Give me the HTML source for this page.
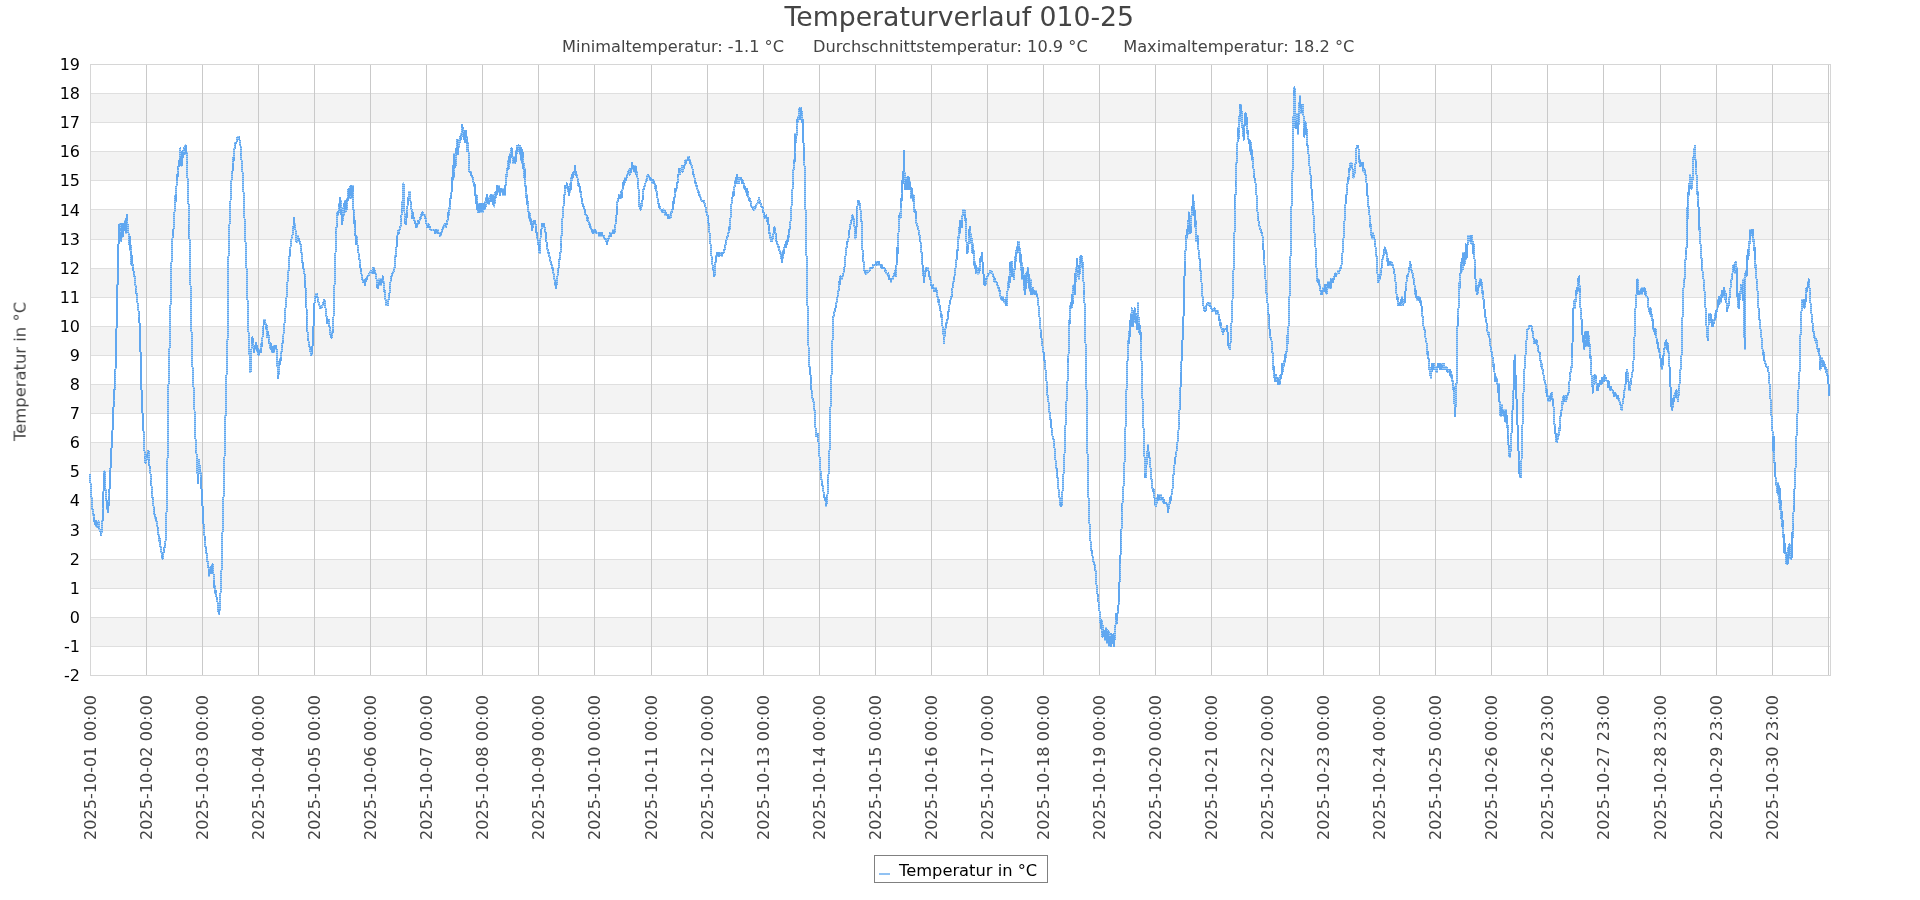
<!DOCTYPE html><html><head><meta charset="utf-8"><title>Temperaturverlauf 010-25</title><style>
html,body{margin:0;padding:0;background:#fff;width:1920px;height:900px;overflow:hidden}
text{font-family:"DejaVu Sans","Liberation Sans",sans-serif}
.yt{font-size:16px;fill:#000}
.xt{font-size:16.1px;fill:#444}
.title{font-size:26.7px;fill:#444}
.sub{font-size:16.2px;fill:#444}
.ylab{font-size:16.4px;fill:#444}
.leg{font-size:16.3px;fill:#000}
</style></head><body><svg width="1920" height="900" viewBox="0 0 1920 900" style="position:absolute;left:0;top:0">
<rect x="91" y="618" width="1737" height="28" fill="#f3f3f3"/>
<rect x="91" y="560" width="1737" height="28" fill="#f3f3f3"/>
<rect x="91" y="501" width="1737" height="29" fill="#f3f3f3"/>
<rect x="91" y="443" width="1737" height="28" fill="#f3f3f3"/>
<rect x="91" y="385" width="1737" height="28" fill="#f3f3f3"/>
<rect x="91" y="327" width="1737" height="28" fill="#f3f3f3"/>
<rect x="91" y="269" width="1737" height="28" fill="#f3f3f3"/>
<rect x="91" y="210" width="1737" height="29" fill="#f3f3f3"/>
<rect x="91" y="152" width="1737" height="28" fill="#f3f3f3"/>
<rect x="91" y="94" width="1737" height="28" fill="#f3f3f3"/>
<line x1="90" y1="646.5" x2="1830" y2="646.5" stroke="#dfdfdf" stroke-width="1"/>
<line x1="90" y1="617.5" x2="1830" y2="617.5" stroke="#dfdfdf" stroke-width="1"/>
<line x1="90" y1="588.5" x2="1830" y2="588.5" stroke="#dfdfdf" stroke-width="1"/>
<line x1="90" y1="559.5" x2="1830" y2="559.5" stroke="#dfdfdf" stroke-width="1"/>
<line x1="90" y1="530.5" x2="1830" y2="530.5" stroke="#dfdfdf" stroke-width="1"/>
<line x1="90" y1="500.5" x2="1830" y2="500.5" stroke="#dfdfdf" stroke-width="1"/>
<line x1="90" y1="471.5" x2="1830" y2="471.5" stroke="#dfdfdf" stroke-width="1"/>
<line x1="90" y1="442.5" x2="1830" y2="442.5" stroke="#dfdfdf" stroke-width="1"/>
<line x1="90" y1="413.5" x2="1830" y2="413.5" stroke="#dfdfdf" stroke-width="1"/>
<line x1="90" y1="384.5" x2="1830" y2="384.5" stroke="#dfdfdf" stroke-width="1"/>
<line x1="90" y1="355.5" x2="1830" y2="355.5" stroke="#dfdfdf" stroke-width="1"/>
<line x1="90" y1="326.5" x2="1830" y2="326.5" stroke="#dfdfdf" stroke-width="1"/>
<line x1="90" y1="297.5" x2="1830" y2="297.5" stroke="#dfdfdf" stroke-width="1"/>
<line x1="90" y1="268.5" x2="1830" y2="268.5" stroke="#dfdfdf" stroke-width="1"/>
<line x1="90" y1="239.5" x2="1830" y2="239.5" stroke="#dfdfdf" stroke-width="1"/>
<line x1="90" y1="209.5" x2="1830" y2="209.5" stroke="#dfdfdf" stroke-width="1"/>
<line x1="90" y1="180.5" x2="1830" y2="180.5" stroke="#dfdfdf" stroke-width="1"/>
<line x1="90" y1="151.5" x2="1830" y2="151.5" stroke="#dfdfdf" stroke-width="1"/>
<line x1="90" y1="122.5" x2="1830" y2="122.5" stroke="#dfdfdf" stroke-width="1"/>
<line x1="90" y1="93.5" x2="1830" y2="93.5" stroke="#dfdfdf" stroke-width="1"/>
<line x1="146.5" y1="64" x2="146.5" y2="675" stroke="#c9c9c9" stroke-width="1"/>
<line x1="202.5" y1="64" x2="202.5" y2="675" stroke="#c9c9c9" stroke-width="1"/>
<line x1="258.5" y1="64" x2="258.5" y2="675" stroke="#c9c9c9" stroke-width="1"/>
<line x1="314.5" y1="64" x2="314.5" y2="675" stroke="#c9c9c9" stroke-width="1"/>
<line x1="370.5" y1="64" x2="370.5" y2="675" stroke="#c9c9c9" stroke-width="1"/>
<line x1="426.5" y1="64" x2="426.5" y2="675" stroke="#c9c9c9" stroke-width="1"/>
<line x1="482.5" y1="64" x2="482.5" y2="675" stroke="#c9c9c9" stroke-width="1"/>
<line x1="538.5" y1="64" x2="538.5" y2="675" stroke="#c9c9c9" stroke-width="1"/>
<line x1="594.5" y1="64" x2="594.5" y2="675" stroke="#c9c9c9" stroke-width="1"/>
<line x1="651.5" y1="64" x2="651.5" y2="675" stroke="#c9c9c9" stroke-width="1"/>
<line x1="707.5" y1="64" x2="707.5" y2="675" stroke="#c9c9c9" stroke-width="1"/>
<line x1="763.5" y1="64" x2="763.5" y2="675" stroke="#c9c9c9" stroke-width="1"/>
<line x1="819.5" y1="64" x2="819.5" y2="675" stroke="#c9c9c9" stroke-width="1"/>
<line x1="875.5" y1="64" x2="875.5" y2="675" stroke="#c9c9c9" stroke-width="1"/>
<line x1="931.5" y1="64" x2="931.5" y2="675" stroke="#c9c9c9" stroke-width="1"/>
<line x1="987.5" y1="64" x2="987.5" y2="675" stroke="#c9c9c9" stroke-width="1"/>
<line x1="1043.5" y1="64" x2="1043.5" y2="675" stroke="#c9c9c9" stroke-width="1"/>
<line x1="1099.5" y1="64" x2="1099.5" y2="675" stroke="#c9c9c9" stroke-width="1"/>
<line x1="1155.5" y1="64" x2="1155.5" y2="675" stroke="#c9c9c9" stroke-width="1"/>
<line x1="1211.5" y1="64" x2="1211.5" y2="675" stroke="#c9c9c9" stroke-width="1"/>
<line x1="1267.5" y1="64" x2="1267.5" y2="675" stroke="#c9c9c9" stroke-width="1"/>
<line x1="1323.5" y1="64" x2="1323.5" y2="675" stroke="#c9c9c9" stroke-width="1"/>
<line x1="1379.5" y1="64" x2="1379.5" y2="675" stroke="#c9c9c9" stroke-width="1"/>
<line x1="1435.5" y1="64" x2="1435.5" y2="675" stroke="#c9c9c9" stroke-width="1"/>
<line x1="1491.5" y1="64" x2="1491.5" y2="675" stroke="#c9c9c9" stroke-width="1"/>
<line x1="1547.5" y1="64" x2="1547.5" y2="675" stroke="#c9c9c9" stroke-width="1"/>
<line x1="1603.5" y1="64" x2="1603.5" y2="675" stroke="#c9c9c9" stroke-width="1"/>
<line x1="1660.5" y1="64" x2="1660.5" y2="675" stroke="#c9c9c9" stroke-width="1"/>
<line x1="1716.5" y1="64" x2="1716.5" y2="675" stroke="#c9c9c9" stroke-width="1"/>
<line x1="1772.5" y1="64" x2="1772.5" y2="675" stroke="#c9c9c9" stroke-width="1"/>
<line x1="1828.5" y1="64" x2="1828.5" y2="675" stroke="#c9c9c9" stroke-width="1"/>
<rect x="90.5" y="64.5" width="1740" height="611" fill="none" stroke="#d6d6d6" stroke-width="1"/>
<g fill="none" stroke-width="2" stroke-linejoin="round" shape-rendering="crispEdges"><polyline points="90.0,474.2 90.25,477.2 90.5,483.0 90.75,488.8 91.0,491.7 91.25,497.5 91.75,497.5 92.0,506.2 92.25,509.2 92.75,509.2 93.0,512.1 93.25,515.0 93.75,515.0 94.0,520.8 94.25,517.9 94.5,520.8 94.75,520.8 95.0,523.7 95.25,520.8 95.5,523.7 95.75,520.8 96.0,520.8 96.25,523.7 96.5,526.6 96.75,526.6 97.0,523.7 97.25,523.7 97.5,526.6 97.75,523.7 98.25,523.7 98.5,520.8 98.75,526.6 99.25,526.6 99.5,529.5 100.25,529.5 100.5,532.4 100.75,529.5 101.0,529.5 101.25,535.3 101.5,532.4 101.75,532.4 102.0,529.5 102.25,520.8 102.75,520.8 103.0,509.2 103.25,500.4 103.5,491.7 103.75,480.1 104.0,474.2 104.25,471.3 104.5,471.3 104.75,474.2 105.0,477.2 105.25,485.9 105.5,488.8 105.75,494.6 106.0,497.5 106.25,500.4 106.5,500.4 106.75,503.3 107.0,509.2 107.5,509.2 107.75,512.1 108.0,509.2 108.25,509.2 108.5,506.2 108.75,503.3 109.0,500.4 109.25,494.6 109.5,488.8 109.75,483.0 110.0,480.1 110.25,471.3 110.5,468.4 110.75,462.6 111.0,456.8 111.25,453.9 111.5,448.1 111.75,445.1 112.0,439.3 112.25,433.5 112.5,430.6 112.75,424.8 113.0,419.0 113.25,413.1 113.5,407.3 113.75,401.5 114.0,398.6 114.25,392.8 114.5,389.9 114.75,384.0 115.0,378.2 115.25,372.4 115.5,369.5 115.75,363.7 116.0,366.6 116.25,346.2 116.5,328.8 116.75,317.1 117.0,311.3 117.25,302.6 117.5,285.1 117.75,273.5 118.0,264.8 118.25,253.1 118.5,244.4 118.75,241.5 119.0,229.8 119.25,232.8 119.5,224.0 120.0,224.0 120.25,229.8 120.5,229.8 120.75,241.5 121.0,241.5 121.25,232.8 121.5,238.6 121.75,226.9 122.0,235.7 122.25,224.0 122.5,232.8 122.75,226.9 123.0,229.8 123.25,235.7 123.5,224.0 123.75,224.0 124.0,226.9 124.75,226.9 125.0,221.1 125.25,229.8 125.5,226.9 125.75,232.8 126.25,232.8 126.5,218.2 126.75,221.1 127.0,215.3 127.25,218.2 127.5,224.0 127.75,226.9 128.0,229.8 128.25,229.8 128.5,232.8 128.75,235.7 129.0,244.4 129.25,241.5 129.5,235.7 129.75,244.4 130.0,250.2 130.25,244.4 130.5,244.4 130.75,256.0 131.0,253.1 131.25,256.0 131.5,264.8 131.75,256.0 132.0,261.8 132.25,261.8 132.5,264.8 132.75,264.8 133.0,267.7 133.25,267.7 133.5,270.6 133.75,273.5 134.0,273.5 134.25,276.4 134.5,276.4 134.75,279.3 135.0,282.2 135.25,285.1 135.5,285.1 135.75,288.0 136.0,288.0 136.25,290.9 136.5,293.9 136.75,293.9 137.0,296.8 137.25,299.7 137.5,302.6 137.75,305.5 138.0,305.5 138.25,308.4 138.5,311.3 138.75,311.3 139.0,314.2 139.25,317.1 139.5,322.9 139.75,328.8 140.0,337.5 140.25,343.3 140.5,352.0 140.75,357.9 141.0,363.7 141.25,378.2 141.5,389.9 141.75,395.7 142.0,401.5 142.25,410.2 142.5,413.1 142.75,416.1 143.0,424.8 143.25,430.6 143.5,430.6 143.75,436.4 144.0,442.2 144.25,445.1 144.5,451.0 144.75,456.8 145.0,456.8 145.25,459.7 145.5,462.6 145.75,459.7 146.5,459.7 146.75,456.8 147.25,456.8 147.5,453.9 148.0,453.9 148.25,451.0 148.5,451.0 148.75,459.7 149.0,459.7 149.25,462.6 149.5,465.5 149.75,468.4 150.25,468.4 150.5,474.2 150.75,474.2 151.0,480.1 151.25,480.1 151.5,485.9 151.75,491.7 152.0,491.7 152.25,494.6 152.5,497.5 152.75,497.5 153.0,500.4 153.25,503.3 153.5,506.2 153.75,509.2 154.0,509.2 154.25,512.1 154.5,515.0 154.75,515.0 155.0,517.9 155.75,517.9 156.0,520.8 156.5,520.8 156.75,523.7 157.0,526.6 157.5,526.6 157.75,529.5 158.0,529.5 158.25,532.4 158.5,535.3 159.0,535.3 159.25,541.2 159.5,538.3 159.75,541.2 160.0,541.2 160.25,544.1 160.5,547.0 161.0,547.0 161.25,549.9 161.5,552.8 161.75,552.8 162.0,555.7 162.25,555.7 162.5,558.6 162.75,558.6 163.0,555.7 163.25,555.7 163.5,552.8 163.75,552.8 164.0,549.9 164.25,549.9 164.5,547.0 164.75,547.0 165.0,544.1 165.25,544.1 165.5,541.2 165.75,535.3 166.0,529.5 166.25,520.8 166.5,512.1 166.75,500.4 167.0,491.7 167.25,474.2 167.5,459.7 167.75,436.4 168.0,404.4 168.25,392.8 168.5,384.0 168.75,375.3 169.0,366.6 169.25,355.0 169.5,349.1 169.75,337.5 170.0,331.7 170.25,317.1 170.5,305.5 170.75,293.9 171.0,282.2 171.25,270.6 171.5,261.8 171.75,253.1 172.0,244.4 172.25,241.5 172.5,238.6 172.75,235.7 173.0,235.7 173.25,229.8 173.5,229.8 173.75,224.0 174.0,221.1 174.25,218.2 174.5,212.4 174.75,209.5 175.0,206.6 175.25,203.7 175.5,194.9 175.75,200.7 176.0,200.7 176.25,197.8 176.5,186.2 176.75,177.5 177.0,174.6 177.25,180.4 177.5,177.5 177.75,174.6 178.0,168.7 178.25,168.7 178.5,165.8 178.75,162.9 179.0,165.8 179.25,162.9 179.5,160.0 179.75,160.0 180.0,157.1 180.25,148.4 180.5,151.3 180.75,154.2 181.0,162.9 181.25,157.1 181.5,165.8 181.75,165.8 182.0,154.2 182.25,151.3 182.5,154.2 182.75,157.1 183.0,154.2 183.25,157.1 183.5,154.2 183.75,148.4 184.0,154.2 184.5,154.2 184.75,148.4 185.0,145.5 185.25,151.3 185.5,145.5 185.75,154.2 186.0,145.5 186.25,148.4 186.5,151.3 186.75,162.9 187.0,162.9 187.25,171.7 187.5,177.5 187.75,186.2 188.0,194.9 188.25,203.7 188.5,203.7 188.75,215.3 189.0,224.0 189.25,229.8 189.5,238.6 189.75,244.4 190.0,250.2 190.25,267.7 190.5,285.1 190.75,299.7 191.0,311.3 191.25,320.0 191.5,331.7 191.75,340.4 192.0,349.1 192.25,360.8 192.5,366.6 192.75,372.4 193.0,375.3 193.25,381.1 193.5,387.0 193.75,392.8 194.0,395.7 194.25,407.3 194.5,410.2 194.75,421.9 195.0,424.8 195.25,436.4 195.5,439.3 195.75,442.2 196.0,451.0 196.25,451.0 196.5,453.9 196.75,459.7 197.0,465.5 197.25,471.3 197.5,474.2 197.75,477.2 198.0,483.0 198.25,477.2 198.5,474.2 198.75,471.3 199.0,465.5 199.25,459.7 199.5,465.5 199.75,465.5 200.0,468.4 200.25,471.3 200.5,471.3 200.75,477.2 201.0,477.2 201.25,485.9 201.5,488.8 201.75,494.6 202.0,497.5 202.25,500.4 202.5,506.2 202.75,512.1 203.0,517.9 203.25,520.8 203.5,523.7 203.75,526.6 204.0,526.6 204.25,535.3 204.5,535.3 204.75,541.2 205.0,538.3 205.25,544.1 205.5,547.0 206.0,547.0 206.25,552.8 206.5,552.8 206.75,555.7 207.0,558.6 207.25,558.6 207.5,561.5 207.75,564.4 208.0,561.5 208.25,567.3 208.5,567.3 208.75,570.3 209.0,573.2 209.25,576.1 209.5,570.3 209.75,573.2 210.75,573.2 211.0,567.3 211.25,573.2 211.5,573.2 211.75,570.3 212.0,570.3 212.25,564.4 212.5,564.4 212.75,567.3 213.0,573.2 213.5,573.2 213.75,584.8 214.0,581.9 214.25,587.7 214.5,584.8 214.75,590.6 215.0,590.6 215.25,593.5 215.5,593.5 215.75,590.6 216.0,593.5 216.25,596.4 216.5,596.4 216.75,599.4 217.25,599.4 217.5,602.3 217.75,605.2 218.0,611.0 218.75,611.0 219.0,613.9 219.25,613.9 219.5,611.0 219.75,605.2 220.0,602.3 220.25,599.4 220.5,593.5 220.75,590.6 221.0,581.9 221.25,579.0 221.5,570.3 221.75,561.5 222.0,552.8 222.25,541.2 222.5,532.4 222.75,523.7 223.0,515.0 223.25,506.2 223.5,497.5 223.75,485.9 224.0,477.2 224.25,468.4 224.5,456.8 224.75,448.1 225.0,436.4 225.25,427.7 225.5,416.1 225.75,404.4 226.0,392.8 226.25,381.1 226.5,375.3 226.75,372.4 227.0,369.5 227.25,366.6 227.5,340.4 227.75,308.4 228.0,273.5 228.25,264.8 228.5,256.0 228.75,247.3 229.0,235.7 229.25,229.8 229.5,224.0 229.75,218.2 230.0,212.4 230.25,206.6 230.5,200.7 230.75,194.9 231.0,189.1 231.25,186.2 231.5,180.4 231.75,177.5 232.0,174.6 232.25,171.7 232.5,171.7 232.75,165.8 233.0,162.9 233.25,165.8 233.5,157.1 233.75,160.0 234.0,157.1 234.25,154.2 234.5,148.4 234.75,148.4 235.0,145.5 235.25,142.6 236.5,142.6 236.75,139.6 237.25,139.6 237.5,136.7 237.75,139.6 238.0,136.7 238.75,136.7 239.0,139.6 239.5,139.6 239.75,145.5 240.5,145.5 240.75,148.4 241.0,154.2 241.25,154.2 241.5,160.0 241.75,162.9 242.0,165.8 242.25,168.7 242.5,171.7 242.75,174.6 243.0,180.4 243.25,186.2 243.5,192.0 243.75,200.7 244.0,203.7 244.25,209.5 244.5,218.2 244.75,224.0 245.0,229.8 245.25,235.7 245.5,241.5 245.75,247.3 246.0,253.1 246.25,261.8 246.5,267.7 246.75,273.5 247.0,282.2 247.25,290.9 247.5,299.7 247.75,308.4 248.0,317.1 248.25,322.9 248.5,331.7 248.75,340.4 249.0,349.1 249.25,352.0 249.5,355.0 249.75,366.6 250.0,369.5 250.25,372.4 250.5,372.4 250.75,366.6 251.0,355.0 251.25,352.0 251.5,349.1 251.75,346.2 252.0,343.3 252.25,343.3 252.5,337.5 252.75,340.4 253.0,343.3 253.25,343.3 253.5,346.2 253.75,346.2 254.0,349.1 254.25,352.0 254.5,349.1 254.75,349.1 255.0,346.2 255.25,349.1 255.5,349.1 255.75,346.2 256.0,343.3 256.25,346.2 256.5,349.1 256.75,349.1 257.0,346.2 257.25,349.1 257.5,352.0 257.75,352.0 258.0,349.1 258.25,352.0 258.5,355.0 258.75,355.0 259.0,352.0 259.25,355.0 259.5,352.0 260.25,352.0 260.5,349.1 260.75,352.0 261.0,349.1 261.25,349.1 261.5,343.3 261.75,346.2 262.0,346.2 262.25,340.4 262.5,337.5 262.75,334.6 263.0,334.6 263.25,331.7 263.5,325.9 263.75,320.0 264.0,322.9 264.25,322.9 264.5,320.0 264.75,320.0 265.0,322.9 265.5,322.9 265.75,325.9 266.0,325.9 266.25,328.8 266.5,325.9 266.75,325.9 267.0,328.8 267.25,328.8 267.5,337.5 267.75,331.7 268.0,334.6 268.5,334.6 268.75,337.5 269.0,343.3 269.25,340.4 269.5,343.3 269.75,343.3 270.0,346.2 270.25,346.2 270.5,349.1 270.75,343.3 271.0,346.2 271.5,346.2 271.75,349.1 272.0,352.0 272.5,352.0 272.75,349.1 273.0,349.1 273.25,352.0 273.5,346.2 273.75,352.0 274.0,346.2 275.25,346.2 275.5,349.1 275.75,346.2 276.25,346.2 276.5,349.1 276.75,355.0 277.0,357.9 277.25,360.8 277.5,366.6 277.75,372.4 278.0,378.2 278.25,375.3 278.5,375.3 278.75,372.4 279.0,372.4 279.25,369.5 279.5,360.8 279.75,363.7 280.0,363.7 280.25,360.8 280.5,357.9 280.75,360.8 281.0,357.9 281.25,352.0 281.5,352.0 281.75,349.1 282.0,346.2 282.25,346.2 282.5,343.3 282.75,343.3 283.0,340.4 283.25,340.4 283.5,334.6 283.75,331.7 284.0,328.8 284.25,325.9 284.5,322.9 284.75,320.0 285.0,314.2 285.25,311.3 285.5,308.4 285.75,305.5 286.0,302.6 286.25,299.7 286.5,296.8 286.75,293.9 287.0,290.9 287.25,285.1 287.5,282.2 287.75,279.3 288.0,276.4 288.25,276.4 288.5,270.6 288.75,267.7 289.0,264.8 289.25,258.9 289.5,256.0 289.75,256.0 290.0,250.2 290.25,250.2 290.5,247.3 290.75,244.4 291.0,241.5 291.25,241.5 291.5,238.6 291.75,238.6 292.0,235.7 292.5,235.7 292.75,232.8 293.0,229.8 293.25,226.9 293.5,226.9 293.75,221.1 294.0,218.2 294.25,221.1 294.5,224.0 295.0,224.0 295.25,226.9 295.5,229.8 295.75,232.8 296.0,235.7 296.25,238.6 296.5,241.5 297.5,241.5 297.75,238.6 298.0,235.7 298.25,238.6 298.75,238.6 299.0,241.5 299.75,241.5 300.0,244.4 300.5,244.4 300.75,247.3 301.0,250.2 301.25,250.2 301.5,253.1 301.75,253.1 302.0,256.0 302.25,261.8 302.5,261.8 302.75,264.8 303.0,267.7 303.5,267.7 303.75,270.6 304.0,270.6 304.25,273.5 304.5,273.5 304.75,276.4 305.0,279.3 305.25,282.2 305.5,288.0 305.75,293.9 306.0,296.8 306.25,302.6 306.5,308.4 306.75,317.1 307.0,322.9 307.25,328.8 307.5,331.7 307.75,334.6 308.0,337.5 308.25,340.4 308.5,340.4 308.75,346.2 309.5,346.2 309.75,349.1 310.25,349.1 310.5,352.0 310.75,355.0 311.5,355.0 311.75,352.0 312.25,352.0 312.5,346.2 312.75,343.3 313.0,337.5 313.25,331.7 313.5,325.9 313.75,320.0 314.0,311.3 314.25,305.5 314.5,302.6 314.75,302.6 315.0,299.7 315.25,296.8 315.75,296.8 316.0,293.9 316.75,293.9 317.0,296.8 317.5,296.8 317.75,299.7 318.0,299.7 318.25,302.6 319.0,302.6 319.25,305.5 319.5,305.5 319.75,308.4 320.0,305.5 321.0,305.5 321.25,308.4 321.5,308.4 321.75,305.5 323.0,305.5 323.25,302.6 324.0,302.6 324.25,299.7 324.5,299.7 324.75,302.6 325.0,302.6 325.25,305.5 325.5,308.4 325.75,308.4 326.0,311.3 326.25,314.2 326.5,317.1 326.75,317.1 327.0,320.0 327.25,322.9 328.0,322.9 328.25,320.0 329.0,320.0 329.25,325.9 329.5,325.9 329.75,328.8 330.25,328.8 330.5,334.6 331.25,334.6 331.5,337.5 332.0,337.5 332.25,334.6 332.5,331.7 332.75,328.8 333.0,331.7 333.25,322.9 333.5,317.1 333.75,308.4 334.0,305.5 334.25,299.7 334.5,285.1 334.75,282.2 335.0,273.5 335.25,267.7 335.5,253.1 335.75,244.4 336.0,232.8 336.25,232.8 336.5,226.9 336.75,226.9 337.0,224.0 337.25,215.3 337.5,212.4 337.75,215.3 338.0,215.3 338.25,212.4 338.75,212.4 339.0,203.7 339.25,206.6 339.5,203.7 339.75,206.6 340.0,197.8 340.25,203.7 340.5,209.5 340.75,200.7 341.0,212.4 341.25,209.5 341.5,215.3 341.75,224.0 342.0,224.0 342.25,221.1 342.5,221.1 342.75,218.2 343.0,215.3 343.25,215.3 343.5,206.6 343.75,215.3 344.0,203.7 344.25,206.6 344.5,203.7 344.75,200.7 345.0,200.7 345.25,209.5 345.5,212.4 345.75,209.5 346.25,209.5 346.5,200.7 346.75,209.5 347.0,200.7 347.25,206.6 347.5,197.8 347.75,200.7 348.0,197.8 348.25,194.9 348.5,189.1 348.75,194.9 349.0,194.9 349.25,197.8 349.5,192.0 349.75,194.9 350.0,189.1 350.25,192.0 350.5,186.2 350.75,197.8 351.0,192.0 351.25,186.2 351.5,192.0 351.75,194.9 352.0,192.0 352.25,197.8 352.5,192.0 352.75,186.2 353.0,194.9 353.25,206.6 353.5,209.5 354.0,209.5 354.25,221.1 354.5,224.0 354.75,221.1 355.0,224.0 355.25,229.8 355.5,235.7 355.75,238.6 356.0,238.6 356.25,244.4 356.5,235.7 356.75,244.4 357.0,241.5 357.25,244.4 357.5,244.4 357.75,250.2 358.25,250.2 358.5,253.1 358.75,256.0 359.0,256.0 359.25,258.9 359.5,258.9 359.75,261.8 360.0,264.8 360.25,264.8 360.5,267.7 360.75,270.6 361.0,270.6 361.25,273.5 361.5,273.5 361.75,276.4 362.0,276.4 362.25,279.3 362.75,279.3 363.0,282.2 364.5,282.2 364.75,285.1 365.0,282.2 365.25,279.3 365.5,282.2 365.75,279.3 366.75,279.3 367.0,276.4 368.5,276.4 368.75,273.5 370.25,273.5 370.5,270.6 370.75,273.5 371.0,270.6 371.25,270.6 371.5,273.5 371.75,270.6 372.5,270.6 372.75,267.7 373.0,270.6 373.25,273.5 373.5,270.6 373.75,273.5 374.0,270.6 374.25,267.7 374.5,270.6 374.75,273.5 375.0,273.5 375.25,270.6 375.5,273.5 375.75,276.4 376.0,276.4 376.25,273.5 376.5,279.3 376.75,282.2 377.0,285.1 377.25,285.1 377.5,288.0 377.75,288.0 378.0,285.1 378.25,288.0 378.5,285.1 378.75,285.1 379.0,279.3 379.25,285.1 379.5,282.2 380.0,282.2 380.25,279.3 380.5,282.2 380.75,282.2 381.0,285.1 381.25,282.2 381.5,279.3 381.75,279.3 382.0,282.2 382.25,279.3 382.5,279.3 382.75,276.4 383.0,279.3 383.25,279.3 383.5,282.2 384.0,282.2 384.25,290.9 384.75,290.9 385.0,293.9 385.25,296.8 385.5,299.7 385.75,299.7 386.0,302.6 386.25,305.5 386.5,302.6 387.75,302.6 388.0,305.5 388.25,302.6 388.5,299.7 388.75,296.8 389.0,296.8 389.25,293.9 389.5,293.9 389.75,288.0 390.0,288.0 390.25,285.1 390.5,282.2 390.75,279.3 391.25,279.3 391.5,276.4 391.75,276.4 392.0,273.5 393.25,273.5 393.5,270.6 394.25,270.6 394.5,267.7 394.75,264.8 395.0,261.8 395.25,256.0 395.75,256.0 396.0,250.2 396.25,247.3 396.5,247.3 396.75,244.4 397.0,241.5 397.25,238.6 397.5,235.7 397.75,232.8 398.25,232.8 398.5,229.8 398.75,229.8 399.0,232.8 399.25,229.8 399.75,229.8 400.0,226.9 400.5,226.9 400.75,221.1 401.0,218.2 401.25,218.2 401.5,215.3 401.75,212.4 402.0,209.5 402.25,209.5 402.5,200.7 402.75,194.9 403.0,189.1 403.25,186.2 403.5,183.3 403.75,189.1 404.0,200.7 404.25,203.7 404.5,212.4 404.75,218.2 405.0,218.2 405.25,221.1 405.5,224.0 405.75,221.1 406.0,224.0 406.25,221.1 406.5,218.2 406.75,212.4 407.0,212.4 407.25,206.6 407.5,206.6 407.75,197.8 408.0,203.7 408.25,197.8 408.75,197.8 409.0,194.9 409.25,192.0 409.75,192.0 410.0,197.8 410.25,200.7 410.5,200.7 410.75,203.7 411.0,203.7 411.25,206.6 411.5,209.5 411.75,209.5 412.0,212.4 412.25,218.2 412.75,218.2 413.0,212.4 413.25,218.2 414.25,218.2 414.5,221.1 415.25,221.1 415.5,224.0 416.0,224.0 416.25,226.9 416.5,224.0 416.75,226.9 417.0,224.0 418.0,224.0 418.25,221.1 418.5,224.0 418.75,221.1 419.5,221.1 419.75,218.2 420.75,218.2 421.0,215.3 422.25,215.3 422.5,212.4 422.75,215.3 425.0,215.3 425.25,218.2 425.5,218.2 425.75,221.1 426.25,221.1 426.5,224.0 427.0,224.0 427.25,226.9 428.25,226.9 428.5,224.0 428.75,226.9 430.0,226.9 430.25,229.8 435.0,229.8 435.25,232.8 435.5,229.8 435.75,232.8 436.0,229.8 436.5,229.8 436.75,232.8 437.75,232.8 438.0,229.8 438.25,232.8 439.5,232.8 439.75,235.7 440.75,235.7 441.0,232.8 441.5,232.8 441.75,229.8 442.5,229.8 442.75,226.9 444.25,226.9 444.5,224.0 445.25,224.0 445.5,226.9 446.0,226.9 446.25,224.0 447.0,224.0 447.25,221.1 447.5,221.1 447.75,218.2 448.0,218.2 448.25,215.3 448.5,212.4 449.0,212.4 449.25,215.3 449.5,206.6 449.75,209.5 450.0,200.7 450.25,203.7 450.5,197.8 450.75,194.9 451.0,197.8 451.25,194.9 451.5,192.0 451.75,183.3 452.0,177.5 452.25,177.5 452.5,180.4 452.75,171.7 453.0,180.4 453.25,165.8 453.5,171.7 453.75,177.5 454.0,154.2 454.25,160.0 454.5,168.7 454.75,162.9 455.0,162.9 455.25,160.0 455.5,165.8 455.75,160.0 456.0,154.2 456.25,154.2 456.5,148.4 456.75,151.3 457.0,139.6 457.25,151.3 457.5,145.5 457.75,154.2 458.0,151.3 458.25,139.6 458.5,148.4 458.75,142.6 459.0,142.6 459.25,145.5 459.5,142.6 460.0,142.6 460.25,136.7 460.5,136.7 460.75,139.6 461.0,139.6 461.25,133.8 461.5,133.8 461.75,128.0 462.0,125.1 462.25,125.1 462.5,128.0 462.75,128.0 463.0,130.9 463.25,133.8 463.5,136.7 463.75,136.7 464.0,139.6 464.25,133.8 464.5,139.6 464.75,139.6 465.0,142.6 465.25,130.9 465.5,136.7 465.75,130.9 466.0,136.7 466.25,133.8 466.5,142.6 466.75,139.6 467.0,136.7 467.25,151.3 467.5,142.6 467.75,142.6 468.0,148.4 468.25,151.3 468.5,151.3 468.75,162.9 469.0,162.9 469.25,168.7 469.5,171.7 470.5,171.7 470.75,174.6 471.0,171.7 471.25,174.6 471.5,174.6 471.75,177.5 472.5,177.5 472.75,180.4 473.0,177.5 473.25,177.5 473.5,183.3 474.0,183.3 474.25,186.2 474.5,183.3 474.75,194.9 475.0,192.0 475.25,186.2 475.5,194.9 475.75,197.8 476.0,197.8 476.25,203.7 476.5,194.9 476.75,206.6 477.0,200.7 477.25,209.5 477.5,203.7 477.75,206.6 478.0,212.4 478.25,206.6 478.5,212.4 478.75,212.4 479.0,203.7 479.25,212.4 479.5,212.4 479.75,203.7 480.0,209.5 480.25,203.7 480.5,209.5 480.75,212.4 481.0,209.5 481.25,203.7 481.5,203.7 481.75,209.5 482.5,209.5 482.75,203.7 483.0,206.6 483.25,212.4 483.5,209.5 483.75,203.7 484.0,203.7 484.25,206.6 484.5,209.5 484.75,203.7 485.0,209.5 485.25,209.5 485.5,200.7 485.75,206.6 486.0,200.7 486.25,197.8 486.5,200.7 486.75,200.7 487.0,194.9 487.25,197.8 487.5,200.7 487.75,197.8 488.0,197.8 488.25,203.7 488.5,197.8 488.75,197.8 489.0,203.7 489.25,197.8 489.75,197.8 490.0,200.7 490.25,197.8 490.5,194.9 490.75,194.9 491.0,200.7 491.25,194.9 491.5,200.7 491.75,197.8 492.0,194.9 492.25,200.7 492.5,200.7 492.75,194.9 493.0,203.7 493.25,203.7 493.5,200.7 493.75,197.8 494.0,206.6 494.25,206.6 494.5,203.7 494.75,203.7 495.0,200.7 495.25,197.8 495.5,192.0 495.75,197.8 496.0,192.0 496.25,192.0 496.5,194.9 496.75,192.0 497.0,186.2 497.25,189.1 497.5,192.0 497.75,189.1 498.0,192.0 498.25,186.2 498.5,186.2 498.75,192.0 499.0,189.1 499.25,186.2 499.5,192.0 499.75,189.1 500.0,194.9 500.25,192.0 500.5,192.0 500.75,189.1 501.0,192.0 502.5,192.0 502.75,194.9 503.0,189.1 503.25,192.0 503.5,192.0 503.75,194.9 504.0,194.9 504.25,192.0 504.5,194.9 504.75,194.9 505.0,186.2 505.5,186.2 505.75,180.4 506.0,177.5 506.25,174.6 506.5,177.5 506.75,174.6 507.0,168.7 508.0,168.7 508.25,165.8 508.5,160.0 508.75,168.7 509.0,157.1 509.25,157.1 509.5,160.0 509.75,154.2 510.0,162.9 510.25,160.0 510.5,157.1 510.75,151.3 511.25,151.3 511.5,148.4 511.75,157.1 512.0,148.4 512.25,157.1 512.75,157.1 513.0,160.0 513.25,162.9 513.5,162.9 513.75,160.0 514.0,157.1 514.25,157.1 514.5,162.9 515.0,162.9 515.25,157.1 515.5,162.9 515.75,151.3 516.0,157.1 516.25,157.1 516.5,154.2 516.75,148.4 517.0,151.3 517.25,145.5 517.5,148.4 517.75,145.5 518.0,145.5 518.25,148.4 518.5,145.5 518.75,148.4 519.0,148.4 519.25,151.3 519.5,151.3 519.75,145.5 520.0,154.2 520.25,148.4 520.75,148.4 521.0,160.0 521.25,151.3 521.5,148.4 521.75,154.2 522.0,151.3 522.25,162.9 522.5,151.3 522.75,157.1 523.0,154.2 523.25,168.7 523.5,162.9 523.75,168.7 524.0,168.7 524.25,177.5 524.5,177.5 524.75,168.7 525.0,183.3 525.25,186.2 525.5,186.2 525.75,192.0 526.0,186.2 526.25,186.2 526.5,197.8 526.75,203.7 527.0,194.9 527.25,200.7 527.5,200.7 527.75,203.7 528.0,209.5 528.25,209.5 528.5,212.4 528.75,215.3 529.0,212.4 529.25,218.2 529.5,212.4 529.75,218.2 530.0,221.1 530.25,218.2 530.5,218.2 530.75,221.1 531.0,224.0 531.25,224.0 531.5,221.1 531.75,226.9 532.0,229.8 532.25,224.0 532.5,226.9 533.25,226.9 533.5,224.0 533.75,224.0 534.0,221.1 534.25,221.1 534.5,224.0 534.75,221.1 535.0,221.1 535.25,224.0 535.5,224.0 535.75,226.9 536.0,229.8 536.25,226.9 536.5,232.8 536.75,235.7 537.0,232.8 537.25,238.6 537.5,238.6 537.75,241.5 538.0,244.4 538.75,244.4 539.0,250.2 539.25,247.3 539.5,253.1 539.75,253.1 540.0,244.4 540.25,241.5 540.5,238.6 540.75,229.8 541.0,232.8 541.25,229.8 541.5,229.8 541.75,224.0 542.0,226.9 542.25,224.0 542.5,226.9 542.75,224.0 543.0,226.9 543.25,226.9 543.5,224.0 543.75,226.9 544.0,226.9 544.25,224.0 544.5,226.9 544.75,229.8 545.0,229.8 545.25,232.8 545.75,232.8 546.0,238.6 546.25,241.5 546.5,241.5 546.75,244.4 547.0,247.3 547.25,244.4 547.5,250.2 548.0,250.2 548.25,253.1 549.0,253.1 549.25,256.0 549.5,256.0 549.75,258.9 550.25,258.9 550.5,261.8 551.25,261.8 551.5,264.8 551.75,264.8 552.0,267.7 552.75,267.7 553.0,270.6 553.25,270.6 553.5,273.5 553.75,273.5 554.0,276.4 554.25,279.3 554.5,279.3 554.75,282.2 555.0,282.2 555.25,285.1 555.5,282.2 555.75,285.1 556.0,288.0 556.25,285.1 556.5,285.1 556.75,279.3 557.25,279.3 557.5,276.4 557.75,273.5 558.0,270.6 558.25,270.6 558.5,267.7 558.75,267.7 559.0,264.8 559.25,261.8 559.5,258.9 559.75,258.9 560.0,256.0 560.25,253.1 560.5,253.1 560.75,247.3 561.0,244.4 561.25,247.3 561.5,235.7 561.75,232.8 562.0,229.8 562.25,226.9 562.5,218.2 562.75,215.3 563.0,209.5 563.25,206.6 563.5,206.6 563.75,200.7 564.0,197.8 564.25,194.9 564.5,194.9 564.75,192.0 565.0,186.2 565.25,189.1 565.5,186.2 566.5,186.2 566.75,183.3 567.0,186.2 567.25,186.2 567.5,189.1 567.75,186.2 568.0,189.1 568.25,189.1 568.5,192.0 568.75,189.1 569.0,192.0 569.25,194.9 569.5,192.0 569.75,192.0 570.0,189.1 570.25,189.1 570.5,183.3 570.75,189.1 571.0,183.3 571.25,186.2 571.5,177.5 571.75,180.4 572.0,177.5 572.25,174.6 572.5,174.6 572.75,177.5 573.0,174.6 573.25,177.5 573.5,171.7 574.75,171.7 575.0,168.7 575.25,165.8 575.5,174.6 575.75,171.7 576.25,171.7 576.5,174.6 576.75,174.6 577.0,177.5 577.25,174.6 577.5,177.5 577.75,180.4 578.0,180.4 578.25,183.3 578.5,186.2 578.75,183.3 579.0,186.2 579.75,186.2 580.0,192.0 580.75,192.0 581.0,194.9 581.25,197.8 581.5,197.8 581.75,200.7 582.25,200.7 582.5,203.7 583.0,203.7 583.25,206.6 584.0,206.6 584.25,209.5 584.5,209.5 584.75,212.4 585.0,209.5 585.25,212.4 585.5,215.3 586.5,215.3 586.75,218.2 587.25,218.2 587.5,221.1 588.0,221.1 588.25,218.2 588.5,221.1 588.75,224.0 590.0,224.0 590.25,226.9 591.0,226.9 591.25,229.8 592.25,229.8 592.5,232.8 592.75,229.8 593.5,229.8 593.75,232.8 594.0,229.8 594.25,229.8 594.5,232.8 595.25,232.8 595.5,229.8 595.75,232.8 598.75,232.8 599.0,235.7 599.25,232.8 600.75,232.8 601.0,235.7 601.25,235.7 601.5,232.8 601.75,235.7 602.0,235.7 602.25,232.8 602.5,235.7 604.0,235.7 604.25,238.6 606.0,238.6 606.25,241.5 607.0,241.5 607.25,244.4 607.5,241.5 608.0,241.5 608.25,238.6 608.5,238.6 608.75,235.7 609.0,238.6 609.25,235.7 610.0,235.7 610.25,232.8 610.5,232.8 610.75,235.7 611.0,235.7 611.25,232.8 612.5,232.8 612.75,229.8 613.0,232.8 613.25,232.8 613.5,229.8 613.75,232.8 614.0,229.8 614.25,232.8 614.5,232.8 614.75,229.8 615.0,226.9 615.25,226.9 615.5,224.0 615.75,221.1 616.0,221.1 616.25,218.2 616.5,215.3 616.75,212.4 617.0,206.6 617.25,206.6 617.5,200.7 618.25,200.7 618.5,197.8 618.75,194.9 619.5,194.9 619.75,197.8 620.25,197.8 620.5,194.9 621.0,194.9 621.25,192.0 621.5,192.0 621.75,197.8 622.0,192.0 622.25,192.0 622.5,189.1 622.75,183.3 623.0,189.1 623.25,186.2 623.5,186.2 623.75,183.3 624.0,183.3 624.25,180.4 624.5,183.3 624.75,177.5 625.0,180.4 625.25,180.4 625.5,177.5 625.75,177.5 626.0,180.4 626.25,177.5 626.75,177.5 627.0,174.6 627.25,177.5 627.5,174.6 628.0,174.6 628.25,171.7 629.25,171.7 629.5,168.7 629.75,174.6 630.0,168.7 630.75,168.7 631.0,171.7 631.25,168.7 631.5,168.7 631.75,165.8 632.0,168.7 632.25,162.9 632.5,165.8 634.0,165.8 634.25,168.7 634.5,171.7 634.75,168.7 635.0,171.7 635.25,168.7 635.5,165.8 635.75,168.7 636.0,171.7 636.25,171.7 636.5,174.6 636.75,174.6 637.0,171.7 637.25,174.6 637.5,177.5 637.75,180.4 638.0,183.3 638.25,183.3 638.5,189.1 638.75,192.0 639.0,197.8 639.25,197.8 639.5,206.6 639.75,209.5 640.5,209.5 640.75,203.7 641.0,209.5 641.25,206.6 641.75,206.6 642.0,203.7 642.25,200.7 642.5,200.7 642.75,194.9 643.0,197.8 643.25,192.0 643.5,189.1 644.25,189.1 644.5,186.2 645.25,186.2 645.5,183.3 645.75,180.4 646.75,180.4 647.0,177.5 647.25,177.5 647.5,174.6 648.0,174.6 648.25,177.5 648.5,174.6 648.75,177.5 649.5,177.5 649.75,180.4 650.5,180.4 650.75,177.5 651.0,180.4 651.75,180.4 652.0,183.3 652.25,180.4 652.5,180.4 652.75,183.3 653.25,183.3 653.5,180.4 653.75,183.3 654.75,183.3 655.0,186.2 655.25,186.2 655.5,189.1 655.75,189.1 656.0,186.2 656.25,186.2 656.5,192.0 656.75,192.0 657.0,194.9 657.25,194.9 657.5,197.8 657.75,200.7 658.25,200.7 658.5,203.7 658.75,206.6 659.0,203.7 659.25,206.6 659.75,206.6 660.0,209.5 661.75,209.5 662.0,212.4 662.5,212.4 662.75,209.5 663.0,212.4 663.25,212.4 663.5,209.5 663.75,212.4 664.0,212.4 664.25,209.5 664.5,209.5 664.75,212.4 665.0,212.4 665.25,215.3 665.5,212.4 665.75,212.4 666.0,215.3 667.5,215.3 667.75,218.2 668.0,215.3 668.25,218.2 668.5,215.3 669.0,215.3 669.25,218.2 670.5,218.2 670.75,212.4 671.0,215.3 671.25,212.4 672.0,212.4 672.25,209.5 672.5,209.5 672.75,206.6 673.0,209.5 673.25,206.6 673.5,200.7 673.75,203.7 674.0,200.7 674.25,197.8 674.5,197.8 674.75,194.9 675.0,194.9 675.25,189.1 675.5,192.0 675.75,189.1 676.5,189.1 676.75,183.3 677.5,183.3 677.75,180.4 678.0,177.5 678.25,177.5 678.5,174.6 678.75,171.7 679.0,168.7 679.25,171.7 679.75,171.7 680.0,174.6 680.25,171.7 680.5,168.7 681.75,168.7 682.0,165.8 682.25,171.7 682.5,168.7 682.75,171.7 683.0,165.8 683.5,165.8 683.75,168.7 684.0,165.8 684.5,165.8 684.75,162.9 685.25,162.9 685.5,160.0 685.75,162.9 686.0,162.9 686.25,160.0 687.75,160.0 688.0,157.1 688.25,160.0 688.5,157.1 688.75,157.1 689.0,160.0 689.75,160.0 690.0,162.9 690.25,160.0 690.5,162.9 691.25,162.9 691.5,165.8 692.0,165.8 692.25,168.7 692.5,168.7 692.75,171.7 693.25,171.7 693.5,174.6 694.25,174.6 694.5,177.5 694.75,180.4 695.0,180.4 695.25,183.3 696.0,183.3 696.25,186.2 697.0,186.2 697.25,189.1 697.5,189.1 697.75,192.0 699.0,192.0 699.25,194.9 700.0,194.9 700.25,197.8 701.25,197.8 701.5,200.7 704.25,200.7 704.5,203.7 705.0,203.7 705.25,206.6 705.5,206.6 705.75,209.5 706.0,209.5 706.25,212.4 706.75,212.4 707.0,215.3 707.75,215.3 708.0,218.2 708.25,221.1 708.5,224.0 708.75,224.0 709.0,226.9 709.25,229.8 709.5,232.8 709.75,235.7 710.0,238.6 710.25,241.5 710.5,244.4 710.75,247.3 711.0,250.2 711.25,253.1 711.5,256.0 711.75,258.9 712.0,258.9 712.25,261.8 712.5,264.8 712.75,267.7 713.0,267.7 713.25,270.6 713.5,270.6 713.75,273.5 714.0,276.4 714.5,276.4 714.75,273.5 715.0,267.7 715.25,264.8 715.5,261.8 716.0,261.8 716.25,256.0 716.5,256.0 716.75,253.1 717.0,256.0 717.25,256.0 717.5,253.1 717.75,256.0 718.5,256.0 718.75,253.1 719.0,256.0 719.25,253.1 719.5,256.0 719.75,253.1 721.5,253.1 721.75,256.0 722.0,253.1 723.5,253.1 723.75,250.2 724.5,250.2 724.75,247.3 725.25,247.3 725.5,244.4 725.75,244.4 726.0,241.5 726.25,241.5 726.5,238.6 727.25,238.6 727.5,235.7 728.0,235.7 728.25,232.8 728.75,232.8 729.0,226.9 729.25,229.8 729.5,229.8 729.75,226.9 730.0,224.0 730.25,221.1 730.5,218.2 730.75,215.3 731.0,209.5 731.25,209.5 731.5,203.7 731.75,203.7 732.0,200.7 732.25,197.8 732.5,197.8 732.75,192.0 733.0,194.9 733.25,194.9 733.5,192.0 734.0,192.0 734.25,194.9 734.5,186.2 734.75,186.2 735.0,183.3 735.25,183.3 735.5,180.4 735.75,183.3 736.0,180.4 736.25,180.4 736.5,177.5 736.75,174.6 737.0,177.5 737.25,180.4 737.5,177.5 737.75,180.4 738.0,183.3 738.25,180.4 738.5,180.4 738.75,183.3 739.0,180.4 739.25,177.5 739.5,180.4 739.75,177.5 740.25,177.5 740.5,180.4 741.0,180.4 741.25,177.5 741.5,180.4 741.75,183.3 742.0,180.4 742.5,180.4 742.75,183.3 743.5,183.3 743.75,186.2 744.25,186.2 744.5,189.1 744.75,186.2 745.0,189.1 745.5,189.1 745.75,192.0 746.0,189.1 746.25,189.1 746.5,192.0 746.75,189.1 747.0,194.9 747.25,194.9 747.5,192.0 748.0,192.0 748.25,194.9 748.5,197.8 749.0,197.8 749.25,200.7 749.5,197.8 749.75,200.7 750.5,200.7 750.75,203.7 751.0,203.7 751.25,206.6 752.5,206.6 752.75,209.5 753.0,209.5 753.25,206.6 753.5,209.5 755.0,209.5 755.25,206.6 756.25,206.6 756.5,203.7 757.5,203.7 757.75,200.7 758.5,200.7 758.75,197.8 759.25,197.8 759.5,200.7 760.25,200.7 760.5,203.7 761.25,203.7 761.5,206.6 762.5,206.6 762.75,209.5 763.0,209.5 763.25,212.4 764.0,212.4 764.25,215.3 764.5,218.2 766.0,218.2 766.25,215.3 766.5,218.2 766.75,218.2 767.0,221.1 767.5,221.1 767.75,224.0 768.0,218.2 768.25,224.0 768.5,224.0 768.75,229.8 769.0,226.9 769.25,232.8 770.0,232.8 770.25,238.6 770.5,235.7 770.75,241.5 771.0,238.6 771.5,238.6 771.75,241.5 772.0,238.6 773.0,238.6 773.25,235.7 773.5,232.8 774.0,232.8 774.25,229.8 774.5,226.9 774.75,229.8 775.25,229.8 775.5,232.8 775.75,235.7 776.0,238.6 776.25,241.5 777.0,241.5 777.25,244.4 778.0,244.4 778.25,247.3 779.0,247.3 779.25,250.2 779.75,250.2 780.0,253.1 781.0,253.1 781.25,256.0 781.5,258.9 781.75,258.9 782.0,256.0 782.25,261.8 782.5,258.9 782.75,256.0 783.0,253.1 783.25,256.0 783.5,250.2 783.75,253.1 784.0,250.2 784.25,250.2 784.5,247.3 785.0,247.3 785.25,244.4 785.5,247.3 785.75,247.3 786.0,244.4 786.25,244.4 786.5,241.5 786.75,244.4 787.0,241.5 787.25,241.5 787.5,238.6 787.75,241.5 788.0,235.7 788.25,235.7 788.5,238.6 788.75,235.7 789.0,229.8 789.25,232.8 789.5,229.8 789.75,226.9 790.0,226.9 790.25,224.0 790.5,221.1 790.75,218.2 791.0,215.3 791.25,212.4 791.5,206.6 791.75,200.7 792.0,194.9 792.25,192.0 792.5,189.1 792.75,183.3 793.0,183.3 793.25,174.6 793.5,168.7 794.0,168.7 794.25,160.0 794.5,162.9 794.75,154.2 795.0,151.3 795.25,133.8 795.5,139.6 795.75,142.6 796.0,139.6 796.25,133.8 796.5,136.7 796.75,128.0 797.0,128.0 797.25,119.3 797.5,122.2 798.25,122.2 798.5,116.4 798.75,116.4 799.0,110.6 799.25,116.4 799.5,107.6 799.75,110.6 800.0,110.6 800.25,119.3 800.5,116.4 800.75,107.6 801.0,107.6 801.25,110.6 801.5,110.6 801.75,116.4 802.0,119.3 802.25,122.2 802.5,119.3 802.75,128.0 803.0,133.8 803.25,139.6 803.5,142.6 803.75,148.4 804.0,160.0 804.25,154.2 804.5,165.8 804.75,174.6 805.0,180.4 805.25,197.8 805.5,209.5 805.75,221.1 806.0,232.8 806.25,244.4 806.5,256.0 806.75,267.7 807.0,282.2 807.25,293.9 807.5,305.5 807.75,320.0 808.0,331.7 808.25,340.4 808.5,346.2 808.75,355.0 809.0,357.9 809.25,360.8 809.5,366.6 809.75,366.6 810.0,369.5 810.25,372.4 810.5,375.3 810.75,378.2 811.0,384.0 811.25,387.0 811.5,389.9 811.75,392.8 812.0,392.8 812.25,398.6 812.75,398.6 813.0,401.5 813.5,401.5 813.75,404.4 814.0,401.5 814.25,410.2 814.5,410.2 814.75,416.1 815.0,419.0 815.25,424.8 815.5,427.7 815.75,430.6 816.0,433.5 816.25,436.4 816.5,433.5 816.75,433.5 817.0,436.4 817.75,436.4 818.0,433.5 818.25,439.3 818.5,442.2 818.75,445.1 819.0,448.1 819.25,453.9 819.5,456.8 819.75,462.6 820.0,465.5 820.25,468.4 820.5,471.3 820.75,474.2 821.0,474.2 821.25,477.2 821.5,480.1 821.75,480.1 822.0,483.0 822.25,483.0 822.5,485.9 822.75,485.9 823.0,488.8 823.25,491.7 823.5,491.7 823.75,494.6 824.25,494.6 824.5,497.5 824.75,500.4 825.0,497.5 825.25,500.4 825.5,500.4 825.75,503.3 826.0,503.3 826.25,506.2 826.5,503.3 826.75,503.3 827.0,500.4 827.25,497.5 827.5,494.6 827.75,488.8 828.0,483.0 828.25,480.1 828.5,474.2 828.75,471.3 829.0,462.6 829.25,459.7 829.5,451.0 829.75,439.3 830.0,427.7 830.25,416.1 830.5,407.3 830.75,398.6 831.0,392.8 831.25,384.0 831.5,375.3 831.75,369.5 832.0,363.7 832.25,352.0 832.5,340.4 832.75,328.8 833.0,317.1 833.5,317.1 833.75,314.2 834.25,314.2 834.5,311.3 835.25,311.3 835.5,308.4 835.75,305.5 836.25,305.5 836.5,302.6 836.75,299.7 837.0,302.6 837.25,299.7 837.5,296.8 837.75,296.8 838.0,293.9 838.25,290.9 838.5,290.9 838.75,288.0 839.0,288.0 839.25,282.2 839.5,285.1 839.75,282.2 840.0,279.3 840.25,279.3 840.5,276.4 840.75,279.3 841.0,276.4 841.25,279.3 842.0,279.3 842.25,276.4 842.75,276.4 843.0,273.5 843.5,273.5 843.75,270.6 844.0,270.6 844.25,267.7 844.5,267.7 844.75,264.8 845.0,261.8 845.25,258.9 845.5,256.0 845.75,253.1 846.0,253.1 846.25,250.2 846.5,247.3 846.75,247.3 847.0,244.4 847.25,244.4 847.5,241.5 848.0,241.5 848.25,238.6 848.5,238.6 848.75,235.7 849.0,235.7 849.25,232.8 849.5,229.8 849.75,229.8 850.0,226.9 850.25,226.9 850.5,224.0 850.75,224.0 851.0,221.1 851.5,221.1 851.75,218.2 852.25,218.2 852.5,215.3 852.75,215.3 853.0,218.2 853.75,218.2 854.0,221.1 854.25,224.0 854.5,226.9 854.75,232.8 855.0,235.7 855.25,238.6 855.5,238.6 855.75,235.7 856.0,232.8 856.25,232.8 856.5,226.9 856.75,221.1 857.0,215.3 857.25,212.4 857.5,206.6 857.75,203.7 858.0,200.7 859.25,200.7 859.5,203.7 860.0,203.7 860.25,206.6 860.5,209.5 860.75,212.4 861.0,215.3 861.25,221.1 861.5,221.1 861.75,229.8 862.0,235.7 862.25,241.5 862.5,250.2 862.75,253.1 863.0,256.0 863.25,256.0 863.5,261.8 863.75,261.8 864.0,267.7 864.25,267.7 864.5,270.6 864.75,270.6 865.0,273.5 866.5,273.5 866.75,270.6 867.25,270.6 867.5,273.5 867.75,270.6 869.75,270.6 870.0,267.7 872.5,267.7 872.75,264.8 875.5,264.8 875.75,261.8 876.25,261.8 876.5,264.8 876.75,264.8 877.0,261.8 877.75,261.8 878.0,264.8 878.5,264.8 878.75,261.8 879.0,264.8 879.25,261.8 879.5,264.8 881.0,264.8 881.25,267.7 881.5,264.8 881.75,264.8 882.0,267.7 882.25,264.8 882.5,267.7 884.5,267.7 884.75,270.6 886.25,270.6 886.5,273.5 887.75,273.5 888.0,276.4 888.25,276.4 888.5,273.5 888.75,276.4 889.0,276.4 889.25,279.3 890.75,279.3 891.0,282.2 891.25,279.3 893.0,279.3 893.25,276.4 894.0,276.4 894.25,273.5 895.0,273.5 895.25,270.6 895.75,270.6 896.0,267.7 896.25,276.4 896.5,264.8 896.75,261.8 897.0,258.9 897.25,261.8 897.5,247.3 897.75,253.1 898.0,250.2 898.25,244.4 898.5,232.8 898.75,224.0 899.0,218.2 899.25,215.3 899.5,218.2 899.75,215.3 900.0,215.3 900.25,212.4 900.5,218.2 900.75,206.6 901.0,203.7 901.25,206.6 901.5,197.8 901.75,200.7 902.0,197.8 902.25,192.0 902.5,180.4 902.75,180.4 903.0,183.3 903.25,174.6 903.5,171.7 903.75,157.1 904.0,151.3 904.25,165.8 904.5,171.7 904.75,183.3 905.0,186.2 905.25,189.1 905.5,183.3 905.75,186.2 906.0,186.2 906.25,189.1 906.5,180.4 906.75,186.2 907.0,189.1 907.25,180.4 907.5,177.5 907.75,180.4 908.0,189.1 908.25,183.3 908.5,177.5 908.75,180.4 909.0,177.5 909.25,189.1 909.5,180.4 909.75,189.1 910.0,183.3 910.25,189.1 910.5,186.2 910.75,192.0 911.0,197.8 911.25,197.8 911.5,194.9 911.75,197.8 912.0,189.1 912.25,189.1 912.5,194.9 912.75,200.7 913.0,197.8 913.25,200.7 913.5,194.9 913.75,197.8 914.0,197.8 914.25,203.7 914.5,212.4 914.75,209.5 915.0,212.4 915.25,209.5 915.5,212.4 915.75,218.2 916.0,218.2 916.25,212.4 916.5,224.0 917.25,224.0 917.5,226.9 918.0,226.9 918.25,229.8 918.5,229.8 918.75,232.8 919.25,232.8 919.5,235.7 919.75,235.7 920.0,238.6 920.25,241.5 920.5,241.5 920.75,244.4 921.0,247.3 921.25,247.3 921.5,253.1 921.75,253.1 922.0,256.0 922.25,261.8 922.5,264.8 922.75,267.7 923.0,270.6 923.25,273.5 923.5,276.4 923.75,276.4 924.0,279.3 924.25,282.2 924.5,276.4 924.75,276.4 925.0,273.5 925.25,270.6 925.75,270.6 926.0,267.7 926.25,270.6 926.5,267.7 926.75,267.7 927.0,270.6 927.25,267.7 927.75,267.7 928.0,270.6 928.5,270.6 928.75,273.5 929.0,276.4 930.0,276.4 930.25,279.3 930.5,279.3 930.75,282.2 931.0,285.1 932.0,285.1 932.25,288.0 932.5,285.1 932.75,285.1 933.0,288.0 934.0,288.0 934.25,290.9 936.0,290.9 936.25,288.0 936.5,290.9 936.75,290.9 937.0,293.9 937.25,293.9 937.5,296.8 938.25,296.8 938.5,302.6 938.75,299.7 939.0,302.6 939.25,299.7 939.5,305.5 939.75,305.5 940.0,308.4 940.25,305.5 940.5,311.3 940.75,311.3 941.0,314.2 941.25,317.1 941.5,314.2 941.75,314.2 942.0,317.1 942.25,320.0 942.5,325.9 942.75,328.8 943.0,331.7 943.25,334.6 943.5,334.6 943.75,340.4 944.0,343.3 944.25,340.4 944.5,337.5 944.75,331.7 945.0,331.7 945.25,328.8 945.5,328.8 945.75,325.9 946.0,322.9 946.25,325.9 946.5,322.9 947.0,322.9 947.25,320.0 947.5,320.0 947.75,317.1 948.25,317.1 948.5,311.3 948.75,311.3 949.0,308.4 949.25,308.4 949.5,305.5 949.75,302.6 950.25,302.6 950.5,299.7 950.75,299.7 951.0,296.8 951.5,296.8 951.75,293.9 952.0,290.9 952.25,290.9 952.5,288.0 952.75,285.1 953.0,285.1 953.25,282.2 953.5,282.2 953.75,279.3 954.0,279.3 954.25,276.4 954.5,276.4 954.75,273.5 955.0,273.5 955.25,270.6 955.5,267.7 955.75,267.7 956.0,264.8 956.25,261.8 956.5,258.9 956.75,258.9 957.0,250.2 957.75,250.2 958.0,241.5 958.25,238.6 958.5,235.7 958.75,238.6 959.0,238.6 959.25,229.8 959.5,226.9 959.75,224.0 960.0,232.8 960.25,221.1 960.5,226.9 960.75,221.1 961.0,221.1 961.25,224.0 961.5,221.1 961.75,226.9 962.0,221.1 962.25,224.0 962.5,215.3 962.75,215.3 963.0,209.5 963.25,212.4 963.5,215.3 963.75,209.5 964.0,212.4 964.25,209.5 964.5,209.5 964.75,218.2 965.0,215.3 965.25,218.2 965.5,221.1 965.75,218.2 966.0,221.1 966.25,235.7 966.5,241.5 966.75,253.1 967.0,247.3 967.25,247.3 967.5,253.1 967.75,247.3 968.0,247.3 968.25,250.2 968.5,244.4 968.75,241.5 969.0,229.8 969.25,235.7 969.5,229.8 969.75,226.9 970.0,229.8 970.25,229.8 970.5,232.8 970.75,238.6 971.0,235.7 971.25,235.7 971.5,244.4 971.75,241.5 972.0,238.6 972.25,241.5 972.5,253.1 972.75,250.2 973.0,253.1 973.25,244.4 973.5,250.2 973.75,253.1 974.0,261.8 974.25,264.8 974.5,261.8 974.75,261.8 975.0,267.7 975.25,264.8 975.5,264.8 975.75,267.7 976.0,273.5 976.25,273.5 976.5,270.6 976.75,270.6 977.0,273.5 977.5,273.5 977.75,267.7 978.0,273.5 978.25,270.6 978.5,273.5 978.75,273.5 979.0,267.7 979.25,270.6 979.5,270.6 979.75,267.7 980.0,258.9 980.25,261.8 980.5,261.8 980.75,258.9 981.25,258.9 981.5,256.0 981.75,253.1 982.0,256.0 982.25,258.9 982.5,261.8 982.75,264.8 983.0,267.7 983.25,270.6 983.5,273.5 983.75,276.4 984.0,279.3 984.25,282.2 984.5,285.1 985.0,285.1 985.25,282.2 985.5,285.1 985.75,282.2 986.0,279.3 986.75,279.3 987.0,276.4 988.0,276.4 988.25,273.5 989.5,273.5 989.75,270.6 990.0,270.6 990.25,273.5 990.5,270.6 991.5,270.6 991.75,273.5 993.0,273.5 993.25,276.4 993.75,276.4 994.0,279.3 994.25,279.3 994.5,282.2 994.75,282.2 995.0,279.3 995.25,282.2 996.5,282.2 996.75,285.1 997.5,285.1 997.75,288.0 999.0,288.0 999.25,290.9 1000.0,290.9 1000.25,293.9 1000.5,296.8 1001.0,296.8 1001.25,299.7 1001.5,296.8 1001.75,299.7 1003.0,299.7 1003.25,296.8 1003.5,299.7 1004.0,299.7 1004.25,302.6 1004.5,299.7 1004.75,302.6 1005.5,302.6 1005.75,305.5 1006.0,299.7 1006.25,305.5 1006.5,296.8 1006.75,302.6 1007.0,305.5 1007.25,296.8 1007.5,290.9 1007.75,285.1 1008.0,282.2 1008.25,285.1 1008.5,288.0 1008.75,285.1 1009.0,282.2 1009.25,282.2 1009.5,276.4 1009.75,282.2 1010.0,270.6 1010.25,270.6 1010.5,261.8 1010.75,264.8 1011.0,267.7 1011.25,261.8 1011.5,270.6 1011.75,267.7 1012.0,276.4 1012.25,261.8 1012.5,267.7 1012.75,276.4 1013.0,273.5 1013.25,273.5 1013.5,276.4 1013.75,279.3 1014.0,279.3 1014.25,276.4 1014.5,270.6 1014.75,261.8 1015.0,267.7 1015.25,267.7 1015.5,256.0 1015.75,261.8 1016.0,253.1 1016.25,256.0 1016.5,250.2 1016.75,247.3 1017.0,250.2 1017.25,247.3 1017.5,253.1 1017.75,250.2 1018.0,244.4 1018.25,241.5 1018.75,241.5 1019.0,247.3 1019.25,250.2 1019.5,247.3 1019.75,253.1 1020.0,256.0 1020.25,261.8 1020.5,253.1 1020.75,264.8 1021.0,258.9 1021.25,270.6 1021.5,261.8 1021.75,273.5 1022.0,267.7 1022.25,279.3 1022.5,273.5 1022.75,267.7 1023.0,273.5 1023.25,267.7 1023.5,273.5 1023.75,285.1 1024.0,276.4 1024.25,282.2 1024.5,290.9 1024.75,285.1 1025.0,290.9 1025.25,293.9 1025.5,288.0 1025.75,288.0 1026.0,273.5 1026.25,288.0 1026.5,276.4 1026.75,273.5 1027.0,282.2 1027.25,279.3 1027.5,270.6 1027.75,273.5 1028.0,267.7 1028.25,267.7 1028.5,273.5 1028.75,279.3 1029.0,288.0 1029.25,279.3 1029.5,285.1 1029.75,282.2 1030.0,282.2 1030.25,290.9 1030.5,279.3 1030.75,282.2 1031.0,285.1 1031.25,293.9 1031.5,290.9 1032.0,290.9 1032.25,293.9 1032.5,288.0 1033.0,288.0 1033.25,290.9 1033.75,290.9 1034.0,293.9 1034.25,290.9 1035.0,290.9 1035.25,293.9 1035.5,293.9 1035.75,290.9 1036.0,293.9 1037.0,293.9 1037.25,296.8 1037.5,296.8 1037.75,299.7 1038.0,299.7 1038.25,302.6 1038.5,305.5 1038.75,308.4 1039.0,311.3 1039.25,314.2 1039.5,317.1 1039.75,320.0 1040.0,322.9 1040.25,325.9 1040.5,328.8 1040.75,331.7 1041.0,331.7 1041.25,337.5 1041.5,337.5 1041.75,340.4 1042.0,343.3 1042.25,343.3 1042.5,346.2 1042.75,346.2 1043.0,349.1 1043.25,352.0 1043.5,352.0 1043.75,355.0 1044.0,357.9 1044.25,360.8 1044.75,360.8 1045.0,363.7 1045.25,366.6 1045.5,369.5 1045.75,372.4 1046.0,372.4 1046.25,378.2 1046.5,381.1 1046.75,387.0 1047.0,389.9 1047.25,392.8 1047.5,395.7 1048.0,395.7 1048.25,398.6 1048.5,401.5 1048.75,404.4 1049.0,407.3 1049.25,410.2 1049.5,413.1 1049.75,413.1 1050.0,416.1 1050.25,419.0 1050.5,419.0 1050.75,421.9 1051.0,424.8 1051.25,427.7 1051.5,427.7 1051.75,430.6 1052.0,430.6 1052.25,433.5 1052.5,436.4 1052.75,436.4 1053.0,439.3 1053.5,439.3 1053.75,442.2 1054.0,445.1 1054.25,445.1 1054.5,448.1 1054.75,451.0 1055.0,453.9 1055.25,456.8 1055.5,459.7 1055.75,462.6 1056.0,465.5 1056.25,468.4 1056.5,468.4 1056.75,471.3 1057.0,474.2 1057.25,477.2 1057.5,477.2 1057.75,480.1 1058.0,483.0 1058.25,485.9 1058.5,488.8 1058.75,491.7 1059.0,491.7 1059.25,494.6 1059.5,497.5 1059.75,497.5 1060.0,500.4 1060.25,503.3 1060.5,506.2 1061.0,506.2 1061.25,503.3 1061.5,506.2 1061.75,503.3 1062.0,500.4 1062.25,497.5 1062.5,491.7 1062.75,488.8 1063.0,483.0 1063.25,480.1 1063.5,474.2 1063.75,468.4 1064.0,462.6 1064.25,456.8 1064.5,453.9 1064.75,445.1 1065.0,439.3 1065.25,430.6 1065.5,424.8 1065.75,419.0 1066.0,413.1 1066.25,407.3 1066.5,401.5 1066.75,395.7 1067.0,389.9 1067.25,384.0 1067.5,381.1 1067.75,375.3 1068.0,357.9 1068.25,360.8 1068.5,355.0 1068.75,337.5 1069.0,334.6 1069.25,328.8 1069.5,320.0 1069.75,322.9 1070.0,311.3 1070.25,314.2 1070.5,305.5 1070.75,302.6 1071.0,308.4 1071.25,305.5 1071.5,308.4 1071.75,302.6 1072.0,296.8 1072.25,305.5 1072.5,293.9 1072.75,302.6 1073.0,299.7 1073.25,302.6 1073.5,285.1 1073.75,290.9 1074.25,290.9 1074.5,285.1 1074.75,293.9 1075.0,285.1 1075.25,273.5 1075.5,282.2 1075.75,279.3 1076.0,273.5 1076.25,276.4 1076.5,267.7 1076.75,261.8 1077.0,258.9 1077.25,264.8 1077.5,270.6 1077.75,270.6 1078.0,276.4 1078.25,270.6 1078.5,270.6 1078.75,273.5 1079.0,279.3 1079.25,267.7 1079.5,264.8 1079.75,270.6 1080.0,273.5 1080.25,264.8 1080.5,256.0 1080.75,261.8 1081.0,261.8 1081.25,258.9 1081.5,256.0 1081.75,261.8 1082.0,264.8 1082.25,267.7 1082.5,261.8 1082.75,264.8 1083.0,270.6 1083.25,279.3 1083.5,282.2 1083.75,282.2 1084.0,293.9 1084.25,290.9 1084.5,302.6 1084.75,311.3 1085.0,317.1 1085.25,325.9 1085.5,343.3 1085.75,352.0 1086.0,355.0 1086.25,381.1 1086.5,389.9 1086.75,398.6 1087.0,419.0 1087.25,436.4 1087.5,453.9 1087.75,459.7 1088.0,474.2 1088.25,485.9 1088.5,497.5 1088.75,506.2 1089.0,512.1 1089.25,517.9 1089.5,523.7 1089.75,529.5 1090.0,532.4 1090.25,535.3 1090.5,541.2 1090.75,544.1 1091.0,547.0 1091.25,549.9 1091.5,549.9 1091.75,552.8 1092.0,552.8 1092.25,555.7 1092.5,555.7 1092.75,558.6 1093.0,558.6 1093.25,561.5 1094.0,561.5 1094.25,564.4 1094.75,564.4 1095.0,567.3 1095.25,570.3 1095.75,570.3 1096.0,576.1 1096.25,579.0 1096.5,584.8 1096.75,587.7 1097.0,590.6 1097.25,593.5 1097.5,593.5 1097.75,596.4 1098.0,596.4 1098.25,599.4 1098.5,602.3 1098.75,605.2 1099.0,605.2 1099.25,608.1 1099.5,611.0 1099.75,613.9 1100.0,619.7 1100.25,622.6 1100.5,619.7 1100.75,622.6 1101.0,625.5 1101.25,628.4 1101.5,619.7 1101.75,631.4 1102.25,631.4 1102.5,637.2 1102.75,631.4 1103.0,625.5 1103.25,631.4 1103.75,631.4 1104.0,634.3 1104.25,631.4 1104.5,637.2 1104.75,640.1 1105.0,634.3 1105.25,631.4 1105.5,631.4 1105.75,628.4 1106.0,640.1 1106.25,628.4 1106.5,628.4 1106.75,631.4 1107.0,640.1 1107.25,643.0 1107.5,640.1 1107.75,643.0 1108.0,634.3 1108.25,637.2 1108.5,631.4 1108.75,631.4 1109.0,645.9 1109.25,637.2 1109.5,643.0 1109.75,645.9 1110.0,645.9 1110.25,643.0 1110.5,637.2 1110.75,645.9 1111.0,634.3 1111.75,634.3 1112.0,637.2 1112.25,643.0 1112.5,637.2 1112.75,637.2 1113.0,640.1 1113.25,634.3 1113.5,643.0 1113.75,645.9 1114.0,637.2 1114.25,645.9 1114.5,640.1 1114.75,634.3 1115.0,634.3 1115.25,625.5 1115.5,625.5 1115.75,616.8 1116.0,613.9 1116.25,616.8 1116.5,619.7 1116.75,616.8 1117.0,613.9 1117.25,622.6 1117.5,613.9 1117.75,611.0 1118.0,611.0 1118.25,608.1 1118.5,605.2 1118.75,602.3 1119.0,596.4 1119.25,590.6 1119.5,581.9 1119.75,579.0 1120.0,570.3 1120.25,564.4 1120.5,555.7 1120.75,549.9 1121.0,544.1 1121.25,535.3 1121.5,529.5 1121.75,520.8 1122.0,515.0 1122.25,509.2 1122.5,503.3 1122.75,500.4 1123.0,497.5 1123.25,494.6 1123.5,485.9 1123.75,483.0 1124.0,477.2 1124.25,468.4 1124.5,462.6 1124.75,453.9 1125.0,448.1 1125.25,436.4 1125.5,427.7 1125.75,416.1 1126.0,410.2 1126.25,395.7 1126.5,389.9 1126.75,375.3 1127.0,369.5 1127.25,366.6 1127.5,360.8 1127.75,360.8 1128.0,346.2 1128.25,340.4 1128.5,340.4 1128.75,331.7 1129.0,343.3 1129.25,340.4 1129.5,337.5 1129.75,331.7 1130.0,325.9 1130.25,322.9 1130.5,320.0 1130.75,314.2 1131.0,317.1 1131.25,320.0 1131.5,317.1 1131.75,308.4 1132.0,325.9 1132.25,320.0 1132.5,317.1 1132.75,322.9 1133.0,325.9 1133.25,320.0 1133.5,314.2 1133.75,311.3 1134.0,320.0 1134.25,311.3 1134.5,311.3 1134.75,308.4 1135.0,308.4 1135.25,317.1 1135.5,322.9 1135.75,317.1 1136.0,314.2 1136.25,320.0 1136.5,322.9 1136.75,317.1 1137.0,328.8 1137.25,317.1 1137.5,317.1 1137.75,308.4 1138.0,302.6 1138.25,302.6 1138.5,317.1 1138.75,320.0 1139.0,331.7 1139.25,322.9 1139.5,328.8 1139.75,325.9 1140.0,334.6 1140.25,334.6 1140.5,331.7 1140.75,340.4 1141.0,340.4 1141.25,349.1 1141.5,360.8 1141.75,375.3 1142.0,375.3 1142.25,392.8 1142.5,398.6 1142.75,416.1 1143.0,419.0 1143.25,421.9 1143.5,427.7 1143.75,430.6 1144.0,439.3 1144.25,448.1 1144.5,456.8 1144.75,465.5 1145.0,477.2 1145.25,474.2 1145.5,474.2 1145.75,477.2 1146.0,471.3 1146.25,465.5 1146.5,465.5 1146.75,462.6 1147.0,462.6 1147.25,456.8 1147.5,451.0 1147.75,448.1 1148.0,445.1 1148.25,451.0 1148.5,451.0 1148.75,453.9 1149.0,456.8 1149.25,453.9 1149.5,456.8 1149.75,465.5 1150.0,462.6 1150.25,465.5 1150.5,468.4 1150.75,468.4 1151.0,474.2 1151.25,477.2 1151.5,480.1 1152.0,480.1 1152.25,485.9 1152.5,488.8 1153.0,488.8 1153.25,491.7 1153.5,488.8 1153.75,494.6 1154.0,497.5 1154.5,497.5 1154.75,503.3 1155.25,503.3 1155.5,506.2 1155.75,506.2 1156.0,500.4 1156.25,503.3 1156.75,503.3 1157.0,500.4 1157.25,497.5 1157.75,497.5 1158.0,494.6 1158.25,494.6 1158.5,500.4 1158.75,497.5 1159.0,497.5 1159.25,494.6 1159.5,497.5 1160.0,497.5 1160.25,500.4 1160.5,497.5 1160.75,497.5 1161.0,494.6 1161.25,497.5 1161.75,497.5 1162.0,500.4 1162.25,497.5 1162.5,500.4 1162.75,497.5 1163.0,500.4 1163.25,500.4 1163.5,503.3 1164.0,503.3 1164.25,500.4 1164.5,503.3 1166.5,503.3 1166.75,506.2 1167.5,506.2 1167.75,509.2 1168.0,512.1 1168.25,509.2 1168.5,509.2 1168.75,503.3 1169.0,506.2 1169.25,506.2 1169.5,503.3 1170.0,503.3 1170.25,497.5 1170.5,497.5 1170.75,500.4 1171.0,497.5 1171.25,500.4 1171.5,494.6 1172.0,494.6 1172.25,491.7 1172.5,488.8 1172.75,485.9 1173.0,480.1 1173.25,477.2 1173.5,474.2 1173.75,474.2 1174.0,471.3 1174.25,468.4 1174.5,465.5 1174.75,462.6 1175.0,462.6 1175.25,459.7 1175.5,456.8 1175.75,456.8 1176.0,453.9 1176.25,453.9 1176.5,451.0 1176.75,448.1 1177.0,448.1 1177.25,445.1 1177.5,442.2 1177.75,439.3 1178.0,436.4 1178.25,433.5 1178.5,430.6 1178.75,424.8 1179.0,421.9 1179.25,416.1 1179.5,410.2 1179.75,404.4 1180.0,398.6 1180.25,392.8 1180.5,387.0 1180.75,381.1 1181.0,372.4 1181.25,366.6 1181.5,360.8 1181.75,355.0 1182.0,352.0 1182.25,346.2 1182.5,340.4 1182.75,337.5 1183.0,331.7 1183.25,325.9 1183.5,317.1 1183.75,305.5 1184.0,296.8 1184.25,285.1 1184.5,276.4 1184.75,267.7 1185.0,261.8 1185.25,261.8 1185.5,250.2 1185.75,250.2 1186.0,247.3 1186.25,235.7 1186.5,238.6 1186.75,238.6 1187.0,235.7 1187.25,229.8 1187.5,235.7 1187.75,226.9 1188.0,229.8 1188.25,221.1 1188.5,221.1 1188.75,212.4 1189.0,212.4 1189.25,221.1 1189.5,224.0 1189.75,232.8 1190.0,229.8 1190.25,226.9 1190.5,226.9 1190.75,232.8 1191.0,226.9 1191.25,218.2 1191.5,215.3 1191.75,209.5 1192.0,215.3 1192.25,206.6 1192.5,209.5 1192.75,203.7 1193.0,197.8 1193.25,194.9 1193.5,200.7 1193.75,203.7 1194.0,212.4 1194.25,215.3 1194.5,209.5 1194.75,215.3 1195.0,226.9 1195.25,226.9 1195.5,224.0 1195.75,221.1 1196.0,224.0 1196.25,226.9 1196.5,241.5 1196.75,235.7 1197.25,235.7 1197.5,238.6 1197.75,244.4 1198.0,235.7 1198.25,244.4 1198.5,250.2 1198.75,253.1 1199.0,253.1 1199.25,256.0 1199.5,258.9 1199.75,258.9 1200.0,264.8 1200.25,267.7 1200.5,270.6 1200.75,270.6 1201.0,276.4 1201.25,279.3 1201.5,282.2 1201.75,288.0 1202.0,290.9 1202.25,293.9 1202.5,296.8 1202.75,296.8 1203.0,302.6 1203.25,302.6 1203.5,305.5 1203.75,308.4 1204.25,308.4 1204.5,311.3 1205.5,311.3 1205.75,308.4 1206.0,305.5 1207.25,305.5 1207.5,302.6 1209.0,302.6 1209.25,305.5 1209.5,305.5 1209.75,302.6 1210.0,305.5 1211.0,305.5 1211.25,308.4 1212.0,308.4 1212.25,311.3 1214.0,311.3 1214.25,308.4 1214.5,311.3 1214.75,308.4 1215.0,311.3 1216.0,311.3 1216.25,314.2 1216.5,311.3 1216.75,311.3 1217.0,314.2 1217.25,311.3 1218.25,311.3 1218.5,314.2 1218.75,317.1 1219.0,320.0 1219.25,317.1 1219.5,320.0 1219.75,320.0 1220.0,322.9 1220.25,322.9 1220.5,325.9 1220.75,322.9 1221.0,325.9 1221.25,325.9 1221.5,328.8 1222.0,328.8 1222.25,331.7 1222.75,331.7 1223.0,334.6 1223.25,331.7 1223.75,331.7 1224.0,328.8 1226.5,328.8 1226.75,325.9 1227.0,328.8 1227.25,328.8 1227.5,331.7 1227.75,337.5 1228.0,340.4 1228.25,343.3 1228.5,346.2 1229.25,346.2 1229.5,349.1 1229.75,349.1 1230.0,346.2 1230.25,343.3 1230.5,343.3 1230.75,340.4 1231.0,337.5 1231.25,331.7 1231.5,322.9 1231.75,317.1 1232.0,311.3 1232.25,305.5 1232.5,299.7 1232.75,293.9 1233.0,285.1 1233.25,276.4 1233.5,270.6 1233.75,258.9 1234.0,253.1 1234.25,232.8 1234.5,232.8 1234.75,221.1 1235.0,209.5 1235.25,209.5 1235.5,194.9 1235.75,186.2 1236.0,180.4 1236.25,162.9 1236.5,162.9 1236.75,154.2 1237.25,154.2 1237.5,142.6 1237.75,136.7 1238.0,136.7 1238.25,128.0 1238.5,139.6 1238.75,130.9 1239.0,130.9 1239.25,116.4 1239.5,122.2 1239.75,119.3 1240.0,116.4 1240.25,104.7 1240.5,107.6 1240.75,104.7 1241.0,116.4 1241.25,104.7 1241.5,110.6 1241.75,113.5 1242.0,113.5 1242.25,125.1 1242.5,128.0 1242.75,128.0 1243.0,130.9 1243.25,136.7 1243.5,136.7 1243.75,139.6 1244.0,128.0 1244.25,125.1 1244.5,125.1 1244.75,113.5 1245.0,125.1 1245.25,119.3 1245.5,113.5 1245.75,116.4 1246.0,122.2 1246.25,113.5 1246.5,116.4 1246.75,125.1 1247.0,122.2 1247.25,130.9 1247.5,133.8 1247.75,130.9 1248.0,136.7 1248.25,139.6 1248.5,139.6 1248.75,142.6 1249.0,139.6 1249.25,142.6 1249.5,139.6 1249.75,145.5 1250.0,151.3 1250.25,151.3 1250.5,148.4 1250.75,142.6 1251.0,148.4 1251.25,154.2 1251.5,148.4 1251.75,160.0 1252.0,151.3 1252.25,160.0 1252.5,157.1 1252.75,160.0 1253.0,165.8 1253.25,165.8 1253.5,168.7 1253.75,171.7 1254.0,174.6 1254.25,174.6 1254.5,177.5 1254.75,180.4 1255.25,180.4 1255.5,183.3 1255.75,186.2 1256.0,189.1 1256.25,192.0 1256.5,194.9 1256.75,197.8 1257.0,203.7 1257.25,206.6 1257.5,212.4 1257.75,215.3 1258.0,218.2 1258.25,218.2 1258.5,221.1 1258.75,224.0 1259.25,224.0 1259.5,226.9 1260.25,226.9 1260.5,229.8 1261.25,229.8 1261.5,232.8 1262.25,232.8 1262.5,235.7 1262.75,238.6 1263.0,244.4 1263.25,244.4 1263.5,250.2 1263.75,253.1 1264.0,258.9 1264.25,258.9 1264.5,264.8 1264.75,270.6 1265.0,273.5 1265.25,276.4 1265.5,279.3 1265.75,285.1 1266.0,288.0 1266.25,290.9 1266.5,293.9 1266.75,293.9 1267.0,296.8 1267.25,299.7 1267.5,302.6 1267.75,305.5 1268.0,311.3 1268.25,314.2 1268.5,314.2 1268.75,317.1 1269.0,320.0 1269.25,325.9 1269.5,328.8 1269.75,331.7 1270.0,334.6 1270.25,334.6 1270.5,337.5 1270.75,337.5 1271.0,340.4 1271.25,337.5 1271.5,340.4 1271.75,349.1 1272.0,349.1 1272.25,352.0 1272.5,352.0 1272.75,357.9 1273.0,360.8 1273.25,369.5 1273.5,369.5 1273.75,366.6 1274.0,369.5 1274.25,375.3 1274.5,378.2 1274.75,375.3 1275.0,378.2 1275.25,381.1 1275.5,378.2 1275.75,378.2 1276.0,375.3 1276.25,375.3 1276.5,378.2 1277.0,378.2 1277.25,381.1 1277.5,381.1 1277.75,378.2 1278.0,384.0 1278.25,378.2 1278.5,381.1 1278.75,384.0 1279.25,384.0 1279.5,381.1 1279.75,384.0 1280.0,381.1 1280.25,381.1 1280.5,375.3 1280.75,375.3 1281.0,378.2 1281.25,375.3 1281.5,375.3 1281.75,372.4 1282.0,369.5 1282.25,363.7 1282.5,372.4 1282.75,366.6 1283.0,366.6 1283.25,369.5 1283.5,366.6 1283.75,366.6 1284.0,363.7 1284.25,360.8 1284.5,363.7 1284.75,357.9 1285.0,360.8 1285.25,355.0 1285.5,357.9 1285.75,355.0 1286.0,355.0 1286.25,352.0 1286.5,352.0 1286.75,349.1 1287.0,343.3 1287.25,340.4 1287.5,334.6 1287.75,343.3 1288.0,337.5 1288.25,328.8 1288.5,325.9 1288.75,317.1 1289.0,305.5 1289.25,299.7 1289.5,296.8 1289.75,282.2 1290.0,273.5 1290.25,267.7 1290.5,256.0 1290.75,247.3 1291.0,235.7 1291.25,221.1 1291.5,206.6 1291.75,197.8 1292.0,183.3 1292.25,177.5 1292.5,171.7 1292.75,148.4 1293.0,136.7 1293.25,125.1 1293.5,116.4 1293.75,110.6 1294.0,90.2 1294.25,96.0 1294.5,87.3 1294.75,93.1 1295.0,104.7 1295.25,104.7 1295.5,128.0 1295.75,122.2 1296.0,122.2 1296.25,128.0 1296.5,122.2 1296.75,125.1 1297.0,125.1 1297.25,113.5 1297.5,122.2 1297.75,125.1 1298.0,130.9 1298.25,133.8 1298.5,125.1 1298.75,119.3 1299.0,116.4 1299.25,113.5 1299.5,101.8 1299.75,104.7 1300.0,96.0 1300.25,98.9 1300.5,107.6 1300.75,107.6 1301.0,113.5 1301.25,113.5 1301.5,104.7 1301.75,110.6 1302.0,107.6 1302.25,110.6 1302.5,107.6 1303.0,107.6 1303.25,104.7 1303.5,116.4 1303.75,116.4 1304.0,119.3 1304.25,136.7 1304.5,128.0 1304.75,125.1 1305.0,122.2 1305.25,128.0 1305.5,122.2 1305.75,125.1 1306.0,133.8 1306.25,128.0 1306.5,128.0 1306.75,136.7 1307.0,145.5 1307.25,142.6 1307.5,145.5 1307.75,145.5 1308.0,148.4 1308.25,151.3 1308.5,154.2 1308.75,157.1 1309.0,160.0 1309.25,162.9 1309.5,165.8 1309.75,168.7 1310.0,168.7 1310.25,174.6 1310.5,174.6 1310.75,180.4 1311.0,183.3 1311.25,186.2 1311.5,189.1 1311.75,194.9 1312.0,197.8 1312.25,200.7 1312.5,200.7 1312.75,203.7 1313.0,206.6 1313.25,212.4 1313.5,215.3 1313.75,218.2 1314.0,226.9 1314.25,229.8 1314.5,232.8 1314.75,235.7 1315.0,241.5 1315.25,244.4 1315.5,247.3 1315.75,253.1 1316.0,256.0 1316.25,258.9 1316.5,267.7 1316.75,270.6 1317.0,270.6 1317.25,276.4 1317.5,282.2 1317.75,279.3 1318.0,282.2 1318.25,282.2 1318.5,279.3 1318.75,282.2 1319.0,285.1 1319.25,282.2 1319.5,285.1 1319.75,285.1 1320.0,288.0 1320.25,288.0 1320.5,290.9 1321.0,290.9 1321.25,293.9 1321.5,293.9 1321.75,290.9 1322.0,293.9 1322.25,290.9 1322.5,290.9 1322.75,288.0 1323.25,288.0 1323.5,290.9 1323.75,288.0 1324.0,290.9 1324.25,288.0 1324.5,290.9 1324.75,288.0 1325.0,285.1 1325.25,288.0 1325.75,288.0 1326.0,290.9 1326.25,290.9 1326.5,293.9 1326.75,290.9 1327.0,290.9 1327.25,285.1 1327.5,285.1 1327.75,288.0 1328.0,282.2 1328.25,285.1 1328.5,288.0 1328.75,288.0 1329.0,282.2 1329.25,285.1 1329.5,285.1 1329.75,288.0 1330.0,288.0 1330.25,282.2 1330.5,285.1 1330.75,279.3 1331.0,282.2 1331.25,288.0 1331.5,279.3 1331.75,282.2 1332.0,282.2 1332.25,279.3 1332.5,282.2 1332.75,279.3 1333.0,279.3 1333.25,282.2 1333.5,279.3 1333.75,279.3 1334.0,276.4 1335.25,276.4 1335.5,273.5 1335.75,276.4 1336.0,273.5 1336.25,276.4 1336.5,273.5 1338.0,273.5 1338.25,270.6 1338.75,270.6 1339.0,273.5 1339.25,270.6 1340.0,270.6 1340.25,267.7 1341.25,267.7 1341.5,264.8 1341.75,261.8 1342.0,258.9 1342.25,258.9 1342.5,253.1 1342.75,250.2 1343.0,247.3 1343.25,241.5 1343.5,238.6 1343.75,232.8 1344.0,229.8 1344.25,226.9 1344.5,221.1 1344.75,215.3 1345.0,212.4 1345.25,209.5 1345.5,203.7 1345.75,203.7 1346.0,194.9 1346.5,194.9 1346.75,192.0 1347.0,189.1 1347.25,189.1 1347.5,183.3 1347.75,183.3 1348.0,180.4 1348.25,177.5 1348.5,180.4 1348.75,171.7 1349.0,171.7 1349.25,168.7 1349.5,171.7 1349.75,165.8 1350.25,165.8 1350.5,162.9 1350.75,162.9 1351.0,165.8 1351.25,162.9 1351.5,162.9 1351.75,165.8 1352.0,165.8 1352.25,168.7 1352.5,168.7 1352.75,174.6 1353.0,177.5 1353.5,177.5 1353.75,174.6 1354.0,174.6 1354.25,177.5 1354.5,174.6 1354.75,171.7 1355.0,171.7 1355.25,165.8 1355.5,162.9 1355.75,162.9 1356.0,154.2 1356.25,151.3 1356.5,148.4 1357.0,148.4 1357.25,145.5 1357.75,145.5 1358.0,148.4 1358.25,145.5 1358.5,148.4 1358.75,157.1 1359.0,160.0 1359.25,157.1 1359.5,162.9 1359.75,160.0 1360.0,160.0 1360.25,165.8 1360.5,165.8 1360.75,162.9 1361.0,165.8 1361.5,165.8 1361.75,162.9 1362.0,165.8 1362.5,165.8 1362.75,168.7 1363.0,162.9 1363.25,171.7 1363.5,168.7 1363.75,168.7 1364.0,171.7 1364.25,168.7 1364.5,168.7 1364.75,171.7 1365.0,171.7 1365.25,174.6 1365.75,174.6 1366.0,177.5 1366.25,177.5 1366.5,183.3 1366.75,183.3 1367.0,189.1 1367.25,194.9 1367.5,194.9 1367.75,197.8 1368.0,203.7 1368.25,200.7 1368.5,206.6 1368.75,206.6 1369.0,212.4 1369.25,212.4 1369.5,215.3 1369.75,218.2 1370.0,221.1 1370.25,226.9 1370.5,224.0 1370.75,229.8 1371.0,232.8 1371.25,235.7 1372.25,235.7 1372.5,238.6 1372.75,232.8 1373.0,235.7 1373.25,235.7 1373.5,238.6 1373.75,235.7 1374.0,238.6 1374.5,238.6 1374.75,244.4 1375.25,244.4 1375.5,247.3 1375.75,250.2 1376.0,253.1 1376.25,256.0 1376.5,256.0 1376.75,258.9 1377.0,267.7 1377.25,270.6 1377.5,273.5 1377.75,276.4 1378.0,279.3 1378.25,282.2 1379.0,282.2 1379.25,279.3 1379.5,276.4 1379.75,279.3 1380.0,276.4 1380.25,273.5 1380.5,276.4 1380.75,273.5 1381.0,270.6 1381.25,270.6 1381.5,267.7 1381.75,267.7 1382.0,264.8 1382.25,264.8 1382.5,258.9 1382.75,258.9 1383.0,256.0 1383.5,256.0 1383.75,253.1 1384.0,250.2 1384.5,250.2 1384.75,247.3 1385.0,250.2 1386.0,250.2 1386.25,253.1 1386.75,253.1 1387.0,258.9 1387.25,261.8 1387.5,261.8 1387.75,258.9 1388.0,261.8 1388.25,264.8 1388.5,261.8 1388.75,264.8 1389.0,264.8 1389.25,261.8 1389.5,264.8 1389.75,261.8 1390.0,261.8 1390.25,264.8 1391.25,264.8 1391.5,261.8 1391.75,264.8 1393.0,264.8 1393.25,267.7 1393.5,267.7 1393.75,270.6 1394.0,270.6 1394.25,273.5 1394.5,273.5 1394.75,276.4 1395.0,276.4 1395.25,279.3 1395.5,282.2 1395.75,285.1 1396.0,288.0 1396.25,288.0 1396.5,293.9 1396.75,296.8 1397.0,296.8 1397.25,299.7 1397.5,296.8 1397.75,299.7 1398.25,299.7 1398.5,305.5 1398.75,302.6 1399.0,305.5 1399.25,302.6 1399.5,305.5 1399.75,302.6 1400.0,302.6 1400.25,305.5 1400.5,302.6 1400.75,302.6 1401.0,305.5 1401.25,299.7 1401.5,302.6 1402.0,302.6 1402.25,296.8 1402.5,302.6 1402.75,305.5 1403.0,302.6 1404.0,302.6 1404.25,299.7 1404.5,302.6 1404.75,302.6 1405.0,299.7 1405.25,296.8 1405.5,290.9 1405.75,288.0 1406.0,288.0 1406.25,285.1 1406.5,282.2 1406.75,276.4 1407.0,279.3 1407.25,276.4 1407.75,276.4 1408.0,273.5 1408.5,273.5 1408.75,270.6 1409.0,267.7 1409.75,267.7 1410.0,261.8 1410.25,264.8 1410.75,264.8 1411.0,267.7 1411.25,270.6 1412.0,270.6 1412.25,273.5 1412.75,273.5 1413.0,276.4 1413.25,276.4 1413.5,279.3 1414.25,279.3 1414.5,285.1 1414.75,290.9 1415.0,288.0 1415.25,293.9 1415.5,293.9 1415.75,290.9 1416.0,296.8 1416.25,293.9 1416.5,296.8 1416.75,296.8 1417.0,299.7 1417.25,296.8 1418.0,296.8 1418.25,299.7 1418.5,296.8 1418.75,296.8 1419.0,299.7 1419.25,299.7 1419.5,296.8 1419.75,299.7 1420.0,302.6 1420.25,299.7 1420.5,299.7 1420.75,302.6 1421.0,305.5 1421.25,302.6 1421.5,305.5 1421.75,311.3 1422.25,311.3 1422.5,317.1 1422.75,317.1 1423.0,320.0 1423.25,322.9 1423.5,325.9 1423.75,328.8 1424.5,328.8 1424.75,331.7 1425.0,331.7 1425.25,334.6 1425.5,337.5 1425.75,340.4 1426.25,340.4 1426.5,343.3 1426.75,346.2 1427.0,349.1 1427.25,352.0 1427.5,355.0 1427.75,352.0 1428.0,355.0 1428.25,357.9 1428.5,357.9 1428.75,360.8 1429.0,360.8 1429.25,369.5 1429.5,366.6 1429.75,369.5 1430.0,372.4 1430.25,375.3 1430.5,372.4 1430.75,375.3 1431.0,378.2 1431.25,378.2 1431.5,372.4 1431.75,369.5 1432.0,363.7 1432.25,369.5 1432.5,369.5 1432.75,366.6 1433.0,363.7 1433.75,363.7 1434.0,366.6 1434.25,366.6 1434.5,369.5 1434.75,366.6 1435.0,366.6 1435.25,369.5 1435.5,366.6 1435.75,369.5 1436.0,366.6 1436.25,369.5 1436.5,372.4 1436.75,369.5 1437.0,372.4 1437.25,372.4 1437.5,366.6 1437.75,363.7 1438.0,363.7 1438.25,366.6 1438.5,363.7 1438.75,366.6 1439.0,363.7 1439.25,363.7 1439.5,366.6 1439.75,363.7 1440.0,363.7 1440.25,369.5 1440.5,363.7 1440.75,366.6 1441.0,366.6 1441.25,369.5 1441.5,363.7 1442.0,363.7 1442.25,366.6 1442.5,366.6 1442.75,363.7 1443.0,366.6 1443.25,366.6 1443.5,369.5 1443.75,363.7 1444.0,363.7 1444.25,366.6 1444.5,366.6 1444.75,369.5 1445.0,369.5 1445.25,366.6 1445.5,369.5 1445.75,366.6 1446.0,369.5 1446.25,369.5 1446.5,366.6 1446.75,369.5 1447.25,369.5 1447.5,372.4 1447.75,369.5 1448.0,372.4 1448.25,369.5 1448.5,372.4 1448.75,372.4 1449.0,369.5 1449.5,369.5 1449.75,372.4 1450.0,369.5 1450.25,375.3 1451.0,375.3 1451.25,372.4 1451.5,378.2 1451.75,375.3 1452.0,375.3 1452.25,381.1 1452.75,381.1 1453.0,384.0 1453.25,384.0 1453.5,389.9 1453.75,387.0 1454.0,392.8 1454.25,395.7 1454.5,404.4 1454.75,407.3 1455.0,416.1 1455.25,410.2 1455.5,407.3 1455.75,401.5 1456.0,395.7 1456.25,384.0 1456.5,384.0 1456.75,378.2 1457.0,369.5 1457.25,343.3 1457.5,325.9 1457.75,325.9 1458.0,317.1 1458.25,317.1 1458.5,308.4 1458.75,302.6 1459.0,299.7 1459.25,296.8 1459.5,282.2 1459.75,288.0 1460.0,288.0 1460.25,276.4 1460.5,273.5 1460.75,270.6 1461.0,264.8 1461.25,273.5 1461.5,261.8 1461.75,258.9 1462.0,261.8 1462.25,258.9 1462.5,270.6 1462.75,258.9 1463.0,253.1 1463.25,261.8 1463.5,256.0 1464.0,256.0 1464.25,253.1 1464.5,264.8 1464.75,258.9 1465.0,253.1 1465.25,258.9 1465.5,253.1 1465.75,244.4 1466.0,247.3 1466.25,247.3 1466.5,258.9 1466.75,247.3 1467.0,244.4 1467.5,244.4 1467.75,235.7 1468.0,244.4 1468.25,244.4 1468.5,241.5 1469.0,241.5 1469.25,238.6 1469.5,235.7 1469.75,235.7 1470.0,241.5 1470.25,238.6 1470.5,235.7 1470.75,241.5 1471.0,235.7 1471.25,238.6 1471.5,244.4 1471.75,241.5 1472.0,235.7 1472.25,235.7 1472.5,244.4 1472.75,241.5 1473.0,247.3 1473.25,253.1 1473.5,244.4 1473.75,247.3 1474.0,250.2 1474.25,256.0 1474.5,258.9 1474.75,267.7 1475.0,267.7 1475.25,270.6 1475.5,279.3 1475.75,279.3 1476.0,290.9 1476.25,290.9 1476.5,285.1 1476.75,288.0 1477.0,290.9 1477.25,293.9 1477.5,293.9 1477.75,290.9 1478.0,288.0 1478.25,290.9 1478.5,288.0 1478.75,285.1 1479.25,285.1 1479.5,282.2 1479.75,285.1 1480.0,279.3 1480.25,282.2 1480.5,285.1 1480.75,279.3 1481.0,282.2 1481.25,285.1 1481.5,282.2 1481.75,288.0 1482.25,288.0 1482.5,293.9 1482.75,290.9 1483.0,293.9 1483.25,296.8 1483.5,299.7 1483.75,299.7 1484.0,305.5 1484.25,308.4 1484.5,308.4 1484.75,314.2 1485.0,311.3 1485.25,317.1 1485.5,317.1 1485.75,320.0 1486.25,320.0 1486.5,322.9 1486.75,325.9 1487.0,328.8 1487.25,328.8 1487.5,331.7 1488.0,331.7 1488.25,334.6 1488.5,331.7 1488.75,334.6 1489.0,334.6 1489.25,337.5 1489.5,337.5 1489.75,340.4 1490.0,340.4 1490.25,343.3 1490.5,346.2 1490.75,346.2 1491.0,349.1 1491.25,349.1 1491.5,352.0 1491.75,352.0 1492.0,355.0 1492.25,355.0 1492.5,357.9 1492.75,357.9 1493.0,366.6 1493.25,360.8 1493.5,366.6 1493.75,363.7 1494.0,369.5 1494.25,366.6 1494.5,372.4 1494.75,381.1 1495.0,375.3 1495.25,378.2 1495.5,375.3 1495.75,381.1 1496.0,381.1 1496.25,378.2 1496.5,378.2 1496.75,381.1 1497.0,381.1 1497.25,384.0 1497.5,384.0 1497.75,387.0 1498.0,389.9 1498.25,392.8 1498.5,392.8 1498.75,384.0 1499.0,395.7 1499.25,398.6 1499.5,401.5 1499.75,401.5 1500.0,404.4 1500.25,410.2 1500.5,416.1 1500.75,407.3 1501.0,416.1 1501.25,413.1 1501.5,413.1 1501.75,407.3 1502.0,404.4 1502.25,407.3 1502.5,410.2 1502.75,413.1 1503.0,413.1 1503.25,410.2 1503.5,416.1 1503.75,413.1 1504.0,413.1 1504.25,410.2 1504.5,416.1 1504.75,413.1 1505.0,416.1 1505.25,416.1 1505.5,421.9 1505.75,413.1 1506.0,410.2 1506.25,416.1 1506.5,416.1 1506.75,421.9 1507.0,416.1 1507.25,427.7 1507.5,424.8 1507.75,430.6 1508.0,439.3 1508.25,436.4 1508.5,445.1 1508.75,448.1 1509.0,448.1 1509.25,451.0 1509.5,456.8 1509.75,453.9 1510.0,456.8 1510.25,453.9 1510.5,451.0 1510.75,451.0 1511.0,445.1 1511.25,439.3 1511.5,433.5 1511.75,427.7 1512.0,421.9 1512.25,416.1 1512.5,410.2 1512.75,404.4 1513.0,398.6 1513.25,392.8 1513.5,389.9 1513.75,381.1 1514.0,375.3 1514.25,366.6 1514.5,360.8 1514.75,355.0 1515.0,363.7 1515.25,369.5 1515.5,375.3 1515.75,381.1 1516.0,389.9 1516.25,392.8 1516.5,398.6 1516.75,404.4 1517.0,413.1 1517.25,419.0 1517.5,424.8 1517.75,433.5 1518.0,439.3 1518.25,448.1 1518.5,451.0 1518.75,459.7 1519.0,462.6 1519.25,468.4 1519.5,474.2 1519.75,477.2 1520.75,477.2 1521.0,471.3 1521.25,465.5 1521.5,459.7 1521.75,453.9 1522.0,442.2 1522.25,433.5 1522.5,424.8 1522.75,416.1 1523.0,407.3 1523.25,401.5 1523.5,392.8 1523.75,387.0 1524.0,381.1 1524.25,375.3 1524.5,369.5 1524.75,366.6 1525.0,363.7 1525.25,357.9 1525.5,355.0 1525.75,352.0 1526.0,346.2 1526.25,343.3 1526.5,340.4 1526.75,337.5 1527.0,334.6 1527.25,331.7 1527.5,328.8 1528.5,328.8 1528.75,325.9 1531.5,325.9 1531.75,328.8 1532.0,328.8 1532.25,331.7 1533.0,331.7 1533.25,337.5 1533.5,337.5 1533.75,340.4 1534.0,343.3 1534.25,340.4 1534.5,343.3 1534.75,343.3 1535.0,340.4 1535.25,343.3 1535.5,343.3 1535.75,340.4 1536.0,340.4 1536.25,343.3 1536.5,343.3 1536.75,340.4 1537.0,343.3 1537.25,343.3 1537.5,346.2 1538.0,346.2 1538.25,349.1 1538.5,352.0 1539.5,352.0 1539.75,355.0 1540.0,355.0 1540.25,357.9 1540.5,360.8 1540.75,360.8 1541.0,363.7 1541.25,366.6 1541.5,363.7 1541.75,363.7 1542.0,366.6 1542.25,366.6 1542.5,369.5 1542.75,372.4 1543.25,372.4 1543.5,375.3 1543.75,375.3 1544.0,378.2 1544.25,378.2 1544.5,381.1 1544.75,381.1 1545.0,384.0 1545.5,384.0 1545.75,387.0 1546.0,389.9 1546.25,389.9 1546.5,392.8 1546.75,389.9 1547.0,395.7 1547.25,392.8 1547.5,395.7 1547.75,398.6 1548.0,398.6 1548.25,401.5 1548.5,395.7 1548.75,398.6 1549.0,398.6 1549.25,395.7 1549.5,401.5 1549.75,398.6 1550.0,401.5 1550.25,398.6 1551.0,398.6 1551.25,395.7 1551.5,392.8 1551.75,398.6 1552.0,392.8 1552.25,395.7 1552.5,398.6 1552.75,404.4 1553.0,398.6 1553.25,404.4 1553.5,407.3 1553.75,410.2 1554.0,416.1 1554.25,419.0 1554.5,424.8 1554.75,424.8 1555.0,427.7 1555.25,430.6 1555.5,433.5 1555.75,436.4 1556.0,433.5 1556.25,436.4 1556.5,442.2 1557.0,442.2 1557.25,439.3 1557.75,439.3 1558.0,433.5 1558.25,436.4 1558.5,436.4 1558.75,433.5 1559.0,433.5 1559.25,427.7 1559.5,427.7 1559.75,424.8 1560.0,430.6 1560.25,421.9 1560.5,416.1 1560.75,413.1 1561.0,416.1 1561.25,416.1 1561.5,410.2 1562.0,410.2 1562.25,407.3 1562.5,401.5 1563.0,401.5 1563.25,404.4 1563.5,395.7 1563.75,401.5 1564.0,398.6 1564.25,401.5 1564.5,395.7 1565.25,395.7 1565.5,398.6 1565.75,395.7 1566.0,401.5 1566.25,395.7 1566.5,395.7 1566.75,398.6 1567.25,398.6 1567.5,395.7 1567.75,395.7 1568.0,392.8 1568.5,392.8 1568.75,387.0 1569.0,384.0 1569.25,384.0 1569.5,381.1 1569.75,378.2 1570.0,375.3 1570.25,375.3 1570.5,372.4 1570.75,372.4 1571.0,369.5 1571.25,366.6 1571.5,369.5 1571.75,355.0 1572.0,357.9 1572.25,346.2 1572.5,343.3 1572.75,328.8 1573.0,325.9 1573.25,322.9 1573.5,308.4 1573.75,308.4 1574.0,302.6 1574.25,302.6 1574.5,299.7 1575.0,299.7 1575.25,308.4 1575.5,302.6 1575.75,296.8 1576.0,290.9 1576.25,293.9 1576.5,293.9 1576.75,288.0 1577.0,290.9 1577.25,290.9 1577.5,288.0 1577.75,290.9 1578.0,279.3 1578.25,279.3 1578.5,282.2 1578.75,282.2 1579.0,276.4 1579.25,276.4 1579.5,285.1 1579.75,290.9 1580.0,288.0 1580.25,302.6 1580.5,308.4 1580.75,308.4 1581.0,314.2 1581.25,314.2 1581.5,320.0 1581.75,320.0 1582.0,325.9 1582.25,331.7 1582.5,334.6 1582.75,337.5 1583.0,340.4 1583.25,340.4 1583.5,343.3 1583.75,349.1 1584.0,349.1 1584.25,346.2 1584.5,340.4 1584.75,346.2 1585.0,331.7 1585.25,334.6 1585.5,337.5 1585.75,331.7 1586.0,331.7 1586.25,334.6 1586.5,334.6 1586.75,340.4 1587.0,346.2 1587.25,343.3 1587.5,340.4 1587.75,343.3 1588.0,331.7 1588.25,343.3 1588.5,334.6 1588.75,337.5 1589.0,346.2 1589.25,346.2 1589.5,343.3 1589.75,352.0 1590.0,357.9 1590.25,355.0 1590.5,355.0 1590.75,363.7 1591.0,363.7 1591.25,369.5 1591.5,375.3 1591.75,378.2 1592.0,381.1 1592.25,384.0 1592.5,387.0 1592.75,392.8 1593.0,387.0 1593.25,389.9 1593.5,384.0 1593.75,384.0 1594.0,378.2 1594.25,378.2 1594.5,375.3 1594.75,378.2 1595.0,375.3 1595.5,375.3 1595.75,378.2 1596.0,378.2 1596.25,381.1 1596.5,384.0 1596.75,387.0 1597.0,387.0 1597.25,389.9 1597.5,389.9 1597.75,387.0 1598.0,389.9 1598.25,384.0 1598.5,387.0 1598.75,384.0 1600.0,384.0 1600.25,381.1 1601.0,381.1 1601.25,384.0 1601.5,384.0 1601.75,381.1 1602.0,378.2 1602.25,381.1 1602.5,378.2 1603.5,378.2 1603.75,381.1 1604.0,378.2 1604.25,378.2 1604.5,375.3 1604.75,378.2 1606.25,378.2 1606.5,381.1 1607.5,381.1 1607.75,387.0 1608.0,384.0 1608.25,384.0 1608.5,381.1 1608.75,387.0 1609.0,384.0 1609.25,384.0 1609.5,387.0 1609.75,389.9 1610.0,387.0 1610.25,389.9 1610.5,387.0 1610.75,389.9 1611.0,387.0 1611.25,389.9 1612.5,389.9 1612.75,392.8 1613.75,392.8 1614.0,395.7 1614.25,392.8 1614.5,392.8 1614.75,395.7 1615.25,395.7 1615.5,392.8 1615.75,395.7 1617.25,395.7 1617.5,398.6 1617.75,395.7 1618.0,398.6 1618.75,398.6 1619.0,401.5 1619.25,398.6 1619.5,401.5 1620.0,401.5 1620.25,404.4 1621.0,404.4 1621.25,407.3 1621.5,410.2 1622.0,410.2 1622.25,407.3 1622.5,404.4 1622.75,401.5 1623.0,401.5 1623.25,398.6 1623.5,398.6 1623.75,395.7 1624.0,395.7 1624.25,392.8 1624.5,389.9 1625.0,389.9 1625.25,387.0 1625.5,384.0 1625.75,384.0 1626.0,381.1 1626.25,375.3 1626.5,372.4 1626.75,372.4 1627.0,369.5 1627.25,372.4 1627.75,372.4 1628.0,375.3 1628.25,381.1 1628.5,381.1 1628.75,384.0 1629.0,387.0 1629.25,389.9 1630.0,389.9 1630.25,387.0 1630.5,384.0 1630.75,384.0 1631.0,381.1 1631.25,381.1 1631.5,378.2 1631.75,375.3 1632.0,372.4 1632.5,372.4 1632.75,369.5 1633.25,369.5 1633.5,360.8 1633.75,355.0 1634.0,352.0 1634.25,343.3 1634.5,337.5 1634.75,328.8 1635.0,320.0 1635.25,314.2 1635.5,308.4 1635.75,302.6 1636.25,302.6 1636.5,293.9 1636.75,293.9 1637.0,288.0 1637.25,285.1 1637.5,279.3 1637.75,279.3 1638.0,282.2 1638.25,285.1 1638.5,290.9 1638.75,293.9 1639.0,290.9 1639.75,290.9 1640.0,293.9 1640.5,293.9 1640.75,290.9 1641.25,290.9 1641.5,288.0 1641.75,293.9 1642.0,290.9 1642.25,288.0 1642.5,288.0 1642.75,290.9 1643.0,288.0 1643.25,290.9 1644.25,290.9 1644.5,288.0 1644.75,293.9 1645.0,290.9 1645.25,293.9 1645.5,290.9 1645.75,293.9 1646.0,293.9 1646.25,296.8 1647.5,296.8 1647.75,299.7 1648.0,299.7 1648.25,305.5 1648.5,308.4 1649.0,308.4 1649.25,311.3 1649.5,311.3 1649.75,308.4 1650.0,311.3 1650.25,314.2 1650.5,308.4 1650.75,311.3 1651.0,314.2 1651.25,311.3 1651.5,317.1 1651.75,314.2 1652.0,320.0 1652.5,320.0 1652.75,322.9 1653.0,320.0 1653.25,328.8 1654.25,328.8 1654.5,331.7 1654.75,328.8 1655.0,334.6 1655.25,331.7 1655.5,328.8 1655.75,331.7 1656.0,334.6 1656.25,334.6 1656.5,337.5 1656.75,340.4 1657.0,340.4 1657.25,343.3 1657.5,343.3 1657.75,346.2 1658.0,343.3 1658.25,346.2 1658.5,349.1 1658.75,352.0 1659.0,352.0 1659.25,349.1 1659.5,352.0 1659.75,355.0 1660.0,357.9 1660.25,355.0 1660.5,357.9 1660.75,360.8 1661.0,363.7 1661.25,366.6 1661.5,366.6 1661.75,369.5 1662.0,369.5 1662.25,366.6 1662.5,366.6 1662.75,363.7 1663.0,363.7 1663.25,357.9 1663.5,355.0 1663.75,355.0 1664.0,352.0 1664.25,349.1 1664.5,349.1 1664.75,346.2 1665.0,343.3 1665.25,346.2 1665.5,343.3 1666.0,343.3 1666.25,340.4 1666.5,343.3 1666.75,349.1 1667.0,343.3 1667.25,343.3 1667.5,346.2 1667.75,343.3 1668.0,352.0 1668.25,346.2 1668.5,352.0 1668.75,352.0 1669.0,357.9 1669.25,366.6 1669.5,366.6 1669.75,369.5 1670.0,372.4 1670.25,378.2 1670.5,387.0 1670.75,392.8 1671.0,395.7 1671.25,404.4 1671.5,407.3 1671.75,410.2 1672.0,410.2 1672.25,407.3 1672.75,407.3 1673.0,398.6 1673.25,404.4 1673.5,398.6 1673.75,398.6 1674.0,401.5 1674.25,395.7 1674.5,398.6 1674.75,392.8 1675.0,392.8 1675.25,395.7 1675.5,392.8 1675.75,392.8 1676.0,395.7 1676.25,395.7 1676.5,389.9 1676.75,395.7 1677.0,395.7 1677.25,398.6 1677.5,398.6 1677.75,401.5 1678.0,398.6 1678.25,395.7 1678.75,395.7 1679.0,389.9 1679.25,389.9 1679.5,384.0 1679.75,378.2 1680.0,372.4 1680.25,372.4 1680.5,369.5 1680.75,363.7 1681.0,369.5 1681.25,366.6 1681.5,355.0 1681.75,346.2 1682.0,340.4 1682.25,331.7 1682.5,317.1 1682.75,311.3 1683.0,302.6 1683.25,293.9 1683.5,288.0 1683.75,285.1 1684.0,279.3 1684.25,282.2 1684.5,279.3 1684.75,276.4 1685.0,267.7 1685.25,267.7 1685.5,258.9 1685.75,258.9 1686.0,250.2 1686.25,253.1 1686.5,247.3 1686.75,247.3 1687.0,235.7 1687.25,221.1 1687.5,206.6 1687.75,218.2 1688.0,209.5 1688.25,197.8 1688.5,192.0 1688.75,194.9 1689.0,186.2 1689.25,192.0 1689.5,183.3 1689.75,177.5 1690.0,174.6 1690.25,180.4 1690.5,186.2 1691.25,186.2 1691.5,189.1 1691.75,183.3 1692.0,177.5 1692.25,180.4 1692.5,180.4 1692.75,171.7 1693.0,165.8 1693.25,160.0 1693.5,157.1 1693.75,157.1 1694.0,154.2 1694.25,151.3 1694.5,148.4 1694.75,145.5 1695.0,148.4 1695.25,145.5 1695.5,160.0 1695.75,160.0 1696.0,165.8 1696.25,162.9 1696.5,174.6 1696.75,180.4 1697.0,180.4 1697.25,189.1 1697.5,194.9 1697.75,192.0 1698.0,200.7 1698.25,200.7 1698.5,206.6 1698.75,212.4 1699.0,221.1 1699.25,229.8 1699.5,226.9 1699.75,232.8 1700.0,235.7 1700.25,241.5 1700.5,244.4 1700.75,247.3 1701.0,250.2 1701.25,253.1 1701.5,258.9 1701.75,258.9 1702.0,261.8 1702.25,267.7 1702.5,270.6 1702.75,273.5 1703.0,273.5 1703.25,276.4 1703.5,279.3 1703.75,282.2 1704.0,285.1 1704.25,285.1 1704.5,290.9 1704.75,293.9 1705.0,296.8 1705.25,305.5 1705.5,308.4 1705.75,311.3 1706.0,320.0 1706.25,322.9 1706.5,325.9 1706.75,331.7 1707.0,334.6 1707.25,337.5 1707.5,337.5 1707.75,340.4 1708.0,337.5 1708.25,328.8 1708.5,325.9 1708.75,320.0 1709.0,320.0 1709.25,314.2 1710.5,314.2 1710.75,320.0 1711.0,317.1 1711.25,320.0 1711.5,322.9 1711.75,320.0 1712.0,320.0 1712.25,325.9 1712.5,322.9 1712.75,322.9 1713.0,325.9 1713.25,322.9 1714.0,322.9 1714.25,320.0 1714.75,320.0 1715.0,314.2 1715.25,320.0 1715.5,317.1 1715.75,317.1 1716.0,311.3 1716.75,311.3 1717.0,308.4 1717.5,308.4 1717.75,305.5 1718.0,302.6 1718.25,299.7 1718.5,305.5 1718.75,302.6 1719.0,302.6 1719.25,296.8 1719.5,302.6 1719.75,296.8 1720.0,296.8 1720.25,299.7 1720.5,296.8 1720.75,302.6 1721.0,296.8 1721.25,299.7 1721.5,293.9 1721.75,293.9 1722.0,296.8 1722.25,290.9 1722.5,293.9 1723.0,293.9 1723.25,296.8 1723.5,293.9 1723.75,288.0 1724.0,293.9 1724.25,290.9 1725.0,290.9 1725.25,293.9 1725.5,299.7 1725.75,296.8 1726.0,293.9 1726.25,299.7 1726.5,302.6 1726.75,305.5 1727.0,311.3 1727.25,308.4 1728.0,308.4 1728.25,305.5 1728.5,305.5 1728.75,302.6 1729.0,302.6 1729.25,305.5 1729.5,296.8 1730.0,296.8 1730.25,290.9 1730.5,288.0 1730.75,285.1 1731.0,282.2 1731.25,282.2 1731.5,279.3 1731.75,279.3 1732.0,276.4 1732.25,273.5 1732.5,273.5 1732.75,270.6 1733.0,267.7 1733.25,267.7 1733.5,264.8 1733.75,270.6 1734.0,267.7 1734.25,267.7 1734.5,264.8 1734.75,273.5 1735.0,264.8 1735.25,270.6 1735.5,261.8 1736.0,261.8 1736.25,264.8 1736.5,270.6 1736.75,267.7 1737.0,279.3 1737.25,285.1 1737.5,296.8 1737.75,299.7 1738.0,299.7 1738.25,296.8 1738.5,308.4 1738.75,299.7 1739.0,293.9 1739.25,308.4 1739.5,299.7 1739.75,299.7 1740.0,296.8 1740.25,296.8 1740.5,290.9 1740.75,285.1 1741.75,285.1 1742.0,288.0 1742.25,288.0 1742.5,293.9 1742.75,293.9 1743.0,299.7 1743.25,285.1 1743.5,279.3 1743.75,288.0 1744.0,311.3 1744.25,314.2 1744.5,337.5 1744.75,349.1 1745.0,314.2 1745.25,282.2 1745.5,273.5 1745.75,270.6 1746.25,270.6 1746.5,276.4 1746.75,270.6 1747.0,261.8 1747.25,256.0 1747.5,258.9 1747.75,256.0 1748.0,250.2 1748.25,258.9 1748.5,256.0 1748.75,247.3 1749.0,241.5 1749.25,241.5 1749.5,244.4 1749.75,235.7 1750.0,238.6 1750.25,229.8 1750.5,232.8 1750.75,229.8 1751.0,229.8 1751.25,232.8 1751.5,229.8 1752.25,229.8 1752.5,235.7 1752.75,229.8 1753.0,235.7 1753.25,241.5 1753.5,238.6 1753.75,244.4 1754.0,247.3 1754.25,250.2 1754.5,247.3 1754.75,258.9 1755.0,258.9 1755.25,267.7 1755.5,264.8 1755.75,264.8 1756.0,267.7 1756.25,270.6 1756.5,279.3 1756.75,282.2 1757.0,282.2 1757.25,288.0 1757.5,290.9 1757.75,293.9 1758.0,299.7 1758.25,302.6 1758.5,308.4 1758.75,308.4 1759.0,314.2 1759.25,317.1 1759.5,320.0 1759.75,320.0 1760.0,322.9 1760.25,325.9 1760.5,328.8 1760.75,331.7 1761.0,334.6 1761.25,334.6 1761.5,337.5 1761.75,340.4 1762.0,343.3 1762.25,346.2 1762.5,349.1 1762.75,352.0 1763.0,352.0 1763.25,355.0 1763.5,352.0 1763.75,355.0 1764.0,355.0 1764.25,357.9 1764.5,360.8 1765.0,360.8 1765.25,363.7 1765.75,363.7 1766.0,366.6 1768.0,366.6 1768.25,369.5 1768.5,372.4 1768.75,375.3 1769.0,378.2 1769.25,378.2 1769.5,384.0 1769.75,387.0 1770.0,389.9 1770.25,395.7 1770.5,398.6 1770.75,401.5 1771.0,407.3 1771.25,413.1 1771.5,416.1 1771.75,419.0 1772.0,427.7 1772.25,427.7 1772.5,430.6 1772.75,433.5 1773.0,439.3 1773.25,451.0 1773.5,436.4 1773.75,451.0 1774.0,451.0 1774.25,459.7 1774.5,462.6 1774.75,465.5 1775.0,462.6 1775.25,468.4 1775.5,477.2 1775.75,477.2 1776.0,483.0 1776.25,483.0 1776.5,485.9 1776.75,485.9 1777.0,491.7 1777.5,491.7 1777.75,494.6 1778.0,494.6 1778.25,483.0 1778.5,491.7 1778.75,485.9 1779.0,488.8 1779.25,488.8 1779.5,503.3 1779.75,488.8 1780.0,500.4 1780.25,509.2 1780.5,506.2 1780.75,500.4 1781.0,509.2 1781.25,517.9 1781.5,517.9 1781.75,512.1 1782.0,526.6 1782.25,523.7 1782.5,526.6 1782.75,520.8 1783.0,532.4 1783.25,526.6 1783.5,538.3 1783.75,541.2 1784.0,535.3 1784.25,541.2 1784.5,552.8 1784.75,544.1 1785.0,547.0 1785.25,552.8 1785.75,552.8 1786.0,558.6 1786.25,561.5 1786.5,564.4 1787.0,564.4 1787.25,561.5 1787.5,564.4 1787.75,555.7 1788.25,555.7 1788.5,547.0 1789.0,547.0 1789.25,555.7 1789.5,544.1 1789.75,549.9 1790.0,555.7 1790.25,558.6 1790.5,558.6 1790.75,555.7 1791.0,555.7 1791.25,558.6 1791.5,558.6 1791.75,552.8 1792.0,544.1 1792.25,532.4 1792.5,538.3 1792.75,529.5 1793.0,526.6 1793.25,523.7 1793.5,512.1 1793.75,506.2 1794.0,509.2 1794.25,503.3 1794.5,488.8 1794.75,488.8 1795.0,480.1 1795.25,474.2 1795.5,468.4 1795.75,459.7 1796.0,453.9 1796.25,445.1 1796.5,436.4 1796.75,427.7 1797.0,424.8 1797.25,419.0 1797.5,413.1 1797.75,410.2 1798.0,404.4 1798.25,398.6 1798.5,389.9 1798.75,384.0 1799.0,384.0 1799.25,381.1 1799.5,372.4 1799.75,366.6 1800.0,357.9 1800.25,346.2 1800.5,334.6 1800.75,331.7 1801.0,320.0 1801.25,320.0 1801.5,311.3 1801.75,302.6 1802.0,305.5 1802.25,299.7 1803.0,299.7 1803.25,302.6 1803.5,302.6 1803.75,299.7 1804.0,302.6 1804.25,305.5 1804.5,308.4 1804.75,302.6 1805.0,302.6 1805.25,299.7 1805.5,302.6 1805.75,296.8 1806.0,293.9 1806.25,296.8 1806.5,288.0 1806.75,290.9 1807.0,288.0 1807.5,288.0 1807.75,285.1 1808.0,282.2 1808.5,282.2 1808.75,279.3 1809.0,282.2 1809.25,282.2 1809.5,288.0 1809.75,290.9 1810.0,293.9 1810.25,293.9 1810.5,302.6 1810.75,305.5 1811.0,308.4 1811.25,311.3 1811.5,314.2 1811.75,320.0 1812.25,320.0 1812.5,322.9 1812.75,325.9 1813.0,328.8 1813.25,331.7 1813.75,331.7 1814.0,334.6 1814.25,334.6 1814.5,337.5 1815.0,337.5 1815.25,340.4 1815.5,337.5 1815.75,340.4 1816.0,340.4 1816.25,343.3 1816.5,343.3 1816.75,340.4 1817.0,346.2 1817.25,346.2 1817.5,349.1 1818.25,349.1 1818.5,352.0 1818.75,352.0 1819.0,349.1 1819.25,355.0 1819.5,355.0 1819.75,357.9 1820.0,360.8 1820.25,369.5 1820.5,369.5 1820.75,360.8 1821.0,357.9 1821.75,357.9 1822.0,360.8 1822.75,360.8 1823.0,366.6 1823.25,360.8 1823.5,360.8 1823.75,363.7 1824.0,363.7 1824.25,366.6 1824.5,363.7 1824.75,369.5 1825.25,369.5 1825.5,366.6 1825.75,372.4 1826.0,372.4 1826.25,369.5 1826.75,369.5 1827.0,375.3 1828.25,375.3 1828.5,384.0 1828.75,389.9 1829.0,395.7" stroke="#a0ccf6"/><polyline points="90.0,474.2 90.25,477.2 90.5,483.0 90.75,488.8 91.0,491.7 91.25,497.5 91.75,497.5 92.0,506.2 92.25,509.2 92.75,509.2 93.0,512.1 93.25,515.0 93.75,515.0 94.0,520.8 94.25,517.9 94.5,520.8 94.75,520.8 95.0,523.7 95.25,520.8 95.5,523.7 95.75,520.8 96.0,520.8 96.25,523.7 96.5,526.6 96.75,526.6 97.0,523.7 97.25,523.7 97.5,526.6 97.75,523.7 98.25,523.7 98.5,520.8 98.75,526.6 99.25,526.6 99.5,529.5 100.25,529.5 100.5,532.4 100.75,529.5 101.0,529.5 101.25,535.3 101.5,532.4 101.75,532.4 102.0,529.5 102.25,520.8 102.75,520.8 103.0,509.2 103.25,500.4 103.5,491.7 103.75,480.1 104.0,474.2 104.25,471.3 104.5,471.3 104.75,474.2 105.0,477.2 105.25,485.9 105.5,488.8 105.75,494.6 106.0,497.5 106.25,500.4 106.5,500.4 106.75,503.3 107.0,509.2 107.5,509.2 107.75,512.1 108.0,509.2 108.25,509.2 108.5,506.2 108.75,503.3 109.0,500.4 109.25,494.6 109.5,488.8 109.75,483.0 110.0,480.1 110.25,471.3 110.5,468.4 110.75,462.6 111.0,456.8 111.25,453.9 111.5,448.1 111.75,445.1 112.0,439.3 112.25,433.5 112.5,430.6 112.75,424.8 113.0,419.0 113.25,413.1 113.5,407.3 113.75,401.5 114.0,398.6 114.25,392.8 114.5,389.9 114.75,384.0 115.0,378.2 115.25,372.4 115.5,369.5 115.75,363.7 116.0,366.6 116.25,346.2 116.5,328.8 116.75,317.1 117.0,311.3 117.25,302.6 117.5,285.1 117.75,273.5 118.0,264.8 118.25,253.1 118.5,244.4 118.75,241.5 119.0,229.8 119.25,232.8 119.5,224.0 120.0,224.0 120.25,229.8 120.5,229.8 120.75,241.5 121.0,241.5 121.25,232.8 121.5,238.6 121.75,226.9 122.0,235.7 122.25,224.0 122.5,232.8 122.75,226.9 123.0,229.8 123.25,235.7 123.5,224.0 123.75,224.0 124.0,226.9 124.75,226.9 125.0,221.1 125.25,229.8 125.5,226.9 125.75,232.8 126.25,232.8 126.5,218.2 126.75,221.1 127.0,215.3 127.25,218.2 127.5,224.0 127.75,226.9 128.0,229.8 128.25,229.8 128.5,232.8 128.75,235.7 129.0,244.4 129.25,241.5 129.5,235.7 129.75,244.4 130.0,250.2 130.25,244.4 130.5,244.4 130.75,256.0 131.0,253.1 131.25,256.0 131.5,264.8 131.75,256.0 132.0,261.8 132.25,261.8 132.5,264.8 132.75,264.8 133.0,267.7 133.25,267.7 133.5,270.6 133.75,273.5 134.0,273.5 134.25,276.4 134.5,276.4 134.75,279.3 135.0,282.2 135.25,285.1 135.5,285.1 135.75,288.0 136.0,288.0 136.25,290.9 136.5,293.9 136.75,293.9 137.0,296.8 137.25,299.7 137.5,302.6 137.75,305.5 138.0,305.5 138.25,308.4 138.5,311.3 138.75,311.3 139.0,314.2 139.25,317.1 139.5,322.9 139.75,328.8 140.0,337.5 140.25,343.3 140.5,352.0 140.75,357.9 141.0,363.7 141.25,378.2 141.5,389.9 141.75,395.7 142.0,401.5 142.25,410.2 142.5,413.1 142.75,416.1 143.0,424.8 143.25,430.6 143.5,430.6 143.75,436.4 144.0,442.2 144.25,445.1 144.5,451.0 144.75,456.8 145.0,456.8 145.25,459.7 145.5,462.6 145.75,459.7 146.5,459.7 146.75,456.8 147.25,456.8 147.5,453.9 148.0,453.9 148.25,451.0 148.5,451.0 148.75,459.7 149.0,459.7 149.25,462.6 149.5,465.5 149.75,468.4 150.25,468.4 150.5,474.2 150.75,474.2 151.0,480.1 151.25,480.1 151.5,485.9 151.75,491.7 152.0,491.7 152.25,494.6 152.5,497.5 152.75,497.5 153.0,500.4 153.25,503.3 153.5,506.2 153.75,509.2 154.0,509.2 154.25,512.1 154.5,515.0 154.75,515.0 155.0,517.9 155.75,517.9 156.0,520.8 156.5,520.8 156.75,523.7 157.0,526.6 157.5,526.6 157.75,529.5 158.0,529.5 158.25,532.4 158.5,535.3 159.0,535.3 159.25,541.2 159.5,538.3 159.75,541.2 160.0,541.2 160.25,544.1 160.5,547.0 161.0,547.0 161.25,549.9 161.5,552.8 161.75,552.8 162.0,555.7 162.25,555.7 162.5,558.6 162.75,558.6 163.0,555.7 163.25,555.7 163.5,552.8 163.75,552.8 164.0,549.9 164.25,549.9 164.5,547.0 164.75,547.0 165.0,544.1 165.25,544.1 165.5,541.2 165.75,535.3 166.0,529.5 166.25,520.8 166.5,512.1 166.75,500.4 167.0,491.7 167.25,474.2 167.5,459.7 167.75,436.4 168.0,404.4 168.25,392.8 168.5,384.0 168.75,375.3 169.0,366.6 169.25,355.0 169.5,349.1 169.75,337.5 170.0,331.7 170.25,317.1 170.5,305.5 170.75,293.9 171.0,282.2 171.25,270.6 171.5,261.8 171.75,253.1 172.0,244.4 172.25,241.5 172.5,238.6 172.75,235.7 173.0,235.7 173.25,229.8 173.5,229.8 173.75,224.0 174.0,221.1 174.25,218.2 174.5,212.4 174.75,209.5 175.0,206.6 175.25,203.7 175.5,194.9 175.75,200.7 176.0,200.7 176.25,197.8 176.5,186.2 176.75,177.5 177.0,174.6 177.25,180.4 177.5,177.5 177.75,174.6 178.0,168.7 178.25,168.7 178.5,165.8 178.75,162.9 179.0,165.8 179.25,162.9 179.5,160.0 179.75,160.0 180.0,157.1 180.25,148.4 180.5,151.3 180.75,154.2 181.0,162.9 181.25,157.1 181.5,165.8 181.75,165.8 182.0,154.2 182.25,151.3 182.5,154.2 182.75,157.1 183.0,154.2 183.25,157.1 183.5,154.2 183.75,148.4 184.0,154.2 184.5,154.2 184.75,148.4 185.0,145.5 185.25,151.3 185.5,145.5 185.75,154.2 186.0,145.5 186.25,148.4 186.5,151.3 186.75,162.9 187.0,162.9 187.25,171.7 187.5,177.5 187.75,186.2 188.0,194.9 188.25,203.7 188.5,203.7 188.75,215.3 189.0,224.0 189.25,229.8 189.5,238.6 189.75,244.4 190.0,250.2 190.25,267.7 190.5,285.1 190.75,299.7 191.0,311.3 191.25,320.0 191.5,331.7 191.75,340.4 192.0,349.1 192.25,360.8 192.5,366.6 192.75,372.4 193.0,375.3 193.25,381.1 193.5,387.0 193.75,392.8 194.0,395.7 194.25,407.3 194.5,410.2 194.75,421.9 195.0,424.8 195.25,436.4 195.5,439.3 195.75,442.2 196.0,451.0 196.25,451.0 196.5,453.9 196.75,459.7 197.0,465.5 197.25,471.3 197.5,474.2 197.75,477.2 198.0,483.0 198.25,477.2 198.5,474.2 198.75,471.3 199.0,465.5 199.25,459.7 199.5,465.5 199.75,465.5 200.0,468.4 200.25,471.3 200.5,471.3 200.75,477.2 201.0,477.2 201.25,485.9 201.5,488.8 201.75,494.6 202.0,497.5 202.25,500.4 202.5,506.2 202.75,512.1 203.0,517.9 203.25,520.8 203.5,523.7 203.75,526.6 204.0,526.6 204.25,535.3 204.5,535.3 204.75,541.2 205.0,538.3 205.25,544.1 205.5,547.0 206.0,547.0 206.25,552.8 206.5,552.8 206.75,555.7 207.0,558.6 207.25,558.6 207.5,561.5 207.75,564.4 208.0,561.5 208.25,567.3 208.5,567.3 208.75,570.3 209.0,573.2 209.25,576.1 209.5,570.3 209.75,573.2 210.75,573.2 211.0,567.3 211.25,573.2 211.5,573.2 211.75,570.3 212.0,570.3 212.25,564.4 212.5,564.4 212.75,567.3 213.0,573.2 213.5,573.2 213.75,584.8 214.0,581.9 214.25,587.7 214.5,584.8 214.75,590.6 215.0,590.6 215.25,593.5 215.5,593.5 215.75,590.6 216.0,593.5 216.25,596.4 216.5,596.4 216.75,599.4 217.25,599.4 217.5,602.3 217.75,605.2 218.0,611.0 218.75,611.0 219.0,613.9 219.25,613.9 219.5,611.0 219.75,605.2 220.0,602.3 220.25,599.4 220.5,593.5 220.75,590.6 221.0,581.9 221.25,579.0 221.5,570.3 221.75,561.5 222.0,552.8 222.25,541.2 222.5,532.4 222.75,523.7 223.0,515.0 223.25,506.2 223.5,497.5 223.75,485.9 224.0,477.2 224.25,468.4 224.5,456.8 224.75,448.1 225.0,436.4 225.25,427.7 225.5,416.1 225.75,404.4 226.0,392.8 226.25,381.1 226.5,375.3 226.75,372.4 227.0,369.5 227.25,366.6 227.5,340.4 227.75,308.4 228.0,273.5 228.25,264.8 228.5,256.0 228.75,247.3 229.0,235.7 229.25,229.8 229.5,224.0 229.75,218.2 230.0,212.4 230.25,206.6 230.5,200.7 230.75,194.9 231.0,189.1 231.25,186.2 231.5,180.4 231.75,177.5 232.0,174.6 232.25,171.7 232.5,171.7 232.75,165.8 233.0,162.9 233.25,165.8 233.5,157.1 233.75,160.0 234.0,157.1 234.25,154.2 234.5,148.4 234.75,148.4 235.0,145.5 235.25,142.6 236.5,142.6 236.75,139.6 237.25,139.6 237.5,136.7 237.75,139.6 238.0,136.7 238.75,136.7 239.0,139.6 239.5,139.6 239.75,145.5 240.5,145.5 240.75,148.4 241.0,154.2 241.25,154.2 241.5,160.0 241.75,162.9 242.0,165.8 242.25,168.7 242.5,171.7 242.75,174.6 243.0,180.4 243.25,186.2 243.5,192.0 243.75,200.7 244.0,203.7 244.25,209.5 244.5,218.2 244.75,224.0 245.0,229.8 245.25,235.7 245.5,241.5 245.75,247.3 246.0,253.1 246.25,261.8 246.5,267.7 246.75,273.5 247.0,282.2 247.25,290.9 247.5,299.7 247.75,308.4 248.0,317.1 248.25,322.9 248.5,331.7 248.75,340.4 249.0,349.1 249.25,352.0 249.5,355.0 249.75,366.6 250.0,369.5 250.25,372.4 250.5,372.4 250.75,366.6 251.0,355.0 251.25,352.0 251.5,349.1 251.75,346.2 252.0,343.3 252.25,343.3 252.5,337.5 252.75,340.4 253.0,343.3 253.25,343.3 253.5,346.2 253.75,346.2 254.0,349.1 254.25,352.0 254.5,349.1 254.75,349.1 255.0,346.2 255.25,349.1 255.5,349.1 255.75,346.2 256.0,343.3 256.25,346.2 256.5,349.1 256.75,349.1 257.0,346.2 257.25,349.1 257.5,352.0 257.75,352.0 258.0,349.1 258.25,352.0 258.5,355.0 258.75,355.0 259.0,352.0 259.25,355.0 259.5,352.0 260.25,352.0 260.5,349.1 260.75,352.0 261.0,349.1 261.25,349.1 261.5,343.3 261.75,346.2 262.0,346.2 262.25,340.4 262.5,337.5 262.75,334.6 263.0,334.6 263.25,331.7 263.5,325.9 263.75,320.0 264.0,322.9 264.25,322.9 264.5,320.0 264.75,320.0 265.0,322.9 265.5,322.9 265.75,325.9 266.0,325.9 266.25,328.8 266.5,325.9 266.75,325.9 267.0,328.8 267.25,328.8 267.5,337.5 267.75,331.7 268.0,334.6 268.5,334.6 268.75,337.5 269.0,343.3 269.25,340.4 269.5,343.3 269.75,343.3 270.0,346.2 270.25,346.2 270.5,349.1 270.75,343.3 271.0,346.2 271.5,346.2 271.75,349.1 272.0,352.0 272.5,352.0 272.75,349.1 273.0,349.1 273.25,352.0 273.5,346.2 273.75,352.0 274.0,346.2 275.25,346.2 275.5,349.1 275.75,346.2 276.25,346.2 276.5,349.1 276.75,355.0 277.0,357.9 277.25,360.8 277.5,366.6 277.75,372.4 278.0,378.2 278.25,375.3 278.5,375.3 278.75,372.4 279.0,372.4 279.25,369.5 279.5,360.8 279.75,363.7 280.0,363.7 280.25,360.8 280.5,357.9 280.75,360.8 281.0,357.9 281.25,352.0 281.5,352.0 281.75,349.1 282.0,346.2 282.25,346.2 282.5,343.3 282.75,343.3 283.0,340.4 283.25,340.4 283.5,334.6 283.75,331.7 284.0,328.8 284.25,325.9 284.5,322.9 284.75,320.0 285.0,314.2 285.25,311.3 285.5,308.4 285.75,305.5 286.0,302.6 286.25,299.7 286.5,296.8 286.75,293.9 287.0,290.9 287.25,285.1 287.5,282.2 287.75,279.3 288.0,276.4 288.25,276.4 288.5,270.6 288.75,267.7 289.0,264.8 289.25,258.9 289.5,256.0 289.75,256.0 290.0,250.2 290.25,250.2 290.5,247.3 290.75,244.4 291.0,241.5 291.25,241.5 291.5,238.6 291.75,238.6 292.0,235.7 292.5,235.7 292.75,232.8 293.0,229.8 293.25,226.9 293.5,226.9 293.75,221.1 294.0,218.2 294.25,221.1 294.5,224.0 295.0,224.0 295.25,226.9 295.5,229.8 295.75,232.8 296.0,235.7 296.25,238.6 296.5,241.5 297.5,241.5 297.75,238.6 298.0,235.7 298.25,238.6 298.75,238.6 299.0,241.5 299.75,241.5 300.0,244.4 300.5,244.4 300.75,247.3 301.0,250.2 301.25,250.2 301.5,253.1 301.75,253.1 302.0,256.0 302.25,261.8 302.5,261.8 302.75,264.8 303.0,267.7 303.5,267.7 303.75,270.6 304.0,270.6 304.25,273.5 304.5,273.5 304.75,276.4 305.0,279.3 305.25,282.2 305.5,288.0 305.75,293.9 306.0,296.8 306.25,302.6 306.5,308.4 306.75,317.1 307.0,322.9 307.25,328.8 307.5,331.7 307.75,334.6 308.0,337.5 308.25,340.4 308.5,340.4 308.75,346.2 309.5,346.2 309.75,349.1 310.25,349.1 310.5,352.0 310.75,355.0 311.5,355.0 311.75,352.0 312.25,352.0 312.5,346.2 312.75,343.3 313.0,337.5 313.25,331.7 313.5,325.9 313.75,320.0 314.0,311.3 314.25,305.5 314.5,302.6 314.75,302.6 315.0,299.7 315.25,296.8 315.75,296.8 316.0,293.9 316.75,293.9 317.0,296.8 317.5,296.8 317.75,299.7 318.0,299.7 318.25,302.6 319.0,302.6 319.25,305.5 319.5,305.5 319.75,308.4 320.0,305.5 321.0,305.5 321.25,308.4 321.5,308.4 321.75,305.5 323.0,305.5 323.25,302.6 324.0,302.6 324.25,299.7 324.5,299.7 324.75,302.6 325.0,302.6 325.25,305.5 325.5,308.4 325.75,308.4 326.0,311.3 326.25,314.2 326.5,317.1 326.75,317.1 327.0,320.0 327.25,322.9 328.0,322.9 328.25,320.0 329.0,320.0 329.25,325.9 329.5,325.9 329.75,328.8 330.25,328.8 330.5,334.6 331.25,334.6 331.5,337.5 332.0,337.5 332.25,334.6 332.5,331.7 332.75,328.8 333.0,331.7 333.25,322.9 333.5,317.1 333.75,308.4 334.0,305.5 334.25,299.7 334.5,285.1 334.75,282.2 335.0,273.5 335.25,267.7 335.5,253.1 335.75,244.4 336.0,232.8 336.25,232.8 336.5,226.9 336.75,226.9 337.0,224.0 337.25,215.3 337.5,212.4 337.75,215.3 338.0,215.3 338.25,212.4 338.75,212.4 339.0,203.7 339.25,206.6 339.5,203.7 339.75,206.6 340.0,197.8 340.25,203.7 340.5,209.5 340.75,200.7 341.0,212.4 341.25,209.5 341.5,215.3 341.75,224.0 342.0,224.0 342.25,221.1 342.5,221.1 342.75,218.2 343.0,215.3 343.25,215.3 343.5,206.6 343.75,215.3 344.0,203.7 344.25,206.6 344.5,203.7 344.75,200.7 345.0,200.7 345.25,209.5 345.5,212.4 345.75,209.5 346.25,209.5 346.5,200.7 346.75,209.5 347.0,200.7 347.25,206.6 347.5,197.8 347.75,200.7 348.0,197.8 348.25,194.9 348.5,189.1 348.75,194.9 349.0,194.9 349.25,197.8 349.5,192.0 349.75,194.9 350.0,189.1 350.25,192.0 350.5,186.2 350.75,197.8 351.0,192.0 351.25,186.2 351.5,192.0 351.75,194.9 352.0,192.0 352.25,197.8 352.5,192.0 352.75,186.2 353.0,194.9 353.25,206.6 353.5,209.5 354.0,209.5 354.25,221.1 354.5,224.0 354.75,221.1 355.0,224.0 355.25,229.8 355.5,235.7 355.75,238.6 356.0,238.6 356.25,244.4 356.5,235.7 356.75,244.4 357.0,241.5 357.25,244.4 357.5,244.4 357.75,250.2 358.25,250.2 358.5,253.1 358.75,256.0 359.0,256.0 359.25,258.9 359.5,258.9 359.75,261.8 360.0,264.8 360.25,264.8 360.5,267.7 360.75,270.6 361.0,270.6 361.25,273.5 361.5,273.5 361.75,276.4 362.0,276.4 362.25,279.3 362.75,279.3 363.0,282.2 364.5,282.2 364.75,285.1 365.0,282.2 365.25,279.3 365.5,282.2 365.75,279.3 366.75,279.3 367.0,276.4 368.5,276.4 368.75,273.5 370.25,273.5 370.5,270.6 370.75,273.5 371.0,270.6 371.25,270.6 371.5,273.5 371.75,270.6 372.5,270.6 372.75,267.7 373.0,270.6 373.25,273.5 373.5,270.6 373.75,273.5 374.0,270.6 374.25,267.7 374.5,270.6 374.75,273.5 375.0,273.5 375.25,270.6 375.5,273.5 375.75,276.4 376.0,276.4 376.25,273.5 376.5,279.3 376.75,282.2 377.0,285.1 377.25,285.1 377.5,288.0 377.75,288.0 378.0,285.1 378.25,288.0 378.5,285.1 378.75,285.1 379.0,279.3 379.25,285.1 379.5,282.2 380.0,282.2 380.25,279.3 380.5,282.2 380.75,282.2 381.0,285.1 381.25,282.2 381.5,279.3 381.75,279.3 382.0,282.2 382.25,279.3 382.5,279.3 382.75,276.4 383.0,279.3 383.25,279.3 383.5,282.2 384.0,282.2 384.25,290.9 384.75,290.9 385.0,293.9 385.25,296.8 385.5,299.7 385.75,299.7 386.0,302.6 386.25,305.5 386.5,302.6 387.75,302.6 388.0,305.5 388.25,302.6 388.5,299.7 388.75,296.8 389.0,296.8 389.25,293.9 389.5,293.9 389.75,288.0 390.0,288.0 390.25,285.1 390.5,282.2 390.75,279.3 391.25,279.3 391.5,276.4 391.75,276.4 392.0,273.5 393.25,273.5 393.5,270.6 394.25,270.6 394.5,267.7 394.75,264.8 395.0,261.8 395.25,256.0 395.75,256.0 396.0,250.2 396.25,247.3 396.5,247.3 396.75,244.4 397.0,241.5 397.25,238.6 397.5,235.7 397.75,232.8 398.25,232.8 398.5,229.8 398.75,229.8 399.0,232.8 399.25,229.8 399.75,229.8 400.0,226.9 400.5,226.9 400.75,221.1 401.0,218.2 401.25,218.2 401.5,215.3 401.75,212.4 402.0,209.5 402.25,209.5 402.5,200.7 402.75,194.9 403.0,189.1 403.25,186.2 403.5,183.3 403.75,189.1 404.0,200.7 404.25,203.7 404.5,212.4 404.75,218.2 405.0,218.2 405.25,221.1 405.5,224.0 405.75,221.1 406.0,224.0 406.25,221.1 406.5,218.2 406.75,212.4 407.0,212.4 407.25,206.6 407.5,206.6 407.75,197.8 408.0,203.7 408.25,197.8 408.75,197.8 409.0,194.9 409.25,192.0 409.75,192.0 410.0,197.8 410.25,200.7 410.5,200.7 410.75,203.7 411.0,203.7 411.25,206.6 411.5,209.5 411.75,209.5 412.0,212.4 412.25,218.2 412.75,218.2 413.0,212.4 413.25,218.2 414.25,218.2 414.5,221.1 415.25,221.1 415.5,224.0 416.0,224.0 416.25,226.9 416.5,224.0 416.75,226.9 417.0,224.0 418.0,224.0 418.25,221.1 418.5,224.0 418.75,221.1 419.5,221.1 419.75,218.2 420.75,218.2 421.0,215.3 422.25,215.3 422.5,212.4 422.75,215.3 425.0,215.3 425.25,218.2 425.5,218.2 425.75,221.1 426.25,221.1 426.5,224.0 427.0,224.0 427.25,226.9 428.25,226.9 428.5,224.0 428.75,226.9 430.0,226.9 430.25,229.8 435.0,229.8 435.25,232.8 435.5,229.8 435.75,232.8 436.0,229.8 436.5,229.8 436.75,232.8 437.75,232.8 438.0,229.8 438.25,232.8 439.5,232.8 439.75,235.7 440.75,235.7 441.0,232.8 441.5,232.8 441.75,229.8 442.5,229.8 442.75,226.9 444.25,226.9 444.5,224.0 445.25,224.0 445.5,226.9 446.0,226.9 446.25,224.0 447.0,224.0 447.25,221.1 447.5,221.1 447.75,218.2 448.0,218.2 448.25,215.3 448.5,212.4 449.0,212.4 449.25,215.3 449.5,206.6 449.75,209.5 450.0,200.7 450.25,203.7 450.5,197.8 450.75,194.9 451.0,197.8 451.25,194.9 451.5,192.0 451.75,183.3 452.0,177.5 452.25,177.5 452.5,180.4 452.75,171.7 453.0,180.4 453.25,165.8 453.5,171.7 453.75,177.5 454.0,154.2 454.25,160.0 454.5,168.7 454.75,162.9 455.0,162.9 455.25,160.0 455.5,165.8 455.75,160.0 456.0,154.2 456.25,154.2 456.5,148.4 456.75,151.3 457.0,139.6 457.25,151.3 457.5,145.5 457.75,154.2 458.0,151.3 458.25,139.6 458.5,148.4 458.75,142.6 459.0,142.6 459.25,145.5 459.5,142.6 460.0,142.6 460.25,136.7 460.5,136.7 460.75,139.6 461.0,139.6 461.25,133.8 461.5,133.8 461.75,128.0 462.0,125.1 462.25,125.1 462.5,128.0 462.75,128.0 463.0,130.9 463.25,133.8 463.5,136.7 463.75,136.7 464.0,139.6 464.25,133.8 464.5,139.6 464.75,139.6 465.0,142.6 465.25,130.9 465.5,136.7 465.75,130.9 466.0,136.7 466.25,133.8 466.5,142.6 466.75,139.6 467.0,136.7 467.25,151.3 467.5,142.6 467.75,142.6 468.0,148.4 468.25,151.3 468.5,151.3 468.75,162.9 469.0,162.9 469.25,168.7 469.5,171.7 470.5,171.7 470.75,174.6 471.0,171.7 471.25,174.6 471.5,174.6 471.75,177.5 472.5,177.5 472.75,180.4 473.0,177.5 473.25,177.5 473.5,183.3 474.0,183.3 474.25,186.2 474.5,183.3 474.75,194.9 475.0,192.0 475.25,186.2 475.5,194.9 475.75,197.8 476.0,197.8 476.25,203.7 476.5,194.9 476.75,206.6 477.0,200.7 477.25,209.5 477.5,203.7 477.75,206.6 478.0,212.4 478.25,206.6 478.5,212.4 478.75,212.4 479.0,203.7 479.25,212.4 479.5,212.4 479.75,203.7 480.0,209.5 480.25,203.7 480.5,209.5 480.75,212.4 481.0,209.5 481.25,203.7 481.5,203.7 481.75,209.5 482.5,209.5 482.75,203.7 483.0,206.6 483.25,212.4 483.5,209.5 483.75,203.7 484.0,203.7 484.25,206.6 484.5,209.5 484.75,203.7 485.0,209.5 485.25,209.5 485.5,200.7 485.75,206.6 486.0,200.7 486.25,197.8 486.5,200.7 486.75,200.7 487.0,194.9 487.25,197.8 487.5,200.7 487.75,197.8 488.0,197.8 488.25,203.7 488.5,197.8 488.75,197.8 489.0,203.7 489.25,197.8 489.75,197.8 490.0,200.7 490.25,197.8 490.5,194.9 490.75,194.9 491.0,200.7 491.25,194.9 491.5,200.7 491.75,197.8 492.0,194.9 492.25,200.7 492.5,200.7 492.75,194.9 493.0,203.7 493.25,203.7 493.5,200.7 493.75,197.8 494.0,206.6 494.25,206.6 494.5,203.7 494.75,203.7 495.0,200.7 495.25,197.8 495.5,192.0 495.75,197.8 496.0,192.0 496.25,192.0 496.5,194.9 496.75,192.0 497.0,186.2 497.25,189.1 497.5,192.0 497.75,189.1 498.0,192.0 498.25,186.2 498.5,186.2 498.75,192.0 499.0,189.1 499.25,186.2 499.5,192.0 499.75,189.1 500.0,194.9 500.25,192.0 500.5,192.0 500.75,189.1 501.0,192.0 502.5,192.0 502.75,194.9 503.0,189.1 503.25,192.0 503.5,192.0 503.75,194.9 504.0,194.9 504.25,192.0 504.5,194.9 504.75,194.9 505.0,186.2 505.5,186.2 505.75,180.4 506.0,177.5 506.25,174.6 506.5,177.5 506.75,174.6 507.0,168.7 508.0,168.7 508.25,165.8 508.5,160.0 508.75,168.7 509.0,157.1 509.25,157.1 509.5,160.0 509.75,154.2 510.0,162.9 510.25,160.0 510.5,157.1 510.75,151.3 511.25,151.3 511.5,148.4 511.75,157.1 512.0,148.4 512.25,157.1 512.75,157.1 513.0,160.0 513.25,162.9 513.5,162.9 513.75,160.0 514.0,157.1 514.25,157.1 514.5,162.9 515.0,162.9 515.25,157.1 515.5,162.9 515.75,151.3 516.0,157.1 516.25,157.1 516.5,154.2 516.75,148.4 517.0,151.3 517.25,145.5 517.5,148.4 517.75,145.5 518.0,145.5 518.25,148.4 518.5,145.5 518.75,148.4 519.0,148.4 519.25,151.3 519.5,151.3 519.75,145.5 520.0,154.2 520.25,148.4 520.75,148.4 521.0,160.0 521.25,151.3 521.5,148.4 521.75,154.2 522.0,151.3 522.25,162.9 522.5,151.3 522.75,157.1 523.0,154.2 523.25,168.7 523.5,162.9 523.75,168.7 524.0,168.7 524.25,177.5 524.5,177.5 524.75,168.7 525.0,183.3 525.25,186.2 525.5,186.2 525.75,192.0 526.0,186.2 526.25,186.2 526.5,197.8 526.75,203.7 527.0,194.9 527.25,200.7 527.5,200.7 527.75,203.7 528.0,209.5 528.25,209.5 528.5,212.4 528.75,215.3 529.0,212.4 529.25,218.2 529.5,212.4 529.75,218.2 530.0,221.1 530.25,218.2 530.5,218.2 530.75,221.1 531.0,224.0 531.25,224.0 531.5,221.1 531.75,226.9 532.0,229.8 532.25,224.0 532.5,226.9 533.25,226.9 533.5,224.0 533.75,224.0 534.0,221.1 534.25,221.1 534.5,224.0 534.75,221.1 535.0,221.1 535.25,224.0 535.5,224.0 535.75,226.9 536.0,229.8 536.25,226.9 536.5,232.8 536.75,235.7 537.0,232.8 537.25,238.6 537.5,238.6 537.75,241.5 538.0,244.4 538.75,244.4 539.0,250.2 539.25,247.3 539.5,253.1 539.75,253.1 540.0,244.4 540.25,241.5 540.5,238.6 540.75,229.8 541.0,232.8 541.25,229.8 541.5,229.8 541.75,224.0 542.0,226.9 542.25,224.0 542.5,226.9 542.75,224.0 543.0,226.9 543.25,226.9 543.5,224.0 543.75,226.9 544.0,226.9 544.25,224.0 544.5,226.9 544.75,229.8 545.0,229.8 545.25,232.8 545.75,232.8 546.0,238.6 546.25,241.5 546.5,241.5 546.75,244.4 547.0,247.3 547.25,244.4 547.5,250.2 548.0,250.2 548.25,253.1 549.0,253.1 549.25,256.0 549.5,256.0 549.75,258.9 550.25,258.9 550.5,261.8 551.25,261.8 551.5,264.8 551.75,264.8 552.0,267.7 552.75,267.7 553.0,270.6 553.25,270.6 553.5,273.5 553.75,273.5 554.0,276.4 554.25,279.3 554.5,279.3 554.75,282.2 555.0,282.2 555.25,285.1 555.5,282.2 555.75,285.1 556.0,288.0 556.25,285.1 556.5,285.1 556.75,279.3 557.25,279.3 557.5,276.4 557.75,273.5 558.0,270.6 558.25,270.6 558.5,267.7 558.75,267.7 559.0,264.8 559.25,261.8 559.5,258.9 559.75,258.9 560.0,256.0 560.25,253.1 560.5,253.1 560.75,247.3 561.0,244.4 561.25,247.3 561.5,235.7 561.75,232.8 562.0,229.8 562.25,226.9 562.5,218.2 562.75,215.3 563.0,209.5 563.25,206.6 563.5,206.6 563.75,200.7 564.0,197.8 564.25,194.9 564.5,194.9 564.75,192.0 565.0,186.2 565.25,189.1 565.5,186.2 566.5,186.2 566.75,183.3 567.0,186.2 567.25,186.2 567.5,189.1 567.75,186.2 568.0,189.1 568.25,189.1 568.5,192.0 568.75,189.1 569.0,192.0 569.25,194.9 569.5,192.0 569.75,192.0 570.0,189.1 570.25,189.1 570.5,183.3 570.75,189.1 571.0,183.3 571.25,186.2 571.5,177.5 571.75,180.4 572.0,177.5 572.25,174.6 572.5,174.6 572.75,177.5 573.0,174.6 573.25,177.5 573.5,171.7 574.75,171.7 575.0,168.7 575.25,165.8 575.5,174.6 575.75,171.7 576.25,171.7 576.5,174.6 576.75,174.6 577.0,177.5 577.25,174.6 577.5,177.5 577.75,180.4 578.0,180.4 578.25,183.3 578.5,186.2 578.75,183.3 579.0,186.2 579.75,186.2 580.0,192.0 580.75,192.0 581.0,194.9 581.25,197.8 581.5,197.8 581.75,200.7 582.25,200.7 582.5,203.7 583.0,203.7 583.25,206.6 584.0,206.6 584.25,209.5 584.5,209.5 584.75,212.4 585.0,209.5 585.25,212.4 585.5,215.3 586.5,215.3 586.75,218.2 587.25,218.2 587.5,221.1 588.0,221.1 588.25,218.2 588.5,221.1 588.75,224.0 590.0,224.0 590.25,226.9 591.0,226.9 591.25,229.8 592.25,229.8 592.5,232.8 592.75,229.8 593.5,229.8 593.75,232.8 594.0,229.8 594.25,229.8 594.5,232.8 595.25,232.8 595.5,229.8 595.75,232.8 598.75,232.8 599.0,235.7 599.25,232.8 600.75,232.8 601.0,235.7 601.25,235.7 601.5,232.8 601.75,235.7 602.0,235.7 602.25,232.8 602.5,235.7 604.0,235.7 604.25,238.6 606.0,238.6 606.25,241.5 607.0,241.5 607.25,244.4 607.5,241.5 608.0,241.5 608.25,238.6 608.5,238.6 608.75,235.7 609.0,238.6 609.25,235.7 610.0,235.7 610.25,232.8 610.5,232.8 610.75,235.7 611.0,235.7 611.25,232.8 612.5,232.8 612.75,229.8 613.0,232.8 613.25,232.8 613.5,229.8 613.75,232.8 614.0,229.8 614.25,232.8 614.5,232.8 614.75,229.8 615.0,226.9 615.25,226.9 615.5,224.0 615.75,221.1 616.0,221.1 616.25,218.2 616.5,215.3 616.75,212.4 617.0,206.6 617.25,206.6 617.5,200.7 618.25,200.7 618.5,197.8 618.75,194.9 619.5,194.9 619.75,197.8 620.25,197.8 620.5,194.9 621.0,194.9 621.25,192.0 621.5,192.0 621.75,197.8 622.0,192.0 622.25,192.0 622.5,189.1 622.75,183.3 623.0,189.1 623.25,186.2 623.5,186.2 623.75,183.3 624.0,183.3 624.25,180.4 624.5,183.3 624.75,177.5 625.0,180.4 625.25,180.4 625.5,177.5 625.75,177.5 626.0,180.4 626.25,177.5 626.75,177.5 627.0,174.6 627.25,177.5 627.5,174.6 628.0,174.6 628.25,171.7 629.25,171.7 629.5,168.7 629.75,174.6 630.0,168.7 630.75,168.7 631.0,171.7 631.25,168.7 631.5,168.7 631.75,165.8 632.0,168.7 632.25,162.9 632.5,165.8 634.0,165.8 634.25,168.7 634.5,171.7 634.75,168.7 635.0,171.7 635.25,168.7 635.5,165.8 635.75,168.7 636.0,171.7 636.25,171.7 636.5,174.6 636.75,174.6 637.0,171.7 637.25,174.6 637.5,177.5 637.75,180.4 638.0,183.3 638.25,183.3 638.5,189.1 638.75,192.0 639.0,197.8 639.25,197.8 639.5,206.6 639.75,209.5 640.5,209.5 640.75,203.7 641.0,209.5 641.25,206.6 641.75,206.6 642.0,203.7 642.25,200.7 642.5,200.7 642.75,194.9 643.0,197.8 643.25,192.0 643.5,189.1 644.25,189.1 644.5,186.2 645.25,186.2 645.5,183.3 645.75,180.4 646.75,180.4 647.0,177.5 647.25,177.5 647.5,174.6 648.0,174.6 648.25,177.5 648.5,174.6 648.75,177.5 649.5,177.5 649.75,180.4 650.5,180.4 650.75,177.5 651.0,180.4 651.75,180.4 652.0,183.3 652.25,180.4 652.5,180.4 652.75,183.3 653.25,183.3 653.5,180.4 653.75,183.3 654.75,183.3 655.0,186.2 655.25,186.2 655.5,189.1 655.75,189.1 656.0,186.2 656.25,186.2 656.5,192.0 656.75,192.0 657.0,194.9 657.25,194.9 657.5,197.8 657.75,200.7 658.25,200.7 658.5,203.7 658.75,206.6 659.0,203.7 659.25,206.6 659.75,206.6 660.0,209.5 661.75,209.5 662.0,212.4 662.5,212.4 662.75,209.5 663.0,212.4 663.25,212.4 663.5,209.5 663.75,212.4 664.0,212.4 664.25,209.5 664.5,209.5 664.75,212.4 665.0,212.4 665.25,215.3 665.5,212.4 665.75,212.4 666.0,215.3 667.5,215.3 667.75,218.2 668.0,215.3 668.25,218.2 668.5,215.3 669.0,215.3 669.25,218.2 670.5,218.2 670.75,212.4 671.0,215.3 671.25,212.4 672.0,212.4 672.25,209.5 672.5,209.5 672.75,206.6 673.0,209.5 673.25,206.6 673.5,200.7 673.75,203.7 674.0,200.7 674.25,197.8 674.5,197.8 674.75,194.9 675.0,194.9 675.25,189.1 675.5,192.0 675.75,189.1 676.5,189.1 676.75,183.3 677.5,183.3 677.75,180.4 678.0,177.5 678.25,177.5 678.5,174.6 678.75,171.7 679.0,168.7 679.25,171.7 679.75,171.7 680.0,174.6 680.25,171.7 680.5,168.7 681.75,168.7 682.0,165.8 682.25,171.7 682.5,168.7 682.75,171.7 683.0,165.8 683.5,165.8 683.75,168.7 684.0,165.8 684.5,165.8 684.75,162.9 685.25,162.9 685.5,160.0 685.75,162.9 686.0,162.9 686.25,160.0 687.75,160.0 688.0,157.1 688.25,160.0 688.5,157.1 688.75,157.1 689.0,160.0 689.75,160.0 690.0,162.9 690.25,160.0 690.5,162.9 691.25,162.9 691.5,165.8 692.0,165.8 692.25,168.7 692.5,168.7 692.75,171.7 693.25,171.7 693.5,174.6 694.25,174.6 694.5,177.5 694.75,180.4 695.0,180.4 695.25,183.3 696.0,183.3 696.25,186.2 697.0,186.2 697.25,189.1 697.5,189.1 697.75,192.0 699.0,192.0 699.25,194.9 700.0,194.9 700.25,197.8 701.25,197.8 701.5,200.7 704.25,200.7 704.5,203.7 705.0,203.7 705.25,206.6 705.5,206.6 705.75,209.5 706.0,209.5 706.25,212.4 706.75,212.4 707.0,215.3 707.75,215.3 708.0,218.2 708.25,221.1 708.5,224.0 708.75,224.0 709.0,226.9 709.25,229.8 709.5,232.8 709.75,235.7 710.0,238.6 710.25,241.5 710.5,244.4 710.75,247.3 711.0,250.2 711.25,253.1 711.5,256.0 711.75,258.9 712.0,258.9 712.25,261.8 712.5,264.8 712.75,267.7 713.0,267.7 713.25,270.6 713.5,270.6 713.75,273.5 714.0,276.4 714.5,276.4 714.75,273.5 715.0,267.7 715.25,264.8 715.5,261.8 716.0,261.8 716.25,256.0 716.5,256.0 716.75,253.1 717.0,256.0 717.25,256.0 717.5,253.1 717.75,256.0 718.5,256.0 718.75,253.1 719.0,256.0 719.25,253.1 719.5,256.0 719.75,253.1 721.5,253.1 721.75,256.0 722.0,253.1 723.5,253.1 723.75,250.2 724.5,250.2 724.75,247.3 725.25,247.3 725.5,244.4 725.75,244.4 726.0,241.5 726.25,241.5 726.5,238.6 727.25,238.6 727.5,235.7 728.0,235.7 728.25,232.8 728.75,232.8 729.0,226.9 729.25,229.8 729.5,229.8 729.75,226.9 730.0,224.0 730.25,221.1 730.5,218.2 730.75,215.3 731.0,209.5 731.25,209.5 731.5,203.7 731.75,203.7 732.0,200.7 732.25,197.8 732.5,197.8 732.75,192.0 733.0,194.9 733.25,194.9 733.5,192.0 734.0,192.0 734.25,194.9 734.5,186.2 734.75,186.2 735.0,183.3 735.25,183.3 735.5,180.4 735.75,183.3 736.0,180.4 736.25,180.4 736.5,177.5 736.75,174.6 737.0,177.5 737.25,180.4 737.5,177.5 737.75,180.4 738.0,183.3 738.25,180.4 738.5,180.4 738.75,183.3 739.0,180.4 739.25,177.5 739.5,180.4 739.75,177.5 740.25,177.5 740.5,180.4 741.0,180.4 741.25,177.5 741.5,180.4 741.75,183.3 742.0,180.4 742.5,180.4 742.75,183.3 743.5,183.3 743.75,186.2 744.25,186.2 744.5,189.1 744.75,186.2 745.0,189.1 745.5,189.1 745.75,192.0 746.0,189.1 746.25,189.1 746.5,192.0 746.75,189.1 747.0,194.9 747.25,194.9 747.5,192.0 748.0,192.0 748.25,194.9 748.5,197.8 749.0,197.8 749.25,200.7 749.5,197.8 749.75,200.7 750.5,200.7 750.75,203.7 751.0,203.7 751.25,206.6 752.5,206.6 752.75,209.5 753.0,209.5 753.25,206.6 753.5,209.5 755.0,209.5 755.25,206.6 756.25,206.6 756.5,203.7 757.5,203.7 757.75,200.7 758.5,200.7 758.75,197.8 759.25,197.8 759.5,200.7 760.25,200.7 760.5,203.7 761.25,203.7 761.5,206.6 762.5,206.6 762.75,209.5 763.0,209.5 763.25,212.4 764.0,212.4 764.25,215.3 764.5,218.2 766.0,218.2 766.25,215.3 766.5,218.2 766.75,218.2 767.0,221.1 767.5,221.1 767.75,224.0 768.0,218.2 768.25,224.0 768.5,224.0 768.75,229.8 769.0,226.9 769.25,232.8 770.0,232.8 770.25,238.6 770.5,235.7 770.75,241.5 771.0,238.6 771.5,238.6 771.75,241.5 772.0,238.6 773.0,238.6 773.25,235.7 773.5,232.8 774.0,232.8 774.25,229.8 774.5,226.9 774.75,229.8 775.25,229.8 775.5,232.8 775.75,235.7 776.0,238.6 776.25,241.5 777.0,241.5 777.25,244.4 778.0,244.4 778.25,247.3 779.0,247.3 779.25,250.2 779.75,250.2 780.0,253.1 781.0,253.1 781.25,256.0 781.5,258.9 781.75,258.9 782.0,256.0 782.25,261.8 782.5,258.9 782.75,256.0 783.0,253.1 783.25,256.0 783.5,250.2 783.75,253.1 784.0,250.2 784.25,250.2 784.5,247.3 785.0,247.3 785.25,244.4 785.5,247.3 785.75,247.3 786.0,244.4 786.25,244.4 786.5,241.5 786.75,244.4 787.0,241.5 787.25,241.5 787.5,238.6 787.75,241.5 788.0,235.7 788.25,235.7 788.5,238.6 788.75,235.7 789.0,229.8 789.25,232.8 789.5,229.8 789.75,226.9 790.0,226.9 790.25,224.0 790.5,221.1 790.75,218.2 791.0,215.3 791.25,212.4 791.5,206.6 791.75,200.7 792.0,194.9 792.25,192.0 792.5,189.1 792.75,183.3 793.0,183.3 793.25,174.6 793.5,168.7 794.0,168.7 794.25,160.0 794.5,162.9 794.75,154.2 795.0,151.3 795.25,133.8 795.5,139.6 795.75,142.6 796.0,139.6 796.25,133.8 796.5,136.7 796.75,128.0 797.0,128.0 797.25,119.3 797.5,122.2 798.25,122.2 798.5,116.4 798.75,116.4 799.0,110.6 799.25,116.4 799.5,107.6 799.75,110.6 800.0,110.6 800.25,119.3 800.5,116.4 800.75,107.6 801.0,107.6 801.25,110.6 801.5,110.6 801.75,116.4 802.0,119.3 802.25,122.2 802.5,119.3 802.75,128.0 803.0,133.8 803.25,139.6 803.5,142.6 803.75,148.4 804.0,160.0 804.25,154.2 804.5,165.8 804.75,174.6 805.0,180.4 805.25,197.8 805.5,209.5 805.75,221.1 806.0,232.8 806.25,244.4 806.5,256.0 806.75,267.7 807.0,282.2 807.25,293.9 807.5,305.5 807.75,320.0 808.0,331.7 808.25,340.4 808.5,346.2 808.75,355.0 809.0,357.9 809.25,360.8 809.5,366.6 809.75,366.6 810.0,369.5 810.25,372.4 810.5,375.3 810.75,378.2 811.0,384.0 811.25,387.0 811.5,389.9 811.75,392.8 812.0,392.8 812.25,398.6 812.75,398.6 813.0,401.5 813.5,401.5 813.75,404.4 814.0,401.5 814.25,410.2 814.5,410.2 814.75,416.1 815.0,419.0 815.25,424.8 815.5,427.7 815.75,430.6 816.0,433.5 816.25,436.4 816.5,433.5 816.75,433.5 817.0,436.4 817.75,436.4 818.0,433.5 818.25,439.3 818.5,442.2 818.75,445.1 819.0,448.1 819.25,453.9 819.5,456.8 819.75,462.6 820.0,465.5 820.25,468.4 820.5,471.3 820.75,474.2 821.0,474.2 821.25,477.2 821.5,480.1 821.75,480.1 822.0,483.0 822.25,483.0 822.5,485.9 822.75,485.9 823.0,488.8 823.25,491.7 823.5,491.7 823.75,494.6 824.25,494.6 824.5,497.5 824.75,500.4 825.0,497.5 825.25,500.4 825.5,500.4 825.75,503.3 826.0,503.3 826.25,506.2 826.5,503.3 826.75,503.3 827.0,500.4 827.25,497.5 827.5,494.6 827.75,488.8 828.0,483.0 828.25,480.1 828.5,474.2 828.75,471.3 829.0,462.6 829.25,459.7 829.5,451.0 829.75,439.3 830.0,427.7 830.25,416.1 830.5,407.3 830.75,398.6 831.0,392.8 831.25,384.0 831.5,375.3 831.75,369.5 832.0,363.7 832.25,352.0 832.5,340.4 832.75,328.8 833.0,317.1 833.5,317.1 833.75,314.2 834.25,314.2 834.5,311.3 835.25,311.3 835.5,308.4 835.75,305.5 836.25,305.5 836.5,302.6 836.75,299.7 837.0,302.6 837.25,299.7 837.5,296.8 837.75,296.8 838.0,293.9 838.25,290.9 838.5,290.9 838.75,288.0 839.0,288.0 839.25,282.2 839.5,285.1 839.75,282.2 840.0,279.3 840.25,279.3 840.5,276.4 840.75,279.3 841.0,276.4 841.25,279.3 842.0,279.3 842.25,276.4 842.75,276.4 843.0,273.5 843.5,273.5 843.75,270.6 844.0,270.6 844.25,267.7 844.5,267.7 844.75,264.8 845.0,261.8 845.25,258.9 845.5,256.0 845.75,253.1 846.0,253.1 846.25,250.2 846.5,247.3 846.75,247.3 847.0,244.4 847.25,244.4 847.5,241.5 848.0,241.5 848.25,238.6 848.5,238.6 848.75,235.7 849.0,235.7 849.25,232.8 849.5,229.8 849.75,229.8 850.0,226.9 850.25,226.9 850.5,224.0 850.75,224.0 851.0,221.1 851.5,221.1 851.75,218.2 852.25,218.2 852.5,215.3 852.75,215.3 853.0,218.2 853.75,218.2 854.0,221.1 854.25,224.0 854.5,226.9 854.75,232.8 855.0,235.7 855.25,238.6 855.5,238.6 855.75,235.7 856.0,232.8 856.25,232.8 856.5,226.9 856.75,221.1 857.0,215.3 857.25,212.4 857.5,206.6 857.75,203.7 858.0,200.7 859.25,200.7 859.5,203.7 860.0,203.7 860.25,206.6 860.5,209.5 860.75,212.4 861.0,215.3 861.25,221.1 861.5,221.1 861.75,229.8 862.0,235.7 862.25,241.5 862.5,250.2 862.75,253.1 863.0,256.0 863.25,256.0 863.5,261.8 863.75,261.8 864.0,267.7 864.25,267.7 864.5,270.6 864.75,270.6 865.0,273.5 866.5,273.5 866.75,270.6 867.25,270.6 867.5,273.5 867.75,270.6 869.75,270.6 870.0,267.7 872.5,267.7 872.75,264.8 875.5,264.8 875.75,261.8 876.25,261.8 876.5,264.8 876.75,264.8 877.0,261.8 877.75,261.8 878.0,264.8 878.5,264.8 878.75,261.8 879.0,264.8 879.25,261.8 879.5,264.8 881.0,264.8 881.25,267.7 881.5,264.8 881.75,264.8 882.0,267.7 882.25,264.8 882.5,267.7 884.5,267.7 884.75,270.6 886.25,270.6 886.5,273.5 887.75,273.5 888.0,276.4 888.25,276.4 888.5,273.5 888.75,276.4 889.0,276.4 889.25,279.3 890.75,279.3 891.0,282.2 891.25,279.3 893.0,279.3 893.25,276.4 894.0,276.4 894.25,273.5 895.0,273.5 895.25,270.6 895.75,270.6 896.0,267.7 896.25,276.4 896.5,264.8 896.75,261.8 897.0,258.9 897.25,261.8 897.5,247.3 897.75,253.1 898.0,250.2 898.25,244.4 898.5,232.8 898.75,224.0 899.0,218.2 899.25,215.3 899.5,218.2 899.75,215.3 900.0,215.3 900.25,212.4 900.5,218.2 900.75,206.6 901.0,203.7 901.25,206.6 901.5,197.8 901.75,200.7 902.0,197.8 902.25,192.0 902.5,180.4 902.75,180.4 903.0,183.3 903.25,174.6 903.5,171.7 903.75,157.1 904.0,151.3 904.25,165.8 904.5,171.7 904.75,183.3 905.0,186.2 905.25,189.1 905.5,183.3 905.75,186.2 906.0,186.2 906.25,189.1 906.5,180.4 906.75,186.2 907.0,189.1 907.25,180.4 907.5,177.5 907.75,180.4 908.0,189.1 908.25,183.3 908.5,177.5 908.75,180.4 909.0,177.5 909.25,189.1 909.5,180.4 909.75,189.1 910.0,183.3 910.25,189.1 910.5,186.2 910.75,192.0 911.0,197.8 911.25,197.8 911.5,194.9 911.75,197.8 912.0,189.1 912.25,189.1 912.5,194.9 912.75,200.7 913.0,197.8 913.25,200.7 913.5,194.9 913.75,197.8 914.0,197.8 914.25,203.7 914.5,212.4 914.75,209.5 915.0,212.4 915.25,209.5 915.5,212.4 915.75,218.2 916.0,218.2 916.25,212.4 916.5,224.0 917.25,224.0 917.5,226.9 918.0,226.9 918.25,229.8 918.5,229.8 918.75,232.8 919.25,232.8 919.5,235.7 919.75,235.7 920.0,238.6 920.25,241.5 920.5,241.5 920.75,244.4 921.0,247.3 921.25,247.3 921.5,253.1 921.75,253.1 922.0,256.0 922.25,261.8 922.5,264.8 922.75,267.7 923.0,270.6 923.25,273.5 923.5,276.4 923.75,276.4 924.0,279.3 924.25,282.2 924.5,276.4 924.75,276.4 925.0,273.5 925.25,270.6 925.75,270.6 926.0,267.7 926.25,270.6 926.5,267.7 926.75,267.7 927.0,270.6 927.25,267.7 927.75,267.7 928.0,270.6 928.5,270.6 928.75,273.5 929.0,276.4 930.0,276.4 930.25,279.3 930.5,279.3 930.75,282.2 931.0,285.1 932.0,285.1 932.25,288.0 932.5,285.1 932.75,285.1 933.0,288.0 934.0,288.0 934.25,290.9 936.0,290.9 936.25,288.0 936.5,290.9 936.75,290.9 937.0,293.9 937.25,293.9 937.5,296.8 938.25,296.8 938.5,302.6 938.75,299.7 939.0,302.6 939.25,299.7 939.5,305.5 939.75,305.5 940.0,308.4 940.25,305.5 940.5,311.3 940.75,311.3 941.0,314.2 941.25,317.1 941.5,314.2 941.75,314.2 942.0,317.1 942.25,320.0 942.5,325.9 942.75,328.8 943.0,331.7 943.25,334.6 943.5,334.6 943.75,340.4 944.0,343.3 944.25,340.4 944.5,337.5 944.75,331.7 945.0,331.7 945.25,328.8 945.5,328.8 945.75,325.9 946.0,322.9 946.25,325.9 946.5,322.9 947.0,322.9 947.25,320.0 947.5,320.0 947.75,317.1 948.25,317.1 948.5,311.3 948.75,311.3 949.0,308.4 949.25,308.4 949.5,305.5 949.75,302.6 950.25,302.6 950.5,299.7 950.75,299.7 951.0,296.8 951.5,296.8 951.75,293.9 952.0,290.9 952.25,290.9 952.5,288.0 952.75,285.1 953.0,285.1 953.25,282.2 953.5,282.2 953.75,279.3 954.0,279.3 954.25,276.4 954.5,276.4 954.75,273.5 955.0,273.5 955.25,270.6 955.5,267.7 955.75,267.7 956.0,264.8 956.25,261.8 956.5,258.9 956.75,258.9 957.0,250.2 957.75,250.2 958.0,241.5 958.25,238.6 958.5,235.7 958.75,238.6 959.0,238.6 959.25,229.8 959.5,226.9 959.75,224.0 960.0,232.8 960.25,221.1 960.5,226.9 960.75,221.1 961.0,221.1 961.25,224.0 961.5,221.1 961.75,226.9 962.0,221.1 962.25,224.0 962.5,215.3 962.75,215.3 963.0,209.5 963.25,212.4 963.5,215.3 963.75,209.5 964.0,212.4 964.25,209.5 964.5,209.5 964.75,218.2 965.0,215.3 965.25,218.2 965.5,221.1 965.75,218.2 966.0,221.1 966.25,235.7 966.5,241.5 966.75,253.1 967.0,247.3 967.25,247.3 967.5,253.1 967.75,247.3 968.0,247.3 968.25,250.2 968.5,244.4 968.75,241.5 969.0,229.8 969.25,235.7 969.5,229.8 969.75,226.9 970.0,229.8 970.25,229.8 970.5,232.8 970.75,238.6 971.0,235.7 971.25,235.7 971.5,244.4 971.75,241.5 972.0,238.6 972.25,241.5 972.5,253.1 972.75,250.2 973.0,253.1 973.25,244.4 973.5,250.2 973.75,253.1 974.0,261.8 974.25,264.8 974.5,261.8 974.75,261.8 975.0,267.7 975.25,264.8 975.5,264.8 975.75,267.7 976.0,273.5 976.25,273.5 976.5,270.6 976.75,270.6 977.0,273.5 977.5,273.5 977.75,267.7 978.0,273.5 978.25,270.6 978.5,273.5 978.75,273.5 979.0,267.7 979.25,270.6 979.5,270.6 979.75,267.7 980.0,258.9 980.25,261.8 980.5,261.8 980.75,258.9 981.25,258.9 981.5,256.0 981.75,253.1 982.0,256.0 982.25,258.9 982.5,261.8 982.75,264.8 983.0,267.7 983.25,270.6 983.5,273.5 983.75,276.4 984.0,279.3 984.25,282.2 984.5,285.1 985.0,285.1 985.25,282.2 985.5,285.1 985.75,282.2 986.0,279.3 986.75,279.3 987.0,276.4 988.0,276.4 988.25,273.5 989.5,273.5 989.75,270.6 990.0,270.6 990.25,273.5 990.5,270.6 991.5,270.6 991.75,273.5 993.0,273.5 993.25,276.4 993.75,276.4 994.0,279.3 994.25,279.3 994.5,282.2 994.75,282.2 995.0,279.3 995.25,282.2 996.5,282.2 996.75,285.1 997.5,285.1 997.75,288.0 999.0,288.0 999.25,290.9 1000.0,290.9 1000.25,293.9 1000.5,296.8 1001.0,296.8 1001.25,299.7 1001.5,296.8 1001.75,299.7 1003.0,299.7 1003.25,296.8 1003.5,299.7 1004.0,299.7 1004.25,302.6 1004.5,299.7 1004.75,302.6 1005.5,302.6 1005.75,305.5 1006.0,299.7 1006.25,305.5 1006.5,296.8 1006.75,302.6 1007.0,305.5 1007.25,296.8 1007.5,290.9 1007.75,285.1 1008.0,282.2 1008.25,285.1 1008.5,288.0 1008.75,285.1 1009.0,282.2 1009.25,282.2 1009.5,276.4 1009.75,282.2 1010.0,270.6 1010.25,270.6 1010.5,261.8 1010.75,264.8 1011.0,267.7 1011.25,261.8 1011.5,270.6 1011.75,267.7 1012.0,276.4 1012.25,261.8 1012.5,267.7 1012.75,276.4 1013.0,273.5 1013.25,273.5 1013.5,276.4 1013.75,279.3 1014.0,279.3 1014.25,276.4 1014.5,270.6 1014.75,261.8 1015.0,267.7 1015.25,267.7 1015.5,256.0 1015.75,261.8 1016.0,253.1 1016.25,256.0 1016.5,250.2 1016.75,247.3 1017.0,250.2 1017.25,247.3 1017.5,253.1 1017.75,250.2 1018.0,244.4 1018.25,241.5 1018.75,241.5 1019.0,247.3 1019.25,250.2 1019.5,247.3 1019.75,253.1 1020.0,256.0 1020.25,261.8 1020.5,253.1 1020.75,264.8 1021.0,258.9 1021.25,270.6 1021.5,261.8 1021.75,273.5 1022.0,267.7 1022.25,279.3 1022.5,273.5 1022.75,267.7 1023.0,273.5 1023.25,267.7 1023.5,273.5 1023.75,285.1 1024.0,276.4 1024.25,282.2 1024.5,290.9 1024.75,285.1 1025.0,290.9 1025.25,293.9 1025.5,288.0 1025.75,288.0 1026.0,273.5 1026.25,288.0 1026.5,276.4 1026.75,273.5 1027.0,282.2 1027.25,279.3 1027.5,270.6 1027.75,273.5 1028.0,267.7 1028.25,267.7 1028.5,273.5 1028.75,279.3 1029.0,288.0 1029.25,279.3 1029.5,285.1 1029.75,282.2 1030.0,282.2 1030.25,290.9 1030.5,279.3 1030.75,282.2 1031.0,285.1 1031.25,293.9 1031.5,290.9 1032.0,290.9 1032.25,293.9 1032.5,288.0 1033.0,288.0 1033.25,290.9 1033.75,290.9 1034.0,293.9 1034.25,290.9 1035.0,290.9 1035.25,293.9 1035.5,293.9 1035.75,290.9 1036.0,293.9 1037.0,293.9 1037.25,296.8 1037.5,296.8 1037.75,299.7 1038.0,299.7 1038.25,302.6 1038.5,305.5 1038.75,308.4 1039.0,311.3 1039.25,314.2 1039.5,317.1 1039.75,320.0 1040.0,322.9 1040.25,325.9 1040.5,328.8 1040.75,331.7 1041.0,331.7 1041.25,337.5 1041.5,337.5 1041.75,340.4 1042.0,343.3 1042.25,343.3 1042.5,346.2 1042.75,346.2 1043.0,349.1 1043.25,352.0 1043.5,352.0 1043.75,355.0 1044.0,357.9 1044.25,360.8 1044.75,360.8 1045.0,363.7 1045.25,366.6 1045.5,369.5 1045.75,372.4 1046.0,372.4 1046.25,378.2 1046.5,381.1 1046.75,387.0 1047.0,389.9 1047.25,392.8 1047.5,395.7 1048.0,395.7 1048.25,398.6 1048.5,401.5 1048.75,404.4 1049.0,407.3 1049.25,410.2 1049.5,413.1 1049.75,413.1 1050.0,416.1 1050.25,419.0 1050.5,419.0 1050.75,421.9 1051.0,424.8 1051.25,427.7 1051.5,427.7 1051.75,430.6 1052.0,430.6 1052.25,433.5 1052.5,436.4 1052.75,436.4 1053.0,439.3 1053.5,439.3 1053.75,442.2 1054.0,445.1 1054.25,445.1 1054.5,448.1 1054.75,451.0 1055.0,453.9 1055.25,456.8 1055.5,459.7 1055.75,462.6 1056.0,465.5 1056.25,468.4 1056.5,468.4 1056.75,471.3 1057.0,474.2 1057.25,477.2 1057.5,477.2 1057.75,480.1 1058.0,483.0 1058.25,485.9 1058.5,488.8 1058.75,491.7 1059.0,491.7 1059.25,494.6 1059.5,497.5 1059.75,497.5 1060.0,500.4 1060.25,503.3 1060.5,506.2 1061.0,506.2 1061.25,503.3 1061.5,506.2 1061.75,503.3 1062.0,500.4 1062.25,497.5 1062.5,491.7 1062.75,488.8 1063.0,483.0 1063.25,480.1 1063.5,474.2 1063.75,468.4 1064.0,462.6 1064.25,456.8 1064.5,453.9 1064.75,445.1 1065.0,439.3 1065.25,430.6 1065.5,424.8 1065.75,419.0 1066.0,413.1 1066.25,407.3 1066.5,401.5 1066.75,395.7 1067.0,389.9 1067.25,384.0 1067.5,381.1 1067.75,375.3 1068.0,357.9 1068.25,360.8 1068.5,355.0 1068.75,337.5 1069.0,334.6 1069.25,328.8 1069.5,320.0 1069.75,322.9 1070.0,311.3 1070.25,314.2 1070.5,305.5 1070.75,302.6 1071.0,308.4 1071.25,305.5 1071.5,308.4 1071.75,302.6 1072.0,296.8 1072.25,305.5 1072.5,293.9 1072.75,302.6 1073.0,299.7 1073.25,302.6 1073.5,285.1 1073.75,290.9 1074.25,290.9 1074.5,285.1 1074.75,293.9 1075.0,285.1 1075.25,273.5 1075.5,282.2 1075.75,279.3 1076.0,273.5 1076.25,276.4 1076.5,267.7 1076.75,261.8 1077.0,258.9 1077.25,264.8 1077.5,270.6 1077.75,270.6 1078.0,276.4 1078.25,270.6 1078.5,270.6 1078.75,273.5 1079.0,279.3 1079.25,267.7 1079.5,264.8 1079.75,270.6 1080.0,273.5 1080.25,264.8 1080.5,256.0 1080.75,261.8 1081.0,261.8 1081.25,258.9 1081.5,256.0 1081.75,261.8 1082.0,264.8 1082.25,267.7 1082.5,261.8 1082.75,264.8 1083.0,270.6 1083.25,279.3 1083.5,282.2 1083.75,282.2 1084.0,293.9 1084.25,290.9 1084.5,302.6 1084.75,311.3 1085.0,317.1 1085.25,325.9 1085.5,343.3 1085.75,352.0 1086.0,355.0 1086.25,381.1 1086.5,389.9 1086.75,398.6 1087.0,419.0 1087.25,436.4 1087.5,453.9 1087.75,459.7 1088.0,474.2 1088.25,485.9 1088.5,497.5 1088.75,506.2 1089.0,512.1 1089.25,517.9 1089.5,523.7 1089.75,529.5 1090.0,532.4 1090.25,535.3 1090.5,541.2 1090.75,544.1 1091.0,547.0 1091.25,549.9 1091.5,549.9 1091.75,552.8 1092.0,552.8 1092.25,555.7 1092.5,555.7 1092.75,558.6 1093.0,558.6 1093.25,561.5 1094.0,561.5 1094.25,564.4 1094.75,564.4 1095.0,567.3 1095.25,570.3 1095.75,570.3 1096.0,576.1 1096.25,579.0 1096.5,584.8 1096.75,587.7 1097.0,590.6 1097.25,593.5 1097.5,593.5 1097.75,596.4 1098.0,596.4 1098.25,599.4 1098.5,602.3 1098.75,605.2 1099.0,605.2 1099.25,608.1 1099.5,611.0 1099.75,613.9 1100.0,619.7 1100.25,622.6 1100.5,619.7 1100.75,622.6 1101.0,625.5 1101.25,628.4 1101.5,619.7 1101.75,631.4 1102.25,631.4 1102.5,637.2 1102.75,631.4 1103.0,625.5 1103.25,631.4 1103.75,631.4 1104.0,634.3 1104.25,631.4 1104.5,637.2 1104.75,640.1 1105.0,634.3 1105.25,631.4 1105.5,631.4 1105.75,628.4 1106.0,640.1 1106.25,628.4 1106.5,628.4 1106.75,631.4 1107.0,640.1 1107.25,643.0 1107.5,640.1 1107.75,643.0 1108.0,634.3 1108.25,637.2 1108.5,631.4 1108.75,631.4 1109.0,645.9 1109.25,637.2 1109.5,643.0 1109.75,645.9 1110.0,645.9 1110.25,643.0 1110.5,637.2 1110.75,645.9 1111.0,634.3 1111.75,634.3 1112.0,637.2 1112.25,643.0 1112.5,637.2 1112.75,637.2 1113.0,640.1 1113.25,634.3 1113.5,643.0 1113.75,645.9 1114.0,637.2 1114.25,645.9 1114.5,640.1 1114.75,634.3 1115.0,634.3 1115.25,625.5 1115.5,625.5 1115.75,616.8 1116.0,613.9 1116.25,616.8 1116.5,619.7 1116.75,616.8 1117.0,613.9 1117.25,622.6 1117.5,613.9 1117.75,611.0 1118.0,611.0 1118.25,608.1 1118.5,605.2 1118.75,602.3 1119.0,596.4 1119.25,590.6 1119.5,581.9 1119.75,579.0 1120.0,570.3 1120.25,564.4 1120.5,555.7 1120.75,549.9 1121.0,544.1 1121.25,535.3 1121.5,529.5 1121.75,520.8 1122.0,515.0 1122.25,509.2 1122.5,503.3 1122.75,500.4 1123.0,497.5 1123.25,494.6 1123.5,485.9 1123.75,483.0 1124.0,477.2 1124.25,468.4 1124.5,462.6 1124.75,453.9 1125.0,448.1 1125.25,436.4 1125.5,427.7 1125.75,416.1 1126.0,410.2 1126.25,395.7 1126.5,389.9 1126.75,375.3 1127.0,369.5 1127.25,366.6 1127.5,360.8 1127.75,360.8 1128.0,346.2 1128.25,340.4 1128.5,340.4 1128.75,331.7 1129.0,343.3 1129.25,340.4 1129.5,337.5 1129.75,331.7 1130.0,325.9 1130.25,322.9 1130.5,320.0 1130.75,314.2 1131.0,317.1 1131.25,320.0 1131.5,317.1 1131.75,308.4 1132.0,325.9 1132.25,320.0 1132.5,317.1 1132.75,322.9 1133.0,325.9 1133.25,320.0 1133.5,314.2 1133.75,311.3 1134.0,320.0 1134.25,311.3 1134.5,311.3 1134.75,308.4 1135.0,308.4 1135.25,317.1 1135.5,322.9 1135.75,317.1 1136.0,314.2 1136.25,320.0 1136.5,322.9 1136.75,317.1 1137.0,328.8 1137.25,317.1 1137.5,317.1 1137.75,308.4 1138.0,302.6 1138.25,302.6 1138.5,317.1 1138.75,320.0 1139.0,331.7 1139.25,322.9 1139.5,328.8 1139.75,325.9 1140.0,334.6 1140.25,334.6 1140.5,331.7 1140.75,340.4 1141.0,340.4 1141.25,349.1 1141.5,360.8 1141.75,375.3 1142.0,375.3 1142.25,392.8 1142.5,398.6 1142.75,416.1 1143.0,419.0 1143.25,421.9 1143.5,427.7 1143.75,430.6 1144.0,439.3 1144.25,448.1 1144.5,456.8 1144.75,465.5 1145.0,477.2 1145.25,474.2 1145.5,474.2 1145.75,477.2 1146.0,471.3 1146.25,465.5 1146.5,465.5 1146.75,462.6 1147.0,462.6 1147.25,456.8 1147.5,451.0 1147.75,448.1 1148.0,445.1 1148.25,451.0 1148.5,451.0 1148.75,453.9 1149.0,456.8 1149.25,453.9 1149.5,456.8 1149.75,465.5 1150.0,462.6 1150.25,465.5 1150.5,468.4 1150.75,468.4 1151.0,474.2 1151.25,477.2 1151.5,480.1 1152.0,480.1 1152.25,485.9 1152.5,488.8 1153.0,488.8 1153.25,491.7 1153.5,488.8 1153.75,494.6 1154.0,497.5 1154.5,497.5 1154.75,503.3 1155.25,503.3 1155.5,506.2 1155.75,506.2 1156.0,500.4 1156.25,503.3 1156.75,503.3 1157.0,500.4 1157.25,497.5 1157.75,497.5 1158.0,494.6 1158.25,494.6 1158.5,500.4 1158.75,497.5 1159.0,497.5 1159.25,494.6 1159.5,497.5 1160.0,497.5 1160.25,500.4 1160.5,497.5 1160.75,497.5 1161.0,494.6 1161.25,497.5 1161.75,497.5 1162.0,500.4 1162.25,497.5 1162.5,500.4 1162.75,497.5 1163.0,500.4 1163.25,500.4 1163.5,503.3 1164.0,503.3 1164.25,500.4 1164.5,503.3 1166.5,503.3 1166.75,506.2 1167.5,506.2 1167.75,509.2 1168.0,512.1 1168.25,509.2 1168.5,509.2 1168.75,503.3 1169.0,506.2 1169.25,506.2 1169.5,503.3 1170.0,503.3 1170.25,497.5 1170.5,497.5 1170.75,500.4 1171.0,497.5 1171.25,500.4 1171.5,494.6 1172.0,494.6 1172.25,491.7 1172.5,488.8 1172.75,485.9 1173.0,480.1 1173.25,477.2 1173.5,474.2 1173.75,474.2 1174.0,471.3 1174.25,468.4 1174.5,465.5 1174.75,462.6 1175.0,462.6 1175.25,459.7 1175.5,456.8 1175.75,456.8 1176.0,453.9 1176.25,453.9 1176.5,451.0 1176.75,448.1 1177.0,448.1 1177.25,445.1 1177.5,442.2 1177.75,439.3 1178.0,436.4 1178.25,433.5 1178.5,430.6 1178.75,424.8 1179.0,421.9 1179.25,416.1 1179.5,410.2 1179.75,404.4 1180.0,398.6 1180.25,392.8 1180.5,387.0 1180.75,381.1 1181.0,372.4 1181.25,366.6 1181.5,360.8 1181.75,355.0 1182.0,352.0 1182.25,346.2 1182.5,340.4 1182.75,337.5 1183.0,331.7 1183.25,325.9 1183.5,317.1 1183.75,305.5 1184.0,296.8 1184.25,285.1 1184.5,276.4 1184.75,267.7 1185.0,261.8 1185.25,261.8 1185.5,250.2 1185.75,250.2 1186.0,247.3 1186.25,235.7 1186.5,238.6 1186.75,238.6 1187.0,235.7 1187.25,229.8 1187.5,235.7 1187.75,226.9 1188.0,229.8 1188.25,221.1 1188.5,221.1 1188.75,212.4 1189.0,212.4 1189.25,221.1 1189.5,224.0 1189.75,232.8 1190.0,229.8 1190.25,226.9 1190.5,226.9 1190.75,232.8 1191.0,226.9 1191.25,218.2 1191.5,215.3 1191.75,209.5 1192.0,215.3 1192.25,206.6 1192.5,209.5 1192.75,203.7 1193.0,197.8 1193.25,194.9 1193.5,200.7 1193.75,203.7 1194.0,212.4 1194.25,215.3 1194.5,209.5 1194.75,215.3 1195.0,226.9 1195.25,226.9 1195.5,224.0 1195.75,221.1 1196.0,224.0 1196.25,226.9 1196.5,241.5 1196.75,235.7 1197.25,235.7 1197.5,238.6 1197.75,244.4 1198.0,235.7 1198.25,244.4 1198.5,250.2 1198.75,253.1 1199.0,253.1 1199.25,256.0 1199.5,258.9 1199.75,258.9 1200.0,264.8 1200.25,267.7 1200.5,270.6 1200.75,270.6 1201.0,276.4 1201.25,279.3 1201.5,282.2 1201.75,288.0 1202.0,290.9 1202.25,293.9 1202.5,296.8 1202.75,296.8 1203.0,302.6 1203.25,302.6 1203.5,305.5 1203.75,308.4 1204.25,308.4 1204.5,311.3 1205.5,311.3 1205.75,308.4 1206.0,305.5 1207.25,305.5 1207.5,302.6 1209.0,302.6 1209.25,305.5 1209.5,305.5 1209.75,302.6 1210.0,305.5 1211.0,305.5 1211.25,308.4 1212.0,308.4 1212.25,311.3 1214.0,311.3 1214.25,308.4 1214.5,311.3 1214.75,308.4 1215.0,311.3 1216.0,311.3 1216.25,314.2 1216.5,311.3 1216.75,311.3 1217.0,314.2 1217.25,311.3 1218.25,311.3 1218.5,314.2 1218.75,317.1 1219.0,320.0 1219.25,317.1 1219.5,320.0 1219.75,320.0 1220.0,322.9 1220.25,322.9 1220.5,325.9 1220.75,322.9 1221.0,325.9 1221.25,325.9 1221.5,328.8 1222.0,328.8 1222.25,331.7 1222.75,331.7 1223.0,334.6 1223.25,331.7 1223.75,331.7 1224.0,328.8 1226.5,328.8 1226.75,325.9 1227.0,328.8 1227.25,328.8 1227.5,331.7 1227.75,337.5 1228.0,340.4 1228.25,343.3 1228.5,346.2 1229.25,346.2 1229.5,349.1 1229.75,349.1 1230.0,346.2 1230.25,343.3 1230.5,343.3 1230.75,340.4 1231.0,337.5 1231.25,331.7 1231.5,322.9 1231.75,317.1 1232.0,311.3 1232.25,305.5 1232.5,299.7 1232.75,293.9 1233.0,285.1 1233.25,276.4 1233.5,270.6 1233.75,258.9 1234.0,253.1 1234.25,232.8 1234.5,232.8 1234.75,221.1 1235.0,209.5 1235.25,209.5 1235.5,194.9 1235.75,186.2 1236.0,180.4 1236.25,162.9 1236.5,162.9 1236.75,154.2 1237.25,154.2 1237.5,142.6 1237.75,136.7 1238.0,136.7 1238.25,128.0 1238.5,139.6 1238.75,130.9 1239.0,130.9 1239.25,116.4 1239.5,122.2 1239.75,119.3 1240.0,116.4 1240.25,104.7 1240.5,107.6 1240.75,104.7 1241.0,116.4 1241.25,104.7 1241.5,110.6 1241.75,113.5 1242.0,113.5 1242.25,125.1 1242.5,128.0 1242.75,128.0 1243.0,130.9 1243.25,136.7 1243.5,136.7 1243.75,139.6 1244.0,128.0 1244.25,125.1 1244.5,125.1 1244.75,113.5 1245.0,125.1 1245.25,119.3 1245.5,113.5 1245.75,116.4 1246.0,122.2 1246.25,113.5 1246.5,116.4 1246.75,125.1 1247.0,122.2 1247.25,130.9 1247.5,133.8 1247.75,130.9 1248.0,136.7 1248.25,139.6 1248.5,139.6 1248.75,142.6 1249.0,139.6 1249.25,142.6 1249.5,139.6 1249.75,145.5 1250.0,151.3 1250.25,151.3 1250.5,148.4 1250.75,142.6 1251.0,148.4 1251.25,154.2 1251.5,148.4 1251.75,160.0 1252.0,151.3 1252.25,160.0 1252.5,157.1 1252.75,160.0 1253.0,165.8 1253.25,165.8 1253.5,168.7 1253.75,171.7 1254.0,174.6 1254.25,174.6 1254.5,177.5 1254.75,180.4 1255.25,180.4 1255.5,183.3 1255.75,186.2 1256.0,189.1 1256.25,192.0 1256.5,194.9 1256.75,197.8 1257.0,203.7 1257.25,206.6 1257.5,212.4 1257.75,215.3 1258.0,218.2 1258.25,218.2 1258.5,221.1 1258.75,224.0 1259.25,224.0 1259.5,226.9 1260.25,226.9 1260.5,229.8 1261.25,229.8 1261.5,232.8 1262.25,232.8 1262.5,235.7 1262.75,238.6 1263.0,244.4 1263.25,244.4 1263.5,250.2 1263.75,253.1 1264.0,258.9 1264.25,258.9 1264.5,264.8 1264.75,270.6 1265.0,273.5 1265.25,276.4 1265.5,279.3 1265.75,285.1 1266.0,288.0 1266.25,290.9 1266.5,293.9 1266.75,293.9 1267.0,296.8 1267.25,299.7 1267.5,302.6 1267.75,305.5 1268.0,311.3 1268.25,314.2 1268.5,314.2 1268.75,317.1 1269.0,320.0 1269.25,325.9 1269.5,328.8 1269.75,331.7 1270.0,334.6 1270.25,334.6 1270.5,337.5 1270.75,337.5 1271.0,340.4 1271.25,337.5 1271.5,340.4 1271.75,349.1 1272.0,349.1 1272.25,352.0 1272.5,352.0 1272.75,357.9 1273.0,360.8 1273.25,369.5 1273.5,369.5 1273.75,366.6 1274.0,369.5 1274.25,375.3 1274.5,378.2 1274.75,375.3 1275.0,378.2 1275.25,381.1 1275.5,378.2 1275.75,378.2 1276.0,375.3 1276.25,375.3 1276.5,378.2 1277.0,378.2 1277.25,381.1 1277.5,381.1 1277.75,378.2 1278.0,384.0 1278.25,378.2 1278.5,381.1 1278.75,384.0 1279.25,384.0 1279.5,381.1 1279.75,384.0 1280.0,381.1 1280.25,381.1 1280.5,375.3 1280.75,375.3 1281.0,378.2 1281.25,375.3 1281.5,375.3 1281.75,372.4 1282.0,369.5 1282.25,363.7 1282.5,372.4 1282.75,366.6 1283.0,366.6 1283.25,369.5 1283.5,366.6 1283.75,366.6 1284.0,363.7 1284.25,360.8 1284.5,363.7 1284.75,357.9 1285.0,360.8 1285.25,355.0 1285.5,357.9 1285.75,355.0 1286.0,355.0 1286.25,352.0 1286.5,352.0 1286.75,349.1 1287.0,343.3 1287.25,340.4 1287.5,334.6 1287.75,343.3 1288.0,337.5 1288.25,328.8 1288.5,325.9 1288.75,317.1 1289.0,305.5 1289.25,299.7 1289.5,296.8 1289.75,282.2 1290.0,273.5 1290.25,267.7 1290.5,256.0 1290.75,247.3 1291.0,235.7 1291.25,221.1 1291.5,206.6 1291.75,197.8 1292.0,183.3 1292.25,177.5 1292.5,171.7 1292.75,148.4 1293.0,136.7 1293.25,125.1 1293.5,116.4 1293.75,110.6 1294.0,90.2 1294.25,96.0 1294.5,87.3 1294.75,93.1 1295.0,104.7 1295.25,104.7 1295.5,128.0 1295.75,122.2 1296.0,122.2 1296.25,128.0 1296.5,122.2 1296.75,125.1 1297.0,125.1 1297.25,113.5 1297.5,122.2 1297.75,125.1 1298.0,130.9 1298.25,133.8 1298.5,125.1 1298.75,119.3 1299.0,116.4 1299.25,113.5 1299.5,101.8 1299.75,104.7 1300.0,96.0 1300.25,98.9 1300.5,107.6 1300.75,107.6 1301.0,113.5 1301.25,113.5 1301.5,104.7 1301.75,110.6 1302.0,107.6 1302.25,110.6 1302.5,107.6 1303.0,107.6 1303.25,104.7 1303.5,116.4 1303.75,116.4 1304.0,119.3 1304.25,136.7 1304.5,128.0 1304.75,125.1 1305.0,122.2 1305.25,128.0 1305.5,122.2 1305.75,125.1 1306.0,133.8 1306.25,128.0 1306.5,128.0 1306.75,136.7 1307.0,145.5 1307.25,142.6 1307.5,145.5 1307.75,145.5 1308.0,148.4 1308.25,151.3 1308.5,154.2 1308.75,157.1 1309.0,160.0 1309.25,162.9 1309.5,165.8 1309.75,168.7 1310.0,168.7 1310.25,174.6 1310.5,174.6 1310.75,180.4 1311.0,183.3 1311.25,186.2 1311.5,189.1 1311.75,194.9 1312.0,197.8 1312.25,200.7 1312.5,200.7 1312.75,203.7 1313.0,206.6 1313.25,212.4 1313.5,215.3 1313.75,218.2 1314.0,226.9 1314.25,229.8 1314.5,232.8 1314.75,235.7 1315.0,241.5 1315.25,244.4 1315.5,247.3 1315.75,253.1 1316.0,256.0 1316.25,258.9 1316.5,267.7 1316.75,270.6 1317.0,270.6 1317.25,276.4 1317.5,282.2 1317.75,279.3 1318.0,282.2 1318.25,282.2 1318.5,279.3 1318.75,282.2 1319.0,285.1 1319.25,282.2 1319.5,285.1 1319.75,285.1 1320.0,288.0 1320.25,288.0 1320.5,290.9 1321.0,290.9 1321.25,293.9 1321.5,293.9 1321.75,290.9 1322.0,293.9 1322.25,290.9 1322.5,290.9 1322.75,288.0 1323.25,288.0 1323.5,290.9 1323.75,288.0 1324.0,290.9 1324.25,288.0 1324.5,290.9 1324.75,288.0 1325.0,285.1 1325.25,288.0 1325.75,288.0 1326.0,290.9 1326.25,290.9 1326.5,293.9 1326.75,290.9 1327.0,290.9 1327.25,285.1 1327.5,285.1 1327.75,288.0 1328.0,282.2 1328.25,285.1 1328.5,288.0 1328.75,288.0 1329.0,282.2 1329.25,285.1 1329.5,285.1 1329.75,288.0 1330.0,288.0 1330.25,282.2 1330.5,285.1 1330.75,279.3 1331.0,282.2 1331.25,288.0 1331.5,279.3 1331.75,282.2 1332.0,282.2 1332.25,279.3 1332.5,282.2 1332.75,279.3 1333.0,279.3 1333.25,282.2 1333.5,279.3 1333.75,279.3 1334.0,276.4 1335.25,276.4 1335.5,273.5 1335.75,276.4 1336.0,273.5 1336.25,276.4 1336.5,273.5 1338.0,273.5 1338.25,270.6 1338.75,270.6 1339.0,273.5 1339.25,270.6 1340.0,270.6 1340.25,267.7 1341.25,267.7 1341.5,264.8 1341.75,261.8 1342.0,258.9 1342.25,258.9 1342.5,253.1 1342.75,250.2 1343.0,247.3 1343.25,241.5 1343.5,238.6 1343.75,232.8 1344.0,229.8 1344.25,226.9 1344.5,221.1 1344.75,215.3 1345.0,212.4 1345.25,209.5 1345.5,203.7 1345.75,203.7 1346.0,194.9 1346.5,194.9 1346.75,192.0 1347.0,189.1 1347.25,189.1 1347.5,183.3 1347.75,183.3 1348.0,180.4 1348.25,177.5 1348.5,180.4 1348.75,171.7 1349.0,171.7 1349.25,168.7 1349.5,171.7 1349.75,165.8 1350.25,165.8 1350.5,162.9 1350.75,162.9 1351.0,165.8 1351.25,162.9 1351.5,162.9 1351.75,165.8 1352.0,165.8 1352.25,168.7 1352.5,168.7 1352.75,174.6 1353.0,177.5 1353.5,177.5 1353.75,174.6 1354.0,174.6 1354.25,177.5 1354.5,174.6 1354.75,171.7 1355.0,171.7 1355.25,165.8 1355.5,162.9 1355.75,162.9 1356.0,154.2 1356.25,151.3 1356.5,148.4 1357.0,148.4 1357.25,145.5 1357.75,145.5 1358.0,148.4 1358.25,145.5 1358.5,148.4 1358.75,157.1 1359.0,160.0 1359.25,157.1 1359.5,162.9 1359.75,160.0 1360.0,160.0 1360.25,165.8 1360.5,165.8 1360.75,162.9 1361.0,165.8 1361.5,165.8 1361.75,162.9 1362.0,165.8 1362.5,165.8 1362.75,168.7 1363.0,162.9 1363.25,171.7 1363.5,168.7 1363.75,168.7 1364.0,171.7 1364.25,168.7 1364.5,168.7 1364.75,171.7 1365.0,171.7 1365.25,174.6 1365.75,174.6 1366.0,177.5 1366.25,177.5 1366.5,183.3 1366.75,183.3 1367.0,189.1 1367.25,194.9 1367.5,194.9 1367.75,197.8 1368.0,203.7 1368.25,200.7 1368.5,206.6 1368.75,206.6 1369.0,212.4 1369.25,212.4 1369.5,215.3 1369.75,218.2 1370.0,221.1 1370.25,226.9 1370.5,224.0 1370.75,229.8 1371.0,232.8 1371.25,235.7 1372.25,235.7 1372.5,238.6 1372.75,232.8 1373.0,235.7 1373.25,235.7 1373.5,238.6 1373.75,235.7 1374.0,238.6 1374.5,238.6 1374.75,244.4 1375.25,244.4 1375.5,247.3 1375.75,250.2 1376.0,253.1 1376.25,256.0 1376.5,256.0 1376.75,258.9 1377.0,267.7 1377.25,270.6 1377.5,273.5 1377.75,276.4 1378.0,279.3 1378.25,282.2 1379.0,282.2 1379.25,279.3 1379.5,276.4 1379.75,279.3 1380.0,276.4 1380.25,273.5 1380.5,276.4 1380.75,273.5 1381.0,270.6 1381.25,270.6 1381.5,267.7 1381.75,267.7 1382.0,264.8 1382.25,264.8 1382.5,258.9 1382.75,258.9 1383.0,256.0 1383.5,256.0 1383.75,253.1 1384.0,250.2 1384.5,250.2 1384.75,247.3 1385.0,250.2 1386.0,250.2 1386.25,253.1 1386.75,253.1 1387.0,258.9 1387.25,261.8 1387.5,261.8 1387.75,258.9 1388.0,261.8 1388.25,264.8 1388.5,261.8 1388.75,264.8 1389.0,264.8 1389.25,261.8 1389.5,264.8 1389.75,261.8 1390.0,261.8 1390.25,264.8 1391.25,264.8 1391.5,261.8 1391.75,264.8 1393.0,264.8 1393.25,267.7 1393.5,267.7 1393.75,270.6 1394.0,270.6 1394.25,273.5 1394.5,273.5 1394.75,276.4 1395.0,276.4 1395.25,279.3 1395.5,282.2 1395.75,285.1 1396.0,288.0 1396.25,288.0 1396.5,293.9 1396.75,296.8 1397.0,296.8 1397.25,299.7 1397.5,296.8 1397.75,299.7 1398.25,299.7 1398.5,305.5 1398.75,302.6 1399.0,305.5 1399.25,302.6 1399.5,305.5 1399.75,302.6 1400.0,302.6 1400.25,305.5 1400.5,302.6 1400.75,302.6 1401.0,305.5 1401.25,299.7 1401.5,302.6 1402.0,302.6 1402.25,296.8 1402.5,302.6 1402.75,305.5 1403.0,302.6 1404.0,302.6 1404.25,299.7 1404.5,302.6 1404.75,302.6 1405.0,299.7 1405.25,296.8 1405.5,290.9 1405.75,288.0 1406.0,288.0 1406.25,285.1 1406.5,282.2 1406.75,276.4 1407.0,279.3 1407.25,276.4 1407.75,276.4 1408.0,273.5 1408.5,273.5 1408.75,270.6 1409.0,267.7 1409.75,267.7 1410.0,261.8 1410.25,264.8 1410.75,264.8 1411.0,267.7 1411.25,270.6 1412.0,270.6 1412.25,273.5 1412.75,273.5 1413.0,276.4 1413.25,276.4 1413.5,279.3 1414.25,279.3 1414.5,285.1 1414.75,290.9 1415.0,288.0 1415.25,293.9 1415.5,293.9 1415.75,290.9 1416.0,296.8 1416.25,293.9 1416.5,296.8 1416.75,296.8 1417.0,299.7 1417.25,296.8 1418.0,296.8 1418.25,299.7 1418.5,296.8 1418.75,296.8 1419.0,299.7 1419.25,299.7 1419.5,296.8 1419.75,299.7 1420.0,302.6 1420.25,299.7 1420.5,299.7 1420.75,302.6 1421.0,305.5 1421.25,302.6 1421.5,305.5 1421.75,311.3 1422.25,311.3 1422.5,317.1 1422.75,317.1 1423.0,320.0 1423.25,322.9 1423.5,325.9 1423.75,328.8 1424.5,328.8 1424.75,331.7 1425.0,331.7 1425.25,334.6 1425.5,337.5 1425.75,340.4 1426.25,340.4 1426.5,343.3 1426.75,346.2 1427.0,349.1 1427.25,352.0 1427.5,355.0 1427.75,352.0 1428.0,355.0 1428.25,357.9 1428.5,357.9 1428.75,360.8 1429.0,360.8 1429.25,369.5 1429.5,366.6 1429.75,369.5 1430.0,372.4 1430.25,375.3 1430.5,372.4 1430.75,375.3 1431.0,378.2 1431.25,378.2 1431.5,372.4 1431.75,369.5 1432.0,363.7 1432.25,369.5 1432.5,369.5 1432.75,366.6 1433.0,363.7 1433.75,363.7 1434.0,366.6 1434.25,366.6 1434.5,369.5 1434.75,366.6 1435.0,366.6 1435.25,369.5 1435.5,366.6 1435.75,369.5 1436.0,366.6 1436.25,369.5 1436.5,372.4 1436.75,369.5 1437.0,372.4 1437.25,372.4 1437.5,366.6 1437.75,363.7 1438.0,363.7 1438.25,366.6 1438.5,363.7 1438.75,366.6 1439.0,363.7 1439.25,363.7 1439.5,366.6 1439.75,363.7 1440.0,363.7 1440.25,369.5 1440.5,363.7 1440.75,366.6 1441.0,366.6 1441.25,369.5 1441.5,363.7 1442.0,363.7 1442.25,366.6 1442.5,366.6 1442.75,363.7 1443.0,366.6 1443.25,366.6 1443.5,369.5 1443.75,363.7 1444.0,363.7 1444.25,366.6 1444.5,366.6 1444.75,369.5 1445.0,369.5 1445.25,366.6 1445.5,369.5 1445.75,366.6 1446.0,369.5 1446.25,369.5 1446.5,366.6 1446.75,369.5 1447.25,369.5 1447.5,372.4 1447.75,369.5 1448.0,372.4 1448.25,369.5 1448.5,372.4 1448.75,372.4 1449.0,369.5 1449.5,369.5 1449.75,372.4 1450.0,369.5 1450.25,375.3 1451.0,375.3 1451.25,372.4 1451.5,378.2 1451.75,375.3 1452.0,375.3 1452.25,381.1 1452.75,381.1 1453.0,384.0 1453.25,384.0 1453.5,389.9 1453.75,387.0 1454.0,392.8 1454.25,395.7 1454.5,404.4 1454.75,407.3 1455.0,416.1 1455.25,410.2 1455.5,407.3 1455.75,401.5 1456.0,395.7 1456.25,384.0 1456.5,384.0 1456.75,378.2 1457.0,369.5 1457.25,343.3 1457.5,325.9 1457.75,325.9 1458.0,317.1 1458.25,317.1 1458.5,308.4 1458.75,302.6 1459.0,299.7 1459.25,296.8 1459.5,282.2 1459.75,288.0 1460.0,288.0 1460.25,276.4 1460.5,273.5 1460.75,270.6 1461.0,264.8 1461.25,273.5 1461.5,261.8 1461.75,258.9 1462.0,261.8 1462.25,258.9 1462.5,270.6 1462.75,258.9 1463.0,253.1 1463.25,261.8 1463.5,256.0 1464.0,256.0 1464.25,253.1 1464.5,264.8 1464.75,258.9 1465.0,253.1 1465.25,258.9 1465.5,253.1 1465.75,244.4 1466.0,247.3 1466.25,247.3 1466.5,258.9 1466.75,247.3 1467.0,244.4 1467.5,244.4 1467.75,235.7 1468.0,244.4 1468.25,244.4 1468.5,241.5 1469.0,241.5 1469.25,238.6 1469.5,235.7 1469.75,235.7 1470.0,241.5 1470.25,238.6 1470.5,235.7 1470.75,241.5 1471.0,235.7 1471.25,238.6 1471.5,244.4 1471.75,241.5 1472.0,235.7 1472.25,235.7 1472.5,244.4 1472.75,241.5 1473.0,247.3 1473.25,253.1 1473.5,244.4 1473.75,247.3 1474.0,250.2 1474.25,256.0 1474.5,258.9 1474.75,267.7 1475.0,267.7 1475.25,270.6 1475.5,279.3 1475.75,279.3 1476.0,290.9 1476.25,290.9 1476.5,285.1 1476.75,288.0 1477.0,290.9 1477.25,293.9 1477.5,293.9 1477.75,290.9 1478.0,288.0 1478.25,290.9 1478.5,288.0 1478.75,285.1 1479.25,285.1 1479.5,282.2 1479.75,285.1 1480.0,279.3 1480.25,282.2 1480.5,285.1 1480.75,279.3 1481.0,282.2 1481.25,285.1 1481.5,282.2 1481.75,288.0 1482.25,288.0 1482.5,293.9 1482.75,290.9 1483.0,293.9 1483.25,296.8 1483.5,299.7 1483.75,299.7 1484.0,305.5 1484.25,308.4 1484.5,308.4 1484.75,314.2 1485.0,311.3 1485.25,317.1 1485.5,317.1 1485.75,320.0 1486.25,320.0 1486.5,322.9 1486.75,325.9 1487.0,328.8 1487.25,328.8 1487.5,331.7 1488.0,331.7 1488.25,334.6 1488.5,331.7 1488.75,334.6 1489.0,334.6 1489.25,337.5 1489.5,337.5 1489.75,340.4 1490.0,340.4 1490.25,343.3 1490.5,346.2 1490.75,346.2 1491.0,349.1 1491.25,349.1 1491.5,352.0 1491.75,352.0 1492.0,355.0 1492.25,355.0 1492.5,357.9 1492.75,357.9 1493.0,366.6 1493.25,360.8 1493.5,366.6 1493.75,363.7 1494.0,369.5 1494.25,366.6 1494.5,372.4 1494.75,381.1 1495.0,375.3 1495.25,378.2 1495.5,375.3 1495.75,381.1 1496.0,381.1 1496.25,378.2 1496.5,378.2 1496.75,381.1 1497.0,381.1 1497.25,384.0 1497.5,384.0 1497.75,387.0 1498.0,389.9 1498.25,392.8 1498.5,392.8 1498.75,384.0 1499.0,395.7 1499.25,398.6 1499.5,401.5 1499.75,401.5 1500.0,404.4 1500.25,410.2 1500.5,416.1 1500.75,407.3 1501.0,416.1 1501.25,413.1 1501.5,413.1 1501.75,407.3 1502.0,404.4 1502.25,407.3 1502.5,410.2 1502.75,413.1 1503.0,413.1 1503.25,410.2 1503.5,416.1 1503.75,413.1 1504.0,413.1 1504.25,410.2 1504.5,416.1 1504.75,413.1 1505.0,416.1 1505.25,416.1 1505.5,421.9 1505.75,413.1 1506.0,410.2 1506.25,416.1 1506.5,416.1 1506.75,421.9 1507.0,416.1 1507.25,427.7 1507.5,424.8 1507.75,430.6 1508.0,439.3 1508.25,436.4 1508.5,445.1 1508.75,448.1 1509.0,448.1 1509.25,451.0 1509.5,456.8 1509.75,453.9 1510.0,456.8 1510.25,453.9 1510.5,451.0 1510.75,451.0 1511.0,445.1 1511.25,439.3 1511.5,433.5 1511.75,427.7 1512.0,421.9 1512.25,416.1 1512.5,410.2 1512.75,404.4 1513.0,398.6 1513.25,392.8 1513.5,389.9 1513.75,381.1 1514.0,375.3 1514.25,366.6 1514.5,360.8 1514.75,355.0 1515.0,363.7 1515.25,369.5 1515.5,375.3 1515.75,381.1 1516.0,389.9 1516.25,392.8 1516.5,398.6 1516.75,404.4 1517.0,413.1 1517.25,419.0 1517.5,424.8 1517.75,433.5 1518.0,439.3 1518.25,448.1 1518.5,451.0 1518.75,459.7 1519.0,462.6 1519.25,468.4 1519.5,474.2 1519.75,477.2 1520.75,477.2 1521.0,471.3 1521.25,465.5 1521.5,459.7 1521.75,453.9 1522.0,442.2 1522.25,433.5 1522.5,424.8 1522.75,416.1 1523.0,407.3 1523.25,401.5 1523.5,392.8 1523.75,387.0 1524.0,381.1 1524.25,375.3 1524.5,369.5 1524.75,366.6 1525.0,363.7 1525.25,357.9 1525.5,355.0 1525.75,352.0 1526.0,346.2 1526.25,343.3 1526.5,340.4 1526.75,337.5 1527.0,334.6 1527.25,331.7 1527.5,328.8 1528.5,328.8 1528.75,325.9 1531.5,325.9 1531.75,328.8 1532.0,328.8 1532.25,331.7 1533.0,331.7 1533.25,337.5 1533.5,337.5 1533.75,340.4 1534.0,343.3 1534.25,340.4 1534.5,343.3 1534.75,343.3 1535.0,340.4 1535.25,343.3 1535.5,343.3 1535.75,340.4 1536.0,340.4 1536.25,343.3 1536.5,343.3 1536.75,340.4 1537.0,343.3 1537.25,343.3 1537.5,346.2 1538.0,346.2 1538.25,349.1 1538.5,352.0 1539.5,352.0 1539.75,355.0 1540.0,355.0 1540.25,357.9 1540.5,360.8 1540.75,360.8 1541.0,363.7 1541.25,366.6 1541.5,363.7 1541.75,363.7 1542.0,366.6 1542.25,366.6 1542.5,369.5 1542.75,372.4 1543.25,372.4 1543.5,375.3 1543.75,375.3 1544.0,378.2 1544.25,378.2 1544.5,381.1 1544.75,381.1 1545.0,384.0 1545.5,384.0 1545.75,387.0 1546.0,389.9 1546.25,389.9 1546.5,392.8 1546.75,389.9 1547.0,395.7 1547.25,392.8 1547.5,395.7 1547.75,398.6 1548.0,398.6 1548.25,401.5 1548.5,395.7 1548.75,398.6 1549.0,398.6 1549.25,395.7 1549.5,401.5 1549.75,398.6 1550.0,401.5 1550.25,398.6 1551.0,398.6 1551.25,395.7 1551.5,392.8 1551.75,398.6 1552.0,392.8 1552.25,395.7 1552.5,398.6 1552.75,404.4 1553.0,398.6 1553.25,404.4 1553.5,407.3 1553.75,410.2 1554.0,416.1 1554.25,419.0 1554.5,424.8 1554.75,424.8 1555.0,427.7 1555.25,430.6 1555.5,433.5 1555.75,436.4 1556.0,433.5 1556.25,436.4 1556.5,442.2 1557.0,442.2 1557.25,439.3 1557.75,439.3 1558.0,433.5 1558.25,436.4 1558.5,436.4 1558.75,433.5 1559.0,433.5 1559.25,427.7 1559.5,427.7 1559.75,424.8 1560.0,430.6 1560.25,421.9 1560.5,416.1 1560.75,413.1 1561.0,416.1 1561.25,416.1 1561.5,410.2 1562.0,410.2 1562.25,407.3 1562.5,401.5 1563.0,401.5 1563.25,404.4 1563.5,395.7 1563.75,401.5 1564.0,398.6 1564.25,401.5 1564.5,395.7 1565.25,395.7 1565.5,398.6 1565.75,395.7 1566.0,401.5 1566.25,395.7 1566.5,395.7 1566.75,398.6 1567.25,398.6 1567.5,395.7 1567.75,395.7 1568.0,392.8 1568.5,392.8 1568.75,387.0 1569.0,384.0 1569.25,384.0 1569.5,381.1 1569.75,378.2 1570.0,375.3 1570.25,375.3 1570.5,372.4 1570.75,372.4 1571.0,369.5 1571.25,366.6 1571.5,369.5 1571.75,355.0 1572.0,357.9 1572.25,346.2 1572.5,343.3 1572.75,328.8 1573.0,325.9 1573.25,322.9 1573.5,308.4 1573.75,308.4 1574.0,302.6 1574.25,302.6 1574.5,299.7 1575.0,299.7 1575.25,308.4 1575.5,302.6 1575.75,296.8 1576.0,290.9 1576.25,293.9 1576.5,293.9 1576.75,288.0 1577.0,290.9 1577.25,290.9 1577.5,288.0 1577.75,290.9 1578.0,279.3 1578.25,279.3 1578.5,282.2 1578.75,282.2 1579.0,276.4 1579.25,276.4 1579.5,285.1 1579.75,290.9 1580.0,288.0 1580.25,302.6 1580.5,308.4 1580.75,308.4 1581.0,314.2 1581.25,314.2 1581.5,320.0 1581.75,320.0 1582.0,325.9 1582.25,331.7 1582.5,334.6 1582.75,337.5 1583.0,340.4 1583.25,340.4 1583.5,343.3 1583.75,349.1 1584.0,349.1 1584.25,346.2 1584.5,340.4 1584.75,346.2 1585.0,331.7 1585.25,334.6 1585.5,337.5 1585.75,331.7 1586.0,331.7 1586.25,334.6 1586.5,334.6 1586.75,340.4 1587.0,346.2 1587.25,343.3 1587.5,340.4 1587.75,343.3 1588.0,331.7 1588.25,343.3 1588.5,334.6 1588.75,337.5 1589.0,346.2 1589.25,346.2 1589.5,343.3 1589.75,352.0 1590.0,357.9 1590.25,355.0 1590.5,355.0 1590.75,363.7 1591.0,363.7 1591.25,369.5 1591.5,375.3 1591.75,378.2 1592.0,381.1 1592.25,384.0 1592.5,387.0 1592.75,392.8 1593.0,387.0 1593.25,389.9 1593.5,384.0 1593.75,384.0 1594.0,378.2 1594.25,378.2 1594.5,375.3 1594.75,378.2 1595.0,375.3 1595.5,375.3 1595.75,378.2 1596.0,378.2 1596.25,381.1 1596.5,384.0 1596.75,387.0 1597.0,387.0 1597.25,389.9 1597.5,389.9 1597.75,387.0 1598.0,389.9 1598.25,384.0 1598.5,387.0 1598.75,384.0 1600.0,384.0 1600.25,381.1 1601.0,381.1 1601.25,384.0 1601.5,384.0 1601.75,381.1 1602.0,378.2 1602.25,381.1 1602.5,378.2 1603.5,378.2 1603.75,381.1 1604.0,378.2 1604.25,378.2 1604.5,375.3 1604.75,378.2 1606.25,378.2 1606.5,381.1 1607.5,381.1 1607.75,387.0 1608.0,384.0 1608.25,384.0 1608.5,381.1 1608.75,387.0 1609.0,384.0 1609.25,384.0 1609.5,387.0 1609.75,389.9 1610.0,387.0 1610.25,389.9 1610.5,387.0 1610.75,389.9 1611.0,387.0 1611.25,389.9 1612.5,389.9 1612.75,392.8 1613.75,392.8 1614.0,395.7 1614.25,392.8 1614.5,392.8 1614.75,395.7 1615.25,395.7 1615.5,392.8 1615.75,395.7 1617.25,395.7 1617.5,398.6 1617.75,395.7 1618.0,398.6 1618.75,398.6 1619.0,401.5 1619.25,398.6 1619.5,401.5 1620.0,401.5 1620.25,404.4 1621.0,404.4 1621.25,407.3 1621.5,410.2 1622.0,410.2 1622.25,407.3 1622.5,404.4 1622.75,401.5 1623.0,401.5 1623.25,398.6 1623.5,398.6 1623.75,395.7 1624.0,395.7 1624.25,392.8 1624.5,389.9 1625.0,389.9 1625.25,387.0 1625.5,384.0 1625.75,384.0 1626.0,381.1 1626.25,375.3 1626.5,372.4 1626.75,372.4 1627.0,369.5 1627.25,372.4 1627.75,372.4 1628.0,375.3 1628.25,381.1 1628.5,381.1 1628.75,384.0 1629.0,387.0 1629.25,389.9 1630.0,389.9 1630.25,387.0 1630.5,384.0 1630.75,384.0 1631.0,381.1 1631.25,381.1 1631.5,378.2 1631.75,375.3 1632.0,372.4 1632.5,372.4 1632.75,369.5 1633.25,369.5 1633.5,360.8 1633.75,355.0 1634.0,352.0 1634.25,343.3 1634.5,337.5 1634.75,328.8 1635.0,320.0 1635.25,314.2 1635.5,308.4 1635.75,302.6 1636.25,302.6 1636.5,293.9 1636.75,293.9 1637.0,288.0 1637.25,285.1 1637.5,279.3 1637.75,279.3 1638.0,282.2 1638.25,285.1 1638.5,290.9 1638.75,293.9 1639.0,290.9 1639.75,290.9 1640.0,293.9 1640.5,293.9 1640.75,290.9 1641.25,290.9 1641.5,288.0 1641.75,293.9 1642.0,290.9 1642.25,288.0 1642.5,288.0 1642.75,290.9 1643.0,288.0 1643.25,290.9 1644.25,290.9 1644.5,288.0 1644.75,293.9 1645.0,290.9 1645.25,293.9 1645.5,290.9 1645.75,293.9 1646.0,293.9 1646.25,296.8 1647.5,296.8 1647.75,299.7 1648.0,299.7 1648.25,305.5 1648.5,308.4 1649.0,308.4 1649.25,311.3 1649.5,311.3 1649.75,308.4 1650.0,311.3 1650.25,314.2 1650.5,308.4 1650.75,311.3 1651.0,314.2 1651.25,311.3 1651.5,317.1 1651.75,314.2 1652.0,320.0 1652.5,320.0 1652.75,322.9 1653.0,320.0 1653.25,328.8 1654.25,328.8 1654.5,331.7 1654.75,328.8 1655.0,334.6 1655.25,331.7 1655.5,328.8 1655.75,331.7 1656.0,334.6 1656.25,334.6 1656.5,337.5 1656.75,340.4 1657.0,340.4 1657.25,343.3 1657.5,343.3 1657.75,346.2 1658.0,343.3 1658.25,346.2 1658.5,349.1 1658.75,352.0 1659.0,352.0 1659.25,349.1 1659.5,352.0 1659.75,355.0 1660.0,357.9 1660.25,355.0 1660.5,357.9 1660.75,360.8 1661.0,363.7 1661.25,366.6 1661.5,366.6 1661.75,369.5 1662.0,369.5 1662.25,366.6 1662.5,366.6 1662.75,363.7 1663.0,363.7 1663.25,357.9 1663.5,355.0 1663.75,355.0 1664.0,352.0 1664.25,349.1 1664.5,349.1 1664.75,346.2 1665.0,343.3 1665.25,346.2 1665.5,343.3 1666.0,343.3 1666.25,340.4 1666.5,343.3 1666.75,349.1 1667.0,343.3 1667.25,343.3 1667.5,346.2 1667.75,343.3 1668.0,352.0 1668.25,346.2 1668.5,352.0 1668.75,352.0 1669.0,357.9 1669.25,366.6 1669.5,366.6 1669.75,369.5 1670.0,372.4 1670.25,378.2 1670.5,387.0 1670.75,392.8 1671.0,395.7 1671.25,404.4 1671.5,407.3 1671.75,410.2 1672.0,410.2 1672.25,407.3 1672.75,407.3 1673.0,398.6 1673.25,404.4 1673.5,398.6 1673.75,398.6 1674.0,401.5 1674.25,395.7 1674.5,398.6 1674.75,392.8 1675.0,392.8 1675.25,395.7 1675.5,392.8 1675.75,392.8 1676.0,395.7 1676.25,395.7 1676.5,389.9 1676.75,395.7 1677.0,395.7 1677.25,398.6 1677.5,398.6 1677.75,401.5 1678.0,398.6 1678.25,395.7 1678.75,395.7 1679.0,389.9 1679.25,389.9 1679.5,384.0 1679.75,378.2 1680.0,372.4 1680.25,372.4 1680.5,369.5 1680.75,363.7 1681.0,369.5 1681.25,366.6 1681.5,355.0 1681.75,346.2 1682.0,340.4 1682.25,331.7 1682.5,317.1 1682.75,311.3 1683.0,302.6 1683.25,293.9 1683.5,288.0 1683.75,285.1 1684.0,279.3 1684.25,282.2 1684.5,279.3 1684.75,276.4 1685.0,267.7 1685.25,267.7 1685.5,258.9 1685.75,258.9 1686.0,250.2 1686.25,253.1 1686.5,247.3 1686.75,247.3 1687.0,235.7 1687.25,221.1 1687.5,206.6 1687.75,218.2 1688.0,209.5 1688.25,197.8 1688.5,192.0 1688.75,194.9 1689.0,186.2 1689.25,192.0 1689.5,183.3 1689.75,177.5 1690.0,174.6 1690.25,180.4 1690.5,186.2 1691.25,186.2 1691.5,189.1 1691.75,183.3 1692.0,177.5 1692.25,180.4 1692.5,180.4 1692.75,171.7 1693.0,165.8 1693.25,160.0 1693.5,157.1 1693.75,157.1 1694.0,154.2 1694.25,151.3 1694.5,148.4 1694.75,145.5 1695.0,148.4 1695.25,145.5 1695.5,160.0 1695.75,160.0 1696.0,165.8 1696.25,162.9 1696.5,174.6 1696.75,180.4 1697.0,180.4 1697.25,189.1 1697.5,194.9 1697.75,192.0 1698.0,200.7 1698.25,200.7 1698.5,206.6 1698.75,212.4 1699.0,221.1 1699.25,229.8 1699.5,226.9 1699.75,232.8 1700.0,235.7 1700.25,241.5 1700.5,244.4 1700.75,247.3 1701.0,250.2 1701.25,253.1 1701.5,258.9 1701.75,258.9 1702.0,261.8 1702.25,267.7 1702.5,270.6 1702.75,273.5 1703.0,273.5 1703.25,276.4 1703.5,279.3 1703.75,282.2 1704.0,285.1 1704.25,285.1 1704.5,290.9 1704.75,293.9 1705.0,296.8 1705.25,305.5 1705.5,308.4 1705.75,311.3 1706.0,320.0 1706.25,322.9 1706.5,325.9 1706.75,331.7 1707.0,334.6 1707.25,337.5 1707.5,337.5 1707.75,340.4 1708.0,337.5 1708.25,328.8 1708.5,325.9 1708.75,320.0 1709.0,320.0 1709.25,314.2 1710.5,314.2 1710.75,320.0 1711.0,317.1 1711.25,320.0 1711.5,322.9 1711.75,320.0 1712.0,320.0 1712.25,325.9 1712.5,322.9 1712.75,322.9 1713.0,325.9 1713.25,322.9 1714.0,322.9 1714.25,320.0 1714.75,320.0 1715.0,314.2 1715.25,320.0 1715.5,317.1 1715.75,317.1 1716.0,311.3 1716.75,311.3 1717.0,308.4 1717.5,308.4 1717.75,305.5 1718.0,302.6 1718.25,299.7 1718.5,305.5 1718.75,302.6 1719.0,302.6 1719.25,296.8 1719.5,302.6 1719.75,296.8 1720.0,296.8 1720.25,299.7 1720.5,296.8 1720.75,302.6 1721.0,296.8 1721.25,299.7 1721.5,293.9 1721.75,293.9 1722.0,296.8 1722.25,290.9 1722.5,293.9 1723.0,293.9 1723.25,296.8 1723.5,293.9 1723.75,288.0 1724.0,293.9 1724.25,290.9 1725.0,290.9 1725.25,293.9 1725.5,299.7 1725.75,296.8 1726.0,293.9 1726.25,299.7 1726.5,302.6 1726.75,305.5 1727.0,311.3 1727.25,308.4 1728.0,308.4 1728.25,305.5 1728.5,305.5 1728.75,302.6 1729.0,302.6 1729.25,305.5 1729.5,296.8 1730.0,296.8 1730.25,290.9 1730.5,288.0 1730.75,285.1 1731.0,282.2 1731.25,282.2 1731.5,279.3 1731.75,279.3 1732.0,276.4 1732.25,273.5 1732.5,273.5 1732.75,270.6 1733.0,267.7 1733.25,267.7 1733.5,264.8 1733.75,270.6 1734.0,267.7 1734.25,267.7 1734.5,264.8 1734.75,273.5 1735.0,264.8 1735.25,270.6 1735.5,261.8 1736.0,261.8 1736.25,264.8 1736.5,270.6 1736.75,267.7 1737.0,279.3 1737.25,285.1 1737.5,296.8 1737.75,299.7 1738.0,299.7 1738.25,296.8 1738.5,308.4 1738.75,299.7 1739.0,293.9 1739.25,308.4 1739.5,299.7 1739.75,299.7 1740.0,296.8 1740.25,296.8 1740.5,290.9 1740.75,285.1 1741.75,285.1 1742.0,288.0 1742.25,288.0 1742.5,293.9 1742.75,293.9 1743.0,299.7 1743.25,285.1 1743.5,279.3 1743.75,288.0 1744.0,311.3 1744.25,314.2 1744.5,337.5 1744.75,349.1 1745.0,314.2 1745.25,282.2 1745.5,273.5 1745.75,270.6 1746.25,270.6 1746.5,276.4 1746.75,270.6 1747.0,261.8 1747.25,256.0 1747.5,258.9 1747.75,256.0 1748.0,250.2 1748.25,258.9 1748.5,256.0 1748.75,247.3 1749.0,241.5 1749.25,241.5 1749.5,244.4 1749.75,235.7 1750.0,238.6 1750.25,229.8 1750.5,232.8 1750.75,229.8 1751.0,229.8 1751.25,232.8 1751.5,229.8 1752.25,229.8 1752.5,235.7 1752.75,229.8 1753.0,235.7 1753.25,241.5 1753.5,238.6 1753.75,244.4 1754.0,247.3 1754.25,250.2 1754.5,247.3 1754.75,258.9 1755.0,258.9 1755.25,267.7 1755.5,264.8 1755.75,264.8 1756.0,267.7 1756.25,270.6 1756.5,279.3 1756.75,282.2 1757.0,282.2 1757.25,288.0 1757.5,290.9 1757.75,293.9 1758.0,299.7 1758.25,302.6 1758.5,308.4 1758.75,308.4 1759.0,314.2 1759.25,317.1 1759.5,320.0 1759.75,320.0 1760.0,322.9 1760.25,325.9 1760.5,328.8 1760.75,331.7 1761.0,334.6 1761.25,334.6 1761.5,337.5 1761.75,340.4 1762.0,343.3 1762.25,346.2 1762.5,349.1 1762.75,352.0 1763.0,352.0 1763.25,355.0 1763.5,352.0 1763.75,355.0 1764.0,355.0 1764.25,357.9 1764.5,360.8 1765.0,360.8 1765.25,363.7 1765.75,363.7 1766.0,366.6 1768.0,366.6 1768.25,369.5 1768.5,372.4 1768.75,375.3 1769.0,378.2 1769.25,378.2 1769.5,384.0 1769.75,387.0 1770.0,389.9 1770.25,395.7 1770.5,398.6 1770.75,401.5 1771.0,407.3 1771.25,413.1 1771.5,416.1 1771.75,419.0 1772.0,427.7 1772.25,427.7 1772.5,430.6 1772.75,433.5 1773.0,439.3 1773.25,451.0 1773.5,436.4 1773.75,451.0 1774.0,451.0 1774.25,459.7 1774.5,462.6 1774.75,465.5 1775.0,462.6 1775.25,468.4 1775.5,477.2 1775.75,477.2 1776.0,483.0 1776.25,483.0 1776.5,485.9 1776.75,485.9 1777.0,491.7 1777.5,491.7 1777.75,494.6 1778.0,494.6 1778.25,483.0 1778.5,491.7 1778.75,485.9 1779.0,488.8 1779.25,488.8 1779.5,503.3 1779.75,488.8 1780.0,500.4 1780.25,509.2 1780.5,506.2 1780.75,500.4 1781.0,509.2 1781.25,517.9 1781.5,517.9 1781.75,512.1 1782.0,526.6 1782.25,523.7 1782.5,526.6 1782.75,520.8 1783.0,532.4 1783.25,526.6 1783.5,538.3 1783.75,541.2 1784.0,535.3 1784.25,541.2 1784.5,552.8 1784.75,544.1 1785.0,547.0 1785.25,552.8 1785.75,552.8 1786.0,558.6 1786.25,561.5 1786.5,564.4 1787.0,564.4 1787.25,561.5 1787.5,564.4 1787.75,555.7 1788.25,555.7 1788.5,547.0 1789.0,547.0 1789.25,555.7 1789.5,544.1 1789.75,549.9 1790.0,555.7 1790.25,558.6 1790.5,558.6 1790.75,555.7 1791.0,555.7 1791.25,558.6 1791.5,558.6 1791.75,552.8 1792.0,544.1 1792.25,532.4 1792.5,538.3 1792.75,529.5 1793.0,526.6 1793.25,523.7 1793.5,512.1 1793.75,506.2 1794.0,509.2 1794.25,503.3 1794.5,488.8 1794.75,488.8 1795.0,480.1 1795.25,474.2 1795.5,468.4 1795.75,459.7 1796.0,453.9 1796.25,445.1 1796.5,436.4 1796.75,427.7 1797.0,424.8 1797.25,419.0 1797.5,413.1 1797.75,410.2 1798.0,404.4 1798.25,398.6 1798.5,389.9 1798.75,384.0 1799.0,384.0 1799.25,381.1 1799.5,372.4 1799.75,366.6 1800.0,357.9 1800.25,346.2 1800.5,334.6 1800.75,331.7 1801.0,320.0 1801.25,320.0 1801.5,311.3 1801.75,302.6 1802.0,305.5 1802.25,299.7 1803.0,299.7 1803.25,302.6 1803.5,302.6 1803.75,299.7 1804.0,302.6 1804.25,305.5 1804.5,308.4 1804.75,302.6 1805.0,302.6 1805.25,299.7 1805.5,302.6 1805.75,296.8 1806.0,293.9 1806.25,296.8 1806.5,288.0 1806.75,290.9 1807.0,288.0 1807.5,288.0 1807.75,285.1 1808.0,282.2 1808.5,282.2 1808.75,279.3 1809.0,282.2 1809.25,282.2 1809.5,288.0 1809.75,290.9 1810.0,293.9 1810.25,293.9 1810.5,302.6 1810.75,305.5 1811.0,308.4 1811.25,311.3 1811.5,314.2 1811.75,320.0 1812.25,320.0 1812.5,322.9 1812.75,325.9 1813.0,328.8 1813.25,331.7 1813.75,331.7 1814.0,334.6 1814.25,334.6 1814.5,337.5 1815.0,337.5 1815.25,340.4 1815.5,337.5 1815.75,340.4 1816.0,340.4 1816.25,343.3 1816.5,343.3 1816.75,340.4 1817.0,346.2 1817.25,346.2 1817.5,349.1 1818.25,349.1 1818.5,352.0 1818.75,352.0 1819.0,349.1 1819.25,355.0 1819.5,355.0 1819.75,357.9 1820.0,360.8 1820.25,369.5 1820.5,369.5 1820.75,360.8 1821.0,357.9 1821.75,357.9 1822.0,360.8 1822.75,360.8 1823.0,366.6 1823.25,360.8 1823.5,360.8 1823.75,363.7 1824.0,363.7 1824.25,366.6 1824.5,363.7 1824.75,369.5 1825.25,369.5 1825.5,366.6 1825.75,372.4 1826.0,372.4 1826.25,369.5 1826.75,369.5 1827.0,375.3 1828.25,375.3 1828.5,384.0 1828.75,389.9 1829.0,395.7" stroke="#60a7f0" stroke-dasharray="1.2 0.8"/></g>
<rect x="874.5" y="855.5" width="173" height="27" fill="none" stroke="#808080" stroke-width="1"/>
<line x1="879" y1="874" x2="890" y2="874" stroke="#91c2f3" stroke-width="2"/>
<g style="filter:grayscale(1)">
<text x="80" y="681.0" text-anchor="end" class="yt">-2</text>
<text x="80" y="651.9" text-anchor="end" class="yt">-1</text>
<text x="80" y="622.8" text-anchor="end" class="yt">0</text>
<text x="80" y="593.7" text-anchor="end" class="yt">1</text>
<text x="80" y="564.6" text-anchor="end" class="yt">2</text>
<text x="80" y="535.5" text-anchor="end" class="yt">3</text>
<text x="80" y="506.4" text-anchor="end" class="yt">4</text>
<text x="80" y="477.3" text-anchor="end" class="yt">5</text>
<text x="80" y="448.2" text-anchor="end" class="yt">6</text>
<text x="80" y="419.1" text-anchor="end" class="yt">7</text>
<text x="80" y="390.0" text-anchor="end" class="yt">8</text>
<text x="80" y="361.0" text-anchor="end" class="yt">9</text>
<text x="80" y="331.9" text-anchor="end" class="yt">10</text>
<text x="80" y="302.8" text-anchor="end" class="yt">11</text>
<text x="80" y="273.7" text-anchor="end" class="yt">12</text>
<text x="80" y="244.6" text-anchor="end" class="yt">13</text>
<text x="80" y="215.5" text-anchor="end" class="yt">14</text>
<text x="80" y="186.4" text-anchor="end" class="yt">15</text>
<text x="80" y="157.3" text-anchor="end" class="yt">16</text>
<text x="80" y="128.2" text-anchor="end" class="yt">17</text>
<text x="80" y="99.1" text-anchor="end" class="yt">18</text>
<text x="80" y="70.0" text-anchor="end" class="yt">19</text>
<text transform="translate(96.0,840) rotate(-90)" class="xt">2025-10-01 00:00</text>
<text transform="translate(152.0,840) rotate(-90)" class="xt">2025-10-02 00:00</text>
<text transform="translate(208.0,840) rotate(-90)" class="xt">2025-10-03 00:00</text>
<text transform="translate(264.0,840) rotate(-90)" class="xt">2025-10-04 00:00</text>
<text transform="translate(320.0,840) rotate(-90)" class="xt">2025-10-05 00:00</text>
<text transform="translate(376.0,840) rotate(-90)" class="xt">2025-10-06 00:00</text>
<text transform="translate(432.0,840) rotate(-90)" class="xt">2025-10-07 00:00</text>
<text transform="translate(488.0,840) rotate(-90)" class="xt">2025-10-08 00:00</text>
<text transform="translate(544.0,840) rotate(-90)" class="xt">2025-10-09 00:00</text>
<text transform="translate(600.0,840) rotate(-90)" class="xt">2025-10-10 00:00</text>
<text transform="translate(657.0,840) rotate(-90)" class="xt">2025-10-11 00:00</text>
<text transform="translate(713.0,840) rotate(-90)" class="xt">2025-10-12 00:00</text>
<text transform="translate(769.0,840) rotate(-90)" class="xt">2025-10-13 00:00</text>
<text transform="translate(825.0,840) rotate(-90)" class="xt">2025-10-14 00:00</text>
<text transform="translate(881.0,840) rotate(-90)" class="xt">2025-10-15 00:00</text>
<text transform="translate(937.0,840) rotate(-90)" class="xt">2025-10-16 00:00</text>
<text transform="translate(993.0,840) rotate(-90)" class="xt">2025-10-17 00:00</text>
<text transform="translate(1049.0,840) rotate(-90)" class="xt">2025-10-18 00:00</text>
<text transform="translate(1105.0,840) rotate(-90)" class="xt">2025-10-19 00:00</text>
<text transform="translate(1161.0,840) rotate(-90)" class="xt">2025-10-20 00:00</text>
<text transform="translate(1217.0,840) rotate(-90)" class="xt">2025-10-21 00:00</text>
<text transform="translate(1273.0,840) rotate(-90)" class="xt">2025-10-22 00:00</text>
<text transform="translate(1329.0,840) rotate(-90)" class="xt">2025-10-23 00:00</text>
<text transform="translate(1385.0,840) rotate(-90)" class="xt">2025-10-24 00:00</text>
<text transform="translate(1441.0,840) rotate(-90)" class="xt">2025-10-25 00:00</text>
<text transform="translate(1497.0,840) rotate(-90)" class="xt">2025-10-26 00:00</text>
<text transform="translate(1553.0,840) rotate(-90)" class="xt">2025-10-26 23:00</text>
<text transform="translate(1609.0,840) rotate(-90)" class="xt">2025-10-27 23:00</text>
<text transform="translate(1666.0,840) rotate(-90)" class="xt">2025-10-28 23:00</text>
<text transform="translate(1722.0,840) rotate(-90)" class="xt">2025-10-29 23:00</text>
<text transform="translate(1778.0,840) rotate(-90)" class="xt">2025-10-30 23:00</text>
<text x="959.3" y="25.7" text-anchor="middle" class="title">Temperaturverlauf 010-25</text>
<text x="562" y="52" class="sub">Minimaltemperatur: -1.1 °C</text>
<text x="813" y="52" class="sub">Durchschnittstemperatur: 10.9 °C</text>
<text x="1123.2" y="52" class="sub">Maximaltemperatur: 18.2 °C</text>
<text transform="translate(25.6,441) rotate(-90)" class="ylab">Temperatur in °C</text>
<text x="899" y="876" class="leg">Temperatur in °C</text>
</g>
</svg></body></html>
